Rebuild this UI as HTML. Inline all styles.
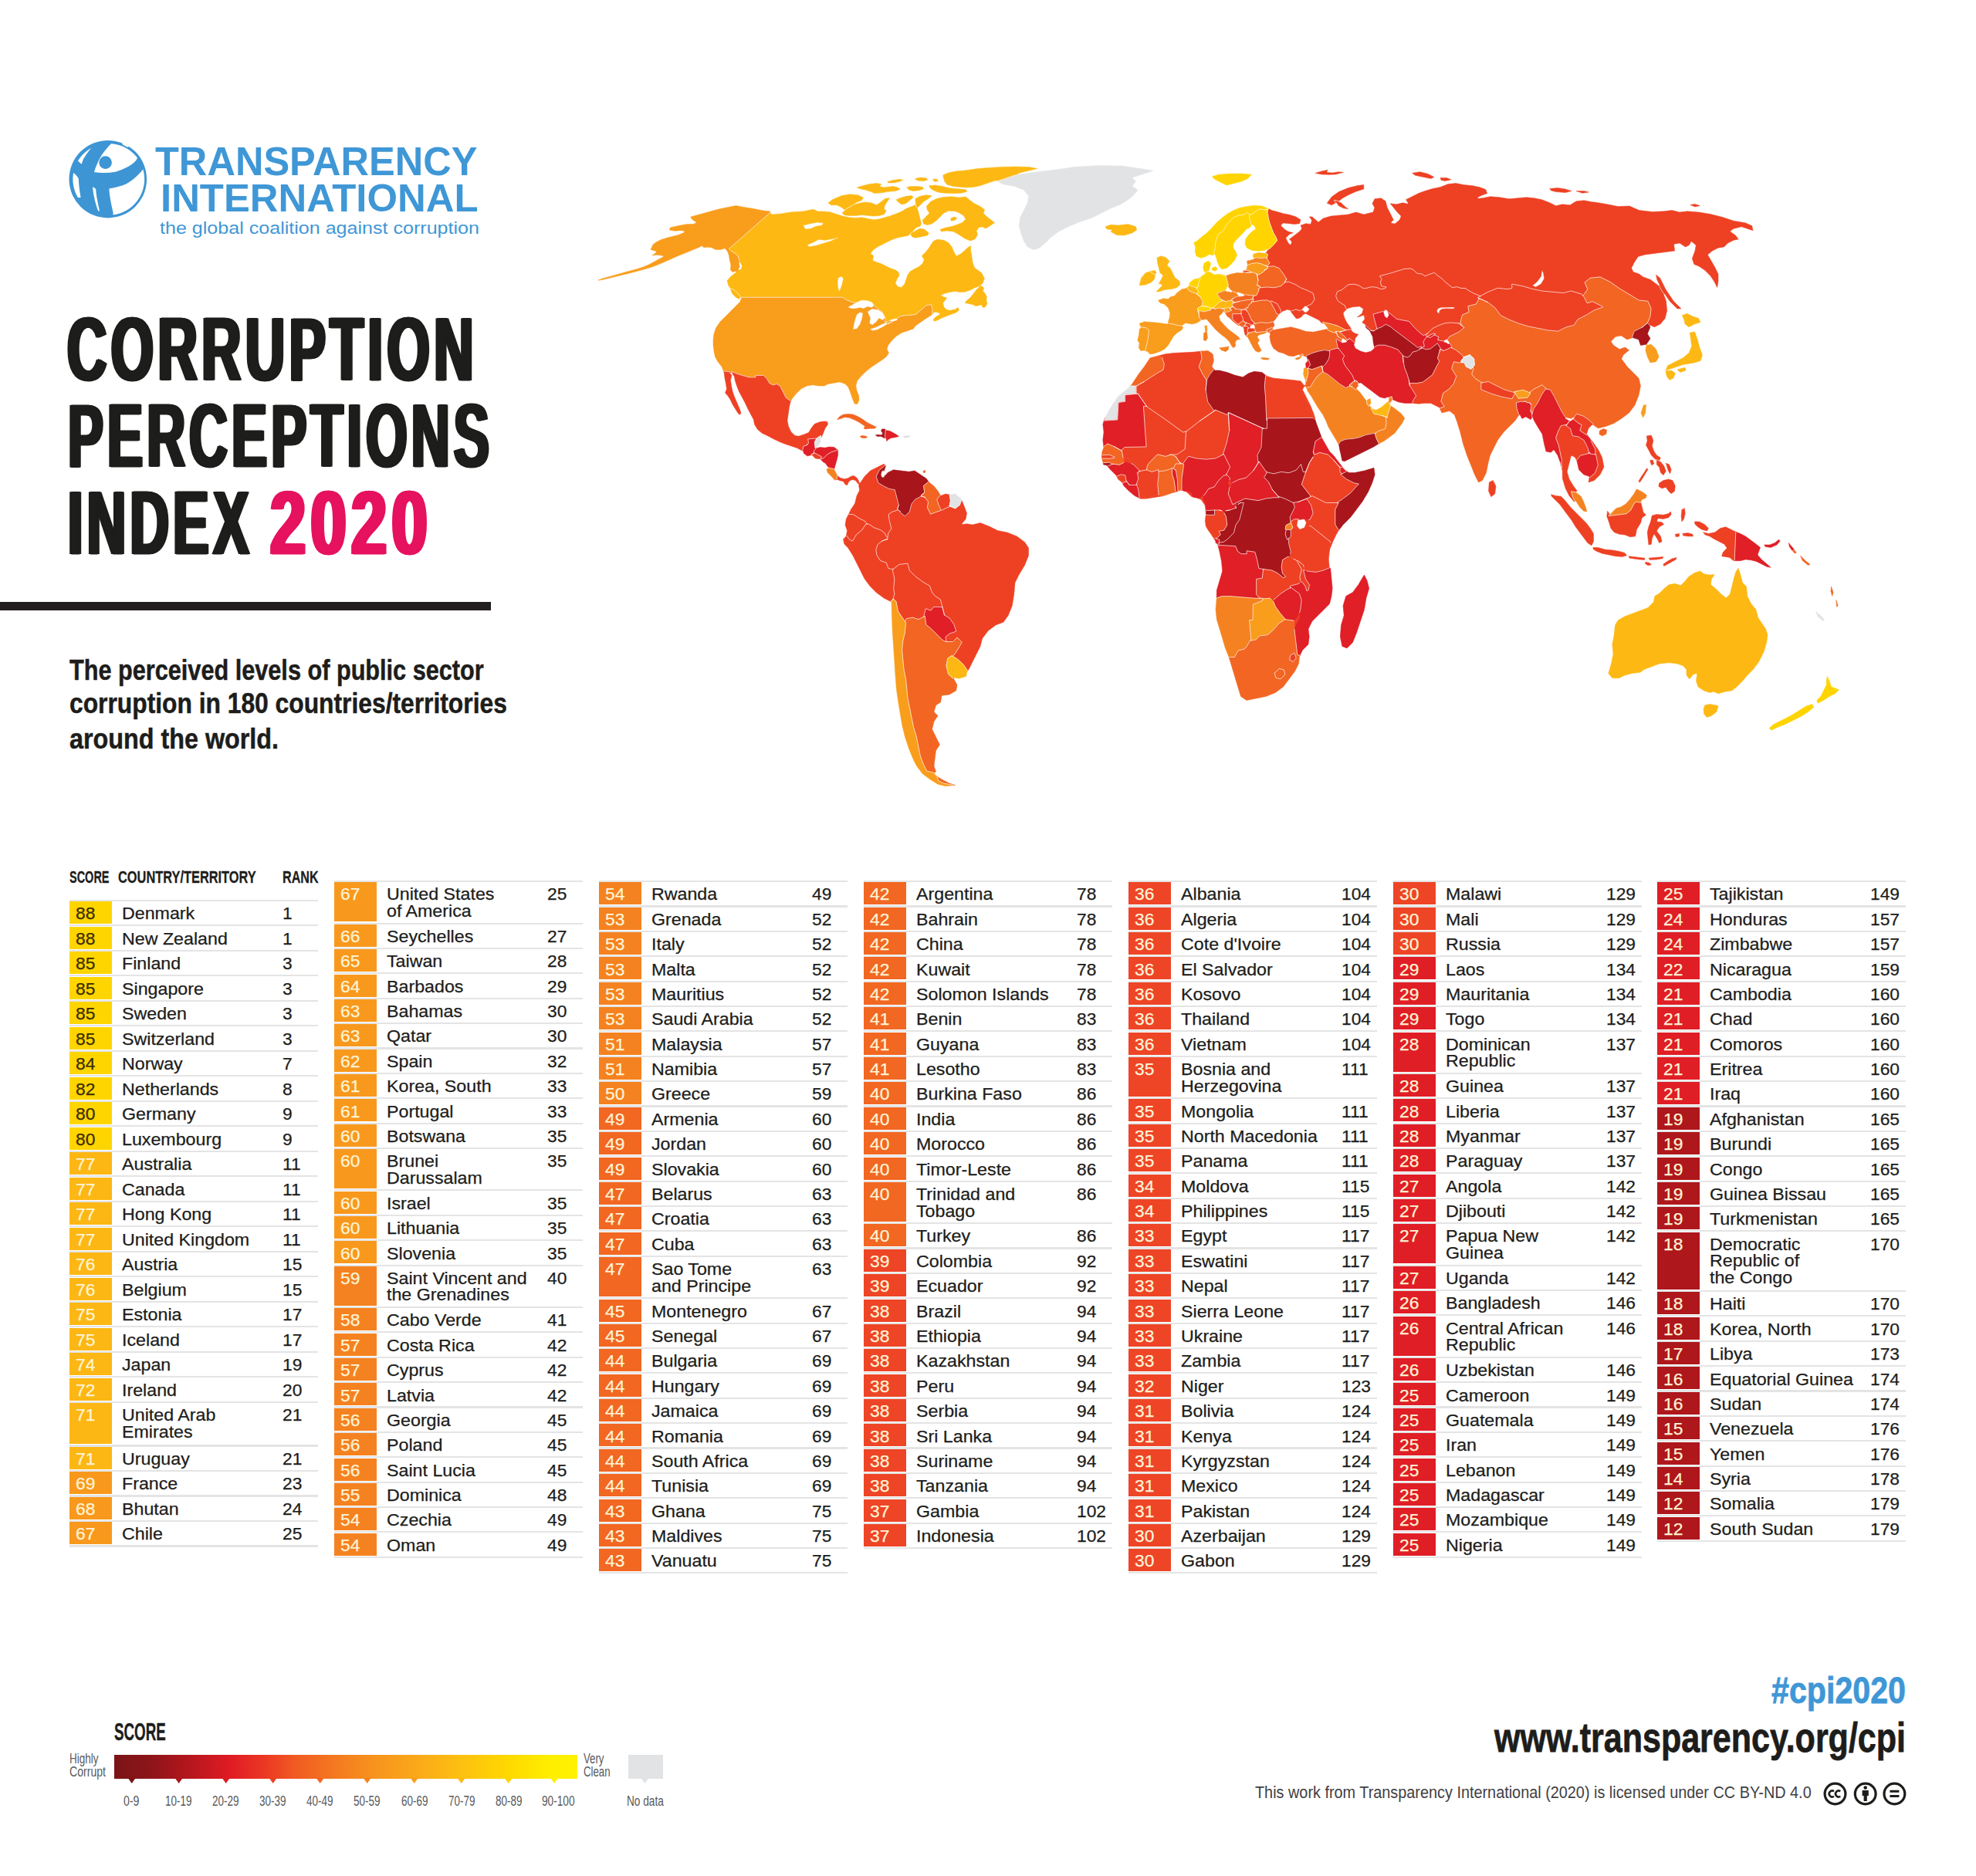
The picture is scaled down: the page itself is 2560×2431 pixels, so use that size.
<!DOCTYPE html>
<html><head><meta charset="utf-8"><title>Corruption Perceptions Index 2020</title>
<style>
html,body{margin:0;padding:0;background:#fff}
body{width:2560px;height:2431px;position:relative;overflow:hidden;font-family:"Liberation Sans",sans-serif}
.t{position:absolute;white-space:pre;transform-origin:0 50%}
.ln{position:absolute;width:322.7px;height:2.2px;background:#e4e4e4}
.sc{position:absolute;width:55.3px}
.n{position:absolute;white-space:pre;font-size:21.5px;line-height:21.6px;color:#1d1d1b;transform-origin:0 50%;-webkit-text-stroke:0.25px currentColor}
.n.s{transform:scaleX(1.06);line-height:21.5px}
.n.nm{transform:scaleX(1.08);transform-origin:0 0}
.rule{position:absolute;left:0;top:779.6px;width:635.8px;height:11.3px;background:#231f20}
</style></head><body>
<svg style="position:absolute;left:0;top:0" width="2560" height="1100" viewBox="0 0 2560 1100">
<g stroke-linejoin="round" stroke-width="0.5" fill-rule="evenodd">
<path d="M1767.9,412.5 1769.7,411.6 1770.8,409.9 1770.2,409.2 1767.6,409.8Z" fill="#EE4023" stroke="#EE4023"/>
<path d="M958.2,339.2 958.8,339.4 959.2,340.0 961.4,344.9 960.1,349.1 959.5,349.5 958.0,349.5 957.3,349.9 956.8,349.7 955.7,351.0 953.9,351.9 953.9,352.4 953.7,352.8 946.3,358.8 942.0,363.8 943.8,370.0 946.7,374.1 950.5,375.3 955.8,379.8 959.9,385.4 960.4,385.7 960.8,385.2 1091.6,385.2 1096.7,388.6 1105.2,391.9 1109.2,391.7 1116.2,388.8 1123.8,389.2 1129.5,391.2 1132.5,395.0 1131.8,396.0 1133.1,396.6 1143.3,404.3 1147.0,411.2 1146.9,411.4 1147.3,412.3 1146.3,418.8 1148.0,418.2 1147.7,417.0 1152.0,415.7 1151.2,415.5 1157.5,413.0 1161.5,412.6 1167.4,409.4 1186.3,407.6 1193.6,401.4 1200.1,395.6 1206.5,394.5 1208.0,400.9 1207.5,407.4 1210.5,404.4 1211.0,404.2 1215.7,405.0 1217.4,406.5 1217.7,407.0 1217.4,407.8 1213.3,410.1 1209.2,413.6 1210.1,416.2 1214.5,414.9 1219.6,412.3 1232.2,407.3 1238.6,405.0 1242.4,402.2 1241.1,398.4 1237.3,401.0 1230.9,402.2 1225.9,400.9 1222.9,397.9 1221.6,392.7 1224.6,389.0 1226.5,385.8 1222.0,384.7 1219.6,383.1 1219.4,382.5 1219.6,382.0 1224.6,380.1 1231.0,378.4 1237.3,377.6 1243.6,378.5 1249.9,378.2 1256.3,376.3 1262.6,373.1 1267.3,371.3 1268.2,371.5 1270.5,370.0 1270.7,369.1 1273.4,366.8 1275.3,360.5 1271.5,353.5 1262.5,347.0 1260.1,340.2 1257.5,323.9 1257.5,318.4 1253.0,321.5 1248.9,325.5 1244.0,329.5 1239.1,331.7 1238.5,331.3 1235.9,326.6 1232.8,319.4 1228.8,314.4 1222.6,311.3 1214.6,310.3 1209.5,312.3 1206.5,316.4 1203.4,321.5 1199.4,326.6 1194.3,331.6 1197.3,336.6 1195.3,341.6 1190.3,345.7 1184.2,348.8 1179.2,351.8 1176.1,355.9 1172.0,368.0 1167.9,372.4 1163.0,371.6 1160.0,367.1 1161.9,361.9 1165.0,356.9 1164.0,352.8 1159.9,349.8 1153.8,347.7 1141.7,341.7 1135.6,339.7 1130.9,337.7 1130.7,337.0 1131.6,331.6 1128.2,329.0 1127.9,328.3 1131.7,323.4 1137.7,319.4 1153.9,311.3 1161.9,308.3 1176.9,305.2 1178.6,303.4 1182.7,300.4 1182.6,299.8 1182.8,299.3 1187.4,294.7 1192.1,293.1 1193.6,290.0 1189.0,271.8 1188.1,270.0 1188.2,269.3 1186.0,265.7 1173.9,270.3 1169.4,273.3 1164.8,275.6 1152.7,280.1 1146.5,281.7 1138.9,283.9 1131.5,284.7 1116.2,281.7 1108.6,282.4 1099.4,281.7 1091.8,280.1 1075.2,274.8 1067.6,274.1 1060.0,274.1 1053.6,271.3 1040.4,273.9 1024.3,274.9 1012.2,276.9 1000.4,277.9 999.8,277.7 997.8,275.5 944.4,322.4 946.8,324.8 951.8,327.9 955.9,331.4ZM1089.1,374.1 1087.0,378.1 1085.4,372.1 1085.0,365.0 1086.0,359.9 1090.1,357.9 1092.7,360.9 1091.1,368.0ZM1076.9,312.3 1056.7,318.4 1048.6,319.8 1045.5,317.4 1054.7,313.4 1060.7,310.3 1068.8,311.3 1085.0,308.3ZM1050.6,296.2 1043.5,297.2 1040.5,292.1 1048.6,290.1 1058.7,288.1 1066.8,289.1 1064.8,292.1 1056.7,293.5ZM1149.2,418.7 1150.0,420.0 1149.9,420.1 1155.9,417.1Z" fill="#FDB813" stroke="#FDB813"/>
<path d="M1268.3,371.6 1268.5,372.1 1268.3,372.7 1265.8,374.4 1257.5,385.2 1252.5,389.6 1250.0,392.4 1260.0,394.6 1263.9,396.5 1267.7,395.9 1271.1,394.9 1271.8,395.3 1273.4,398.4 1276.5,397.8 1279.0,393.4 1277.8,389.0 1278.4,384.5 1276.5,380.7 1273.5,377.0 1274.6,373.1 1271.5,370.6 1270.8,370.4 1270.5,370.0Z" fill="#FDB813" stroke="#FDB813"/>
<path d="M950.5,375.3 946.7,374.0 946.6,374.5 946.3,375.0 948.8,380.5 953.0,385.0 957.5,387.5 958.8,385.4 959.4,385.2 960.0,385.4 955.8,379.8Z" fill="#FDB813" stroke="#FDB813"/>
<path d="M955.6,351.1 956.8,349.7 956.4,349.2 956.4,348.5 958.3,346.2 957.3,340.0 957.6,339.4 958.2,339.2 956.1,331.7 951.9,328.0 946.8,324.8 944.4,322.4 997.8,275.5 997.5,274.7 997.9,274.0 987.7,272.8 975.1,270.2 962.4,268.3 953.6,266.4 934.6,270.2 924.5,272.8 906.8,277.8 894.7,281.0 896.6,284.2 901.8,287.7 902.0,288.4 901.7,289.0 897.9,290.5 890.3,290.5 882.7,291.8 868.2,294.9 867.5,298.1 873.9,299.3 881.5,298.7 886.1,299.2 886.6,299.6 886.7,300.3 885.3,301.8 878.9,304.4 863.8,308.2 856.2,310.7 849.8,313.9 846.0,317.1 842.9,323.4 849.8,325.5 850.2,325.8 850.3,326.4 850.1,326.9 848.6,328.4 844.8,331.0 851.1,330.3 858.5,331.3 859.0,331.5 859.3,331.9 859.3,332.5 859.0,332.9 841.0,342.7 833.3,345.9 825.8,348.4 818.2,350.6 810.6,352.5 803.0,354.8 780.3,360.9 775.2,363.2 780.3,362.5 815.7,353.9 833.4,349.3 842.3,346.8 851.1,343.6 867.5,336.5 875.2,332.9 906.7,320.0 909.1,318.6 909.7,318.8 911.8,320.8 916.8,320.2 921.8,320.8 927.0,323.4 933.3,323.4 938.3,322.1 939.7,322.3 942.6,326.1 944.4,331.0 945.4,337.4 946.9,343.6 946.4,350.1 949.7,352.8 952.8,351.3 953.5,351.4 953.9,351.9Z" fill="#F99D1C" stroke="#F99D1C"/>
<path d="M960.4,385.7 960.7,386.1 960.7,386.7 960.0,387.5 958.7,391.3 932.5,417.5 927.5,425.0 925.0,432.5 924.0,440.0 924.0,447.5 925.0,455.0 926.5,462.5 930.0,468.7 935.0,475.0 937.9,481.9 937.5,480.9 945.5,482.0 946.0,482.6 947.5,482.5 947.2,481.6 947.4,481.4 957.8,485.3 970.2,488.9 979.0,488.9 979.0,486.4 989.2,486.4 993.3,490.6 997.0,496.7 1001.4,498.9 1006.4,497.6 1010.8,500.5 1018.3,515.5 1024.5,519.8 1024.1,520.6 1026.5,516.3 1031.5,510.0 1038.0,503.8 1045.5,500.0 1053.0,498.8 1060.5,500.0 1068.0,500.0 1073.0,497.5 1088.0,495.0 1095.0,497.5 1098.9,501.4 1101.5,508.0 1104.0,515.5 1107.0,523.0 1110.5,523.7 1113.0,518.7 1112.5,512.5 1110.0,506.2 1108.8,500.1 1110.6,493.6 1115.5,487.5 1120.5,482.5 1128.0,476.3 1143.0,466.3 1148.0,462.5 1151.5,457.5 1149.1,452.5 1150.5,447.5 1155.5,441.3 1160.4,436.3 1168.0,431.2 1183.0,426.2 1186.3,422.0 1200.0,412.5 1206.3,408.6 1207.5,407.4 1208.0,400.9 1206.5,394.5 1200.1,395.6 1193.6,401.4 1186.3,407.6 1167.4,409.4 1161.5,412.6 1163.0,412.5 1162.5,415.0 1156.2,417.0 1152.0,415.7 1147.7,417.0 1148.0,418.2 1148.8,418.0 1149.2,418.7 1155.9,417.1 1149.8,420.1 1143.8,423.8 1136.2,427.5 1130.0,428.8 1127.5,426.2 1135.0,423.8 1142.5,420.0 1146.3,418.8 1147.3,412.3 1146.9,411.4 1143.8,415.0 1138.8,412.5 1135.0,417.5 1130.0,421.2 1126.2,418.8 1127.5,412.5 1123.8,403.8 1130.0,400.0 1137.5,401.2 1143.6,404.9 1143.3,404.3 1133.1,396.6 1131.8,396.0 1130.0,398.8 1123.8,397.5 1118.8,400.0 1113.8,398.8 1108.8,400.0 1103.0,400.0 1098.0,398.0 1103.8,395.0 1109.2,391.7 1105.2,391.9 1096.7,388.6 1091.6,385.2 960.8,385.2ZM1108.0,412.5 1110.0,407.5 1113.8,404.5 1118.0,405.5 1117.0,412.5 1114.5,420.0 1110.0,426.2 1105.0,427.0 1106.2,420.0Z" fill="#F99D1C" stroke="#F99D1C"/>
<path d="M1044.7,577.1 1045.1,576.4 1045.9,575.9 1046.5,575.9 1047.5,573.9 1046.7,568.9 1057.5,568.1 1057.5,568.9 1058.1,567.9 1063.4,564.4 1063.7,567.1 1064.0,567.0 1065.9,562.7 1066.4,562.1 1066.6,561.0 1069.0,555.0 1072.5,550.0 1072.2,548.8 1072.5,547.9 1071.8,547.3 1071.5,546.3 1069.6,546.2 1068.6,545.9 1065.0,546.3 1061.2,547.1 1055.1,549.5 1051.3,554.5 1047.6,560.5 1041.7,562.9 1034.7,565.2 1030.0,564.5 1024.9,559.8 1021.5,552.5 1020.0,545.1 1022.5,527.5 1024.0,520.9 1024.5,519.8 1018.3,515.5 1010.8,500.5 1006.4,497.6 1001.4,498.9 997.0,496.7 993.3,490.6 989.2,486.4 979.0,486.4 979.0,488.9 970.2,488.9 957.8,485.3 947.4,481.4 947.2,481.6 947.5,482.5 948.7,483.1 949.5,485.5 951.2,487.6 952.5,493.8 954.5,500.0 957.5,507.5 965.5,522.5 969.0,530.0 976.4,543.9 977.5,550.0 981.5,556.5 987.5,561.5 995.0,565.0 1002.5,569.0 1010.0,572.5 1017.5,575.5 1032.5,580.5 1039.5,584.2 1041.0,578.1Z" fill="#EE4023" stroke="#EE4023"/>
<path d="M937.5,480.9 938.0,482.1 939.0,490.0 940.5,497.5 941.5,503.9 939.5,509.0 943.0,513.1 946.2,517.9 949.0,524.0 955.5,534.5 958.0,537.5 960.0,535.5 958.5,530.5 951.0,513.0 949.0,507.0 947.5,500.0 946.5,492.5 948.0,486.2 945.8,483.8 945.7,483.1 946.1,482.6 945.5,482.0Z" fill="#EE4023" stroke="#EE4023"/>
<path d="M1041.0,578.1 1039.6,583.8 1039.6,584.2 1040.3,584.2 1040.7,584.6 1041.3,587.5 1046.1,591.1 1050.6,589.8 1054.2,587.5 1054.2,584.6 1058.1,580.0 1057.9,579.8 1056.1,580.4 1055.4,572.6 1057.5,568.9 1057.5,568.1 1046.7,568.9 1047.5,573.9 1046.5,575.8 1045.9,575.7 1045.0,576.2 1044.5,577.2Z" fill="#E01F26" stroke="#E01F26"/>
<path d="M1056.1,580.4 1057.9,579.8 1057.8,579.1 1058.3,578.6 1060.7,577.7 1063.1,571.7 1062.7,568.1 1063.0,567.5 1063.7,567.1 1063.4,564.4 1058.1,567.9 1055.4,572.6Z" fill="#E2E3E4" stroke="#E2E3E4"/>
<path d="M1054.2,587.5 1055.2,586.9 1060.6,589.6 1064.5,591.9 1063.2,594.5 1063.5,594.9 1067.4,593.2 1071.6,589.1 1076.7,585.9 1082.8,584.0 1085.1,582.9 1080.7,579.6 1074.7,579.0 1068.6,580.2 1062.5,579.6 1059.1,580.6 1058.1,580.0 1054.2,584.6Z" fill="#E01F26" stroke="#E01F26"/>
<path d="M1051.3,589.5 1052.1,589.8 1056.4,594.1 1061.9,594.7 1062.5,594.3 1063.2,594.5 1064.5,591.9 1055.2,586.7 1050.3,589.7 1050.5,589.8Z" fill="#EE4023" stroke="#EE4023"/>
<path d="M1080.8,607.7 1083.8,597.2 1085.6,589.9 1085.6,583.2 1085.1,582.9 1082.8,584.0 1076.7,585.9 1071.6,589.1 1067.4,593.2 1063.5,594.9 1063.7,596.0 1066.2,598.4 1069.8,600.8 1072.2,604.5 1073.6,605.4 1073.9,605.9 1077.3,607.1Z" fill="#E01F26" stroke="#E01F26"/>
<path d="M1084.7,616.0 1080.8,608.8 1080.8,607.7 1077.3,607.1 1073.9,605.9 1073.6,606.8 1071.0,608.1 1072.2,612.4 1078.3,618.4 1081.3,622.1 1081.4,622.1 1084.4,621.5 1083.9,621.6Z" fill="#F58220" stroke="#F58220"/>
<path d="M1083.9,621.6 1084.9,621.4 1088.0,622.7 1092.7,623.9 1094.7,627.5 1097.7,628.7 1099.1,625.0 1101.4,622.7 1104.8,621.5 1108.6,622.7 1111.1,626.3 1112.4,627.0 1113.2,625.8 1112.3,622.7 1109.9,619.0 1106.2,616.6 1102.6,617.2 1098.9,619.6 1094.0,620.8 1089.2,619.6 1085.3,617.1 1084.7,616.0Z" fill="#EE4023" stroke="#EE4023"/>
<path d="M1089.3,542.5 1094.3,540.7 1100.2,541.3 1106.2,543.7 1112.3,546.8 1120.2,551.9 1120.4,552.8 1119.0,555.3 1122.0,555.9 1126.9,555.3 1133.0,555.3 1135.4,553.4 1123.3,547.4 1117.2,543.1 1111.1,539.5 1105.0,537.0 1099.0,536.4 1092.9,537.0 1088.0,539.5 1084.4,543.7Z" fill="#F26522" stroke="#F26522"/>
<path d="M1116.6,567.4 1120.8,567.8 1123.8,566.6 1121.4,565.0 1117.2,564.4 1114.1,565.6Z" fill="#F26522" stroke="#F26522"/>
<path d="M1146.3,555.9 1142.7,555.9 1141.5,558.3 1143.5,561.3 1143.6,561.8 1143.3,562.4 1141.7,563.6 1141.2,563.7 1137.8,563.2 1134.2,563.8 1136.6,565.6 1141.5,565.6 1146.3,568.0 1146.8,567.5 1146.5,565.7 1147.2,556.7Z" fill="#A8151B" stroke="#A8151B"/>
<path d="M1146.8,567.5 1147.5,567.5 1148.0,568.0 1148.8,571.7 1151.2,569.2 1154.8,567.4 1159.7,566.8 1164.5,565.6 1161.5,563.2 1157.2,560.7 1152.4,558.3 1148.2,557.7 1147.2,556.7 1146.5,565.7Z" fill="#E01F26" stroke="#E01F26"/>
<path d="M1171.2,567.4 1178.5,566.8 1177.9,564.4 1170.6,565.0Z" fill="#E2E3E4" stroke="#E2E3E4"/>
<path d="M1299.0,238.7 1314.0,241.3 1326.3,246.2 1332.6,253.7 1331.5,262.5 1321.5,282.5 1320.3,292.5 1322.8,302.5 1326.5,312.5 1331.5,320.0 1339.0,323.7 1346.5,321.2 1354.0,315.0 1361.6,307.5 1371.6,300.0 1384.0,293.7 1399.0,287.5 1414.0,282.5 1439.0,270.0 1451.5,265.0 1461.5,258.8 1469.0,252.5 1474.0,246.3 1467.0,241.4 1467.1,240.6 1471.5,235.0 1467.5,231.0 1467.3,230.4 1467.5,229.9 1494.0,221.3 1479.0,218.7 1454.0,215.0 1424.0,214.5 1394.0,216.2 1366.5,220.0 1336.5,223.7 1319.9,226.2 1319.3,226.1 1318.9,225.7 1309.3,228.8 1298.7,232.6 1292.4,234.4Z" fill="#E2E3E4" stroke="#E2E3E4"/>
<path d="M1434.0,297.0 1439.9,297.5 1440.3,298.0 1440.3,298.6 1439.0,300.0 1446.5,304.5 1456.5,305.0 1466.5,302.0 1472.7,298.0 1471.5,293.8 1461.5,290.5 1449.0,292.0 1439.0,291.3 1432.0,293.8Z" fill="#FDB813" stroke="#FDB813"/>
<path d="M1255.0,867.5 1270.0,837.5 1272.6,827.4 1280.0,817.5 1290.0,810.0 1300.0,806.2 1306.2,797.5 1311.3,785.0 1313.7,770.0 1315.0,755.0 1320.0,745.0 1327.5,732.5 1332.5,720.0 1332.5,710.0 1327.5,702.5 1317.5,695.0 1305.0,690.0 1292.5,687.5 1282.5,682.5 1270.0,677.5 1260.0,680.0 1252.5,678.8 1247.4,679.6 1246.7,679.4 1246.4,678.9 1246.5,678.2 1251.2,672.5 1252.5,665.0 1248.8,655.0 1245.6,647.7 1243.4,654.4 1237.7,658.7 1231.2,656.1 1225.4,658.5 1221.4,660.5 1221.5,660.6 1219.5,661.4 1212.9,663.5 1205.7,666.3 1201.4,657.7 1202.6,650.3 1199.0,645.4 1198.9,644.6 1193.7,642.8 1193.1,643.4 1185.7,647.1 1181.0,653.0 1178.4,663.0 1172.6,668.9 1166.6,664.4 1166.2,662.5 1165.6,662.3 1163.4,660.7 1155.5,663.4 1151.1,666.7 1152.3,674.8 1154.9,685.2 1151.0,690.4 1149.8,697.3 1150.3,698.0 1149.7,698.3 1149.5,699.5 1148.8,699.6 1148.3,698.8 1143.0,700.9 1137.1,705.6 1134.8,712.6 1136.0,719.6 1140.7,726.6 1148.3,729.2 1150.8,736.6 1157.2,737.6 1164.6,731.5 1175.8,730.1 1178.4,739.4 1185.7,746.7 1195.6,754.1 1204.6,759.3 1207.2,767.0 1210.7,771.7 1218.4,776.9 1223.4,796.9 1230.8,801.7 1236.0,809.5 1238.8,818.2 1230.5,820.9 1224.9,825.4 1225.9,831.5 1234.6,831.5 1240.0,826.0 1246.3,832.3 1238.4,845.6 1234.5,850.4 1240.6,854.2 1248.3,861.3 1253.7,869.2 1253.1,870.1Z" fill="#EE4023" stroke="#EE4023"/>
<path d="M1148.8,699.6 1149.5,699.5 1149.7,698.3 1148.3,698.8ZM1151.0,690.4 1154.9,685.2 1152.3,674.8 1151.1,666.7 1155.5,663.4 1163.3,660.8 1162.7,660.1 1162.7,659.5 1164.0,655.5 1164.5,655.0 1161.5,642.8 1159.2,634.7 1152.2,633.5 1144.5,629.7 1137.9,625.7 1135.1,617.4 1139.2,609.3 1146.8,603.0 1145.0,601.3 1127.5,610.0 1120.0,617.5 1114.5,625.7 1113.9,626.0 1113.2,625.8 1112.4,627.0 1112.9,627.7 1112.5,628.8 1113.6,635.2 1110.0,642.5 1107.5,652.5 1102.5,660.0 1099.3,666.5 1105.3,666.5 1113.0,671.6 1120.7,675.4 1123.1,679.0 1125.3,679.0 1133.0,684.0 1140.5,686.6 1145.8,690.5 1149.8,697.3Z" fill="#EE4023" stroke="#EE4023"/>
<path d="M1159.2,634.7 1161.5,642.8 1164.5,654.9 1163.8,655.5 1162.5,659.4 1162.6,660.0 1165.5,662.4 1166.2,662.6 1166.6,664.4 1172.6,668.9 1178.4,663.0 1181.0,653.0 1185.7,647.1 1193.1,643.4 1193.8,642.8 1193.5,642.2 1193.7,641.5 1197.9,638.3 1196.4,629.6 1203.1,624.2 1203.7,624.9 1200.0,620.0 1200.0,620.0 1185.0,610.0 1177.5,611.2 1157.5,608.8 1150.0,612.5 1147.3,616.0 1146.7,616.2 1146.0,615.9 1145.7,618.4 1142.7,619.0 1141.2,615.4 1142.1,611.1 1144.5,609.3 1145.2,610.7 1147.5,603.8 1146.8,603.0 1139.2,609.3 1135.1,617.4 1137.9,625.7 1144.5,629.7 1152.2,633.5Z" fill="#A8151B" stroke="#A8151B"/>
<path d="M1199.0,645.4 1202.6,650.3 1201.4,657.7 1205.7,666.3 1212.9,663.5 1219.5,661.3 1216.5,655.4 1213.8,647.3 1218.2,641.6 1215.0,636.2 1210.0,630.0 1203.8,625.1 1203.1,624.2 1196.4,629.6 1197.8,638.2 1193.7,641.4 1193.3,642.0 1193.4,642.6 1193.8,643.1 1198.9,644.7Z" fill="#F26522" stroke="#F26522"/>
<path d="M1216.5,655.4 1219.5,661.4 1225.4,658.5 1231.2,656.1 1230.0,655.7 1231.4,648.7 1230.1,641.0 1231.1,641.2 1225.0,640.0 1225.0,640.0 1219.4,642.2 1218.8,642.2 1218.1,641.6 1213.8,647.3Z" fill="#EE4023" stroke="#EE4023"/>
<path d="M1243.4,654.4 1245.6,647.7 1245.0,646.3 1237.5,640.0 1231.3,641.2 1230.1,641.0 1231.4,648.7 1229.9,655.8 1237.7,658.8Z" fill="#E2E3E4" stroke="#E2E3E4"/>
<path d="M1120.7,675.4 1113.0,671.6 1105.3,666.5 1099.3,666.5 1096.3,672.5 1095.0,680.0 1097.5,687.5 1096.3,694.7 1096.5,693.6 1100.7,699.2 1104.6,701.1 1109.2,693.1 1116.7,686.8 1121.9,679.0 1123.1,679.0Z" fill="#EE4023" stroke="#EE4023"/>
<path d="M1148.3,729.2 1140.7,726.6 1136.0,719.6 1134.8,712.6 1137.1,705.6 1142.9,701.0 1150.3,698.0 1145.8,690.5 1140.5,686.6 1133.0,684.0 1125.3,679.0 1121.9,679.0 1116.7,686.8 1109.2,693.1 1104.6,701.1 1100.7,699.2 1096.5,693.6 1096.1,695.1 1092.5,698.8 1093.8,705.0 1098.7,710.0 1105.0,720.0 1120.0,750.0 1127.5,760.0 1135.0,767.5 1145.0,775.0 1154.0,779.5 1156.6,776.9 1158.9,769.9 1157.7,762.5 1158.9,750.1 1156.3,738.4 1157.2,737.6 1150.8,736.6Z" fill="#EE4023" stroke="#EE4023"/>
<path d="M1157.7,762.5 1158.9,769.9 1156.6,776.9 1157.5,776.0 1161.0,779.5 1163.5,792.1 1172.4,805.4 1174.3,801.6 1182.6,800.2 1189.9,802.6 1196.6,799.3 1199.3,788.6 1205.9,791.2 1209.5,786.5 1220.8,786.5 1221.3,788.5 1218.4,776.9 1210.7,771.7 1207.2,767.0 1204.6,759.3 1195.6,754.1 1185.7,746.7 1178.4,739.4 1175.8,730.1 1164.6,731.5 1156.3,738.4 1158.9,750.1Z" fill="#EE4023" stroke="#EE4023"/>
<path d="M1230.5,820.9 1238.8,818.2 1236.0,809.5 1230.8,801.7 1223.5,796.9 1220.9,786.3 1209.5,786.5 1205.9,791.2 1199.3,788.6 1196.6,799.3 1198.4,798.4 1199.7,809.4 1205.7,814.2 1220.6,829.1 1225.2,831.5 1225.9,831.5 1224.9,825.4Z" fill="#E01F26" stroke="#E01F26"/>
<path d="M1212.5,1000.0 1210.0,992.4 1212.5,972.7 1217.5,965.0 1207.6,945.0 1210.0,935.1 1215.0,927.5 1210.3,922.8 1210.1,922.1 1212.6,913.8 1218.7,910.0 1219.9,901.9 1220.2,901.4 1220.7,901.2 1230.0,900.0 1238.7,895.0 1240.0,887.5 1235.3,879.1 1234.5,879.0 1228.6,873.6 1225.9,862.5 1227.8,853.1 1233.0,849.5 1234.5,850.4 1238.4,845.6 1246.3,832.3 1240.0,826.0 1234.6,831.5 1225.2,831.5 1220.6,829.1 1205.7,814.2 1199.7,809.4 1198.4,798.4 1189.9,802.6 1182.6,800.2 1174.3,801.6 1172.4,805.4 1173.6,807.2 1172.3,820.2 1169.8,830.2 1168.6,842.5 1171.0,867.3 1173.5,879.8 1176.0,904.8 1183.5,942.2 1187.3,954.7 1192.3,979.7 1196.0,989.6 1200.7,999.1 1210.7,1001.8Z" fill="#F26522" stroke="#F26522"/>
<path d="M1237.5,1017.5 1229.9,1015.0 1220.1,1010.0 1213.9,1005.9 1215.9,1011.8 1222.8,1015.2 1234.6,1017.3 1234.6,1017.8Z" fill="#F26522" stroke="#F26522"/>
<path d="M1228.6,873.6 1234.5,879.0 1235.3,879.1 1235.7,878.4 1236.3,878.2 1242.5,879.2 1251.5,876.5 1252.9,870.3 1253.7,869.2 1248.3,861.3 1240.6,854.2 1233.0,849.5 1227.8,853.1 1225.9,862.5Z" fill="#FDB813" stroke="#FDB813"/>
<path d="M1215.9,1011.8 1213.9,1005.9 1212.5,1005.0 1210.6,1003.1 1210.4,1002.4 1210.7,1001.8 1210.5,1001.6 1200.7,999.1 1196.0,989.6 1192.3,979.7 1187.3,954.7 1183.5,942.2 1176.0,904.8 1173.5,879.8 1171.0,867.3 1168.6,842.5 1169.8,830.2 1172.3,820.2 1173.6,807.2 1163.5,792.1 1161.0,779.5 1157.5,775.9 1153.9,779.5 1154.7,779.9 1155.0,780.5 1155.5,800.0 1156.2,817.5 1160.0,875.0 1161.3,892.5 1163.8,910.0 1168.8,940.0 1172.5,955.0 1177.5,970.0 1182.5,982.5 1187.5,992.5 1195.0,1002.5 1205.0,1010.0 1215.0,1016.2 1225.0,1018.7 1234.6,1017.8 1234.6,1017.3 1222.8,1015.2Z" fill="#F99D1C" stroke="#F99D1C"/>
<path d="M1642.5,271.7 1641.6,275.3 1642.4,276.3 1643.2,282.2 1644.8,288.6 1649.6,301.4 1652.9,307.0 1654.7,311.7 1650.2,317.1 1645.2,322.1 1642.8,323.3 1642.8,324.0 1641.4,326.0 1639.8,327.7 1642.6,329.7 1641.1,334.5 1645.0,340.8 1641.6,345.3 1640.9,344.4 1642.0,345.8 1642.4,345.6 1649.7,344.7 1657.0,347.4 1662.2,354.3 1666.8,361.7 1664.2,366.1 1669.0,364.9 1677.7,368.4 1685.8,373.2 1693.9,376.4 1701.1,380.0 1703.1,388.0 1699.2,393.8 1692.8,397.0 1696.0,399.9 1696.4,401.0 1695.9,402.0 1695.0,402.4 1695.1,402.7 1691.5,405.6 1691.9,406.4 1709.2,415.1 1712.2,418.7 1713.6,419.0 1713.1,418.3 1713.6,417.5 1724.6,419.7 1732.9,422.2 1743.9,427.7 1750.5,426.9 1749.9,424.9 1745.0,418.3 1741.8,411.9 1741.0,408.9 1740.4,407.5 1740.6,407.3 1740.3,406.0 1740.5,405.1 1744.3,401.0 1742.2,395.8 1737.5,393.0 1733.1,389.6 1730.6,383.6 1732.6,377.7 1737.7,376.0 1746.9,368.8 1753.8,368.2 1760.4,369.8 1766.2,373.7 1770.6,373.3 1776.8,371.7 1783.4,372.3 1789.2,374.7 1793.5,373.9 1795.9,372.5 1795.7,371.8 1789.8,370.8 1788.3,365.1 1790.2,361.8 1787.4,357.7 1802.8,353.6 1819.1,348.5 1828.0,347.9 1832.7,350.9 1835.5,354.1 1842.4,355.1 1846.0,357.9 1851.2,355.7 1858.3,353.3 1863.0,357.4 1868.1,361.0 1873.2,366.1 1881.6,372.7 1887.4,371.7 1892.6,373.3 1899.1,373.8 1901.0,375.6 1908.7,379.8 1917.9,383.7 1927.3,378.5 1940.3,373.3 1952.9,374.6 1958.8,373.6 1958.8,368.0 1973.4,370.9 1985.9,374.6 1998.2,377.1 2025.4,379.6 2035.5,377.0 2049.0,381.1 2050.8,383.3 2056.8,374.9 2053.0,365.9 2060.1,360.2 2073.2,358.9 2086.0,365.3 2098.6,374.1 2123.3,389.0 2135.0,390.3 2139.1,399.8 2137.8,410.3 2134.1,418.7 2134.3,418.6 2137.4,421.8 2138.3,421.6 2143.5,423.7 2151.0,420.0 2157.2,412.5 2159.7,402.5 2158.5,390.0 2155.4,381.8 2155.7,380.9 2152.1,375.5 2149.5,370.3 2148.7,370.2 2138.5,362.5 2128.5,358.8 2123.5,355.0 2116.4,352.6 2115.9,352.2 2113.7,347.8 2113.7,347.2 2117.3,340.0 2122.2,332.6 2131.1,330.0 2169.7,325.0 2168.6,317.0 2169.1,316.2 2176.1,315.1 2183.5,320.0 2188.5,317.5 2190.6,313.3 2191.1,313.0 2191.6,313.1 2196.8,317.2 2197.2,317.8 2196.0,325.0 2192.3,335.0 2194.8,342.5 2201.0,345.0 2208.6,350.1 2216.0,357.6 2221.0,365.0 2224.7,372.5 2226.0,365.0 2226.0,355.0 2221.0,345.0 2212.6,330.6 2212.6,329.8 2218.5,325.0 2225.9,321.3 2233.5,320.0 2238.5,315.0 2245.9,311.3 2252.2,310.0 2248.5,305.0 2241.7,300.3 2241.7,299.8 2241.9,299.3 2246.0,296.3 2256.1,293.8 2271.0,298.7 2269.7,292.5 2261.0,288.8 2246.0,286.2 2231.0,281.3 2216.0,277.5 2201.0,275.0 2186.0,273.8 2176.0,275.0 2166.0,272.5 2156.0,273.8 2140.9,274.5 2123.5,272.5 2111.0,267.0 2096.0,267.5 2081.0,264.5 2066.0,262.0 2062.3,261.7 2052.2,259.7 2042.1,260.7 2034.0,265.7 2023.9,264.8 2015.8,266.7 2007.7,262.7 1997.6,258.7 1987.5,256.7 1977.4,255.7 1955.1,257.7 1942.9,255.7 1930.8,254.7 1920.7,256.7 1915.1,257.2 1914.7,256.9 1914.4,256.5 1914.5,255.9 1914.8,255.5 1918.7,253.6 1926.7,250.6 1924.7,245.5 1916.6,242.5 1906.5,240.5 1896.3,239.5 1886.2,237.5 1876.1,238.5 1866.0,242.5 1855.9,244.5 1845.8,247.6 1837.7,250.6 1821.5,258.7 1824.3,263.0 1824.2,263.8 1823.7,264.2 1817.4,262.8 1809.3,264.8 1801.2,263.8 1810.3,274.9 1815.2,280.0 1813.3,285.0 1807.2,290.0 1802.9,289.3 1802.3,288.9 1802.2,288.4 1802.4,287.9 1805.3,285.0 1797.2,268.8 1795.1,260.7 1789.1,256.7 1781.0,257.7 1777.9,263.8 1780.9,268.9 1779.1,274.5 1778.5,275.0 1766.9,277.9 1756.7,274.9 1746.6,277.9 1724.3,280.0 1714.2,283.0 1708.2,287.8 1707.5,287.6 1700.0,281.0 1696.4,280.8 1699.6,285.6 1698.2,290.0 1697.4,290.4 1691.6,289.7 1685.1,292.1 1686.6,296.2 1683.6,300.1 1670.5,309.9 1673.6,313.2 1672.6,316.7 1671.9,317.2 1671.2,317.0 1668.9,314.7 1666.0,308.9 1665.9,308.3 1670.5,303.5 1675.4,301.8 1668.8,300.1 1664.0,296.9 1659.8,292.7 1659.6,291.8 1662.1,289.2 1662.7,288.9 1677.0,290.5 1683.5,289.7 1685.1,284.8 1678.6,280.8 1670.5,278.3 1662.4,276.7 1654.3,274.3 1648.0,272.7 1644.2,270.8ZM1996.6,357.9 1997.6,349.8 1999.6,353.8 2000.6,360.9 1996.6,368.0 1989.5,372.1 1985.4,370.0 1991.5,365.0Z" fill="#EE4023" stroke="#EE4023"/>
<path d="M2155.7,380.9 2156.3,380.7 2156.9,380.9 2163.0,390.0 2173.0,400.0 2178.0,400.0 2168.0,390.0 2158.0,375.0 2150.5,360.0 2145.5,356.3 2146.8,362.5 2150.1,369.2 2150.0,369.9 2149.5,370.3 2152.1,375.5Z" fill="#EE4023" stroke="#EE4023"/>
<path d="M2196.0,268.0 2202.2,266.5 2196.0,264.5 2189.8,265.5Z" fill="#EE4023" stroke="#EE4023"/>
<path d="M1610.6,351.2 1610.9,352.5 1615.5,353.3 1620.0,352.9 1618.6,351.1 1613.8,350.1 1614.4,349.9Z" fill="#EE4023" stroke="#EE4023"/>
<path d="M1623.4,390.7 1624.1,391.2 1624.6,390.9 1633.1,389.2 1641.7,388.9 1645.9,390.7 1646.8,389.7 1654.7,393.7 1658.3,399.9 1659.8,404.6 1658.4,405.4 1662.4,403.0 1665.8,401.9 1667.5,401.1 1674.1,402.8 1678.8,400.9 1683.7,402.6 1686.8,401.5 1686.8,400.9 1687.1,400.3 1690.7,396.6 1691.9,396.4 1692.8,397.0 1699.2,393.8 1703.1,388.0 1701.1,380.0 1693.9,376.4 1685.8,373.2 1677.7,368.4 1669.0,364.9 1664.2,366.1 1663.7,366.8 1660.0,370.5 1651.2,372.8 1641.4,372.0 1633.1,372.8 1632.3,372.5 1630.4,374.7 1631.0,376.4 1627.9,382.6 1624.1,383.6 1622.3,387.9 1624.3,387.7Z" fill="#EE4023" stroke="#EE4023"/>
<path d="M1628.5,369.7 1631.8,370.7 1632.4,371.5 1632.3,372.5 1633.1,372.8 1641.4,372.0 1651.2,372.8 1660.0,370.5 1663.9,366.9 1666.9,361.7 1662.2,354.3 1657.0,347.4 1649.7,344.7 1642.4,345.6 1642.0,345.8 1642.3,346.8 1642.0,347.8 1639.6,349.4 1638.5,349.6 1637.9,351.5 1632.4,355.1 1628.6,356.4 1630.1,363.4Z" fill="#F26522" stroke="#F26522"/>
<path d="M1639.1,272.2 1641.4,271.1 1642.1,271.1 1642.5,271.7 1644.2,270.8 1634.9,267.0 1625.2,266.2 1615.5,267.5 1605.7,269.4 1597.7,272.7 1589.6,277.5 1583.1,282.4 1576.6,288.0 1570.1,295.3 1563.7,301.8 1557.2,306.7 1550.7,312.3 1546.6,314.8 1548.7,319.6 1548.3,326.1 1549.9,331.8 1555.5,334.2 1562.0,332.6 1566.9,329.5 1571.7,331.0 1572.8,329.2 1572.3,327.8 1574.3,321.1 1574.7,314.6 1576.4,307.9 1579.1,302.7 1582.5,301.0 1585.5,298.0 1588.7,291.5 1598.7,281.5 1605.5,278.9 1611.8,278.1 1615.5,275.4 1619.7,278.7 1627.8,273.4 1631.4,270.8 1638.7,271.7Z" fill="#FFD400" stroke="#FFD400"/>
<path d="M1605.5,278.9 1598.7,281.5 1588.7,291.5 1585.5,298.0 1582.5,301.0 1579.1,302.7 1576.4,307.9 1574.7,314.6 1574.3,321.1 1572.3,327.8 1572.8,329.2 1573.5,329.1 1574.1,329.7 1575.8,334.2 1577.4,339.9 1579.8,345.5 1583.1,348.8 1589.6,347.2 1594.4,343.1 1599.3,337.4 1602.5,331.0 1600.9,326.1 1597.7,321.2 1597.8,316.2 1600.9,311.5 1610.6,301.8 1614.6,297.0 1619.5,294.5 1621.4,291.4 1621.0,291.1 1619.3,285.0 1618.4,279.4 1619.6,278.5 1615.5,275.4 1611.8,278.1Z" fill="#FFD400" stroke="#FFD400"/>
<path d="M1621.0,291.1 1621.4,291.4 1621.9,291.0 1622.6,291.0 1625.8,293.6 1626.7,296.8 1626.3,297.3 1621.9,300.2 1617.1,305.0 1613.8,309.9 1613.0,316.4 1615.5,321.3 1622.0,324.5 1630.0,325.3 1638.1,324.5 1641.7,322.7 1642.3,322.8 1642.8,323.3 1645.2,322.1 1650.2,317.1 1654.7,311.7 1652.9,307.0 1649.6,301.4 1644.8,288.6 1643.2,282.2 1642.4,276.3 1641.7,275.5 1642.7,272.1 1642.6,271.5 1642.2,271.0 1641.3,270.9 1639.0,272.1 1638.7,271.7 1631.4,270.8 1623.0,276.6 1618.4,279.4 1619.3,285.0Z" fill="#FFD400" stroke="#FFD400"/>
<path d="M1574.0,232.5 1589.0,240.0 1609.0,235.0 1616.5,231.2 1621.5,226.3 1609.0,225.0 1594.0,225.0 1579.0,226.2 1570.3,228.8Z" fill="#FFD400" stroke="#FFD400"/>
<path d="M1565.7,351.4 1567.2,347.0 1567.6,346.3 1568.5,340.7 1565.3,338.3 1560.4,340.7 1558.8,345.5 1559.6,351.2 1561.8,352.9 1563.1,352.1Z" fill="#FFD400" stroke="#FFD400"/>
<path d="M1570.9,350.4 1574.2,351.2 1577.4,348.8 1575.0,345.5 1570.1,347.2Z" fill="#FFD400" stroke="#FFD400"/>
<path d="M1642.6,329.7 1639.7,327.8 1639.3,328.3 1638.8,328.4 1638.1,328.1 1630.0,327.4 1623.6,329.4 1623.6,333.4 1626.1,334.2 1628.4,333.8 1633.3,334.5 1640.6,333.8 1641.1,334.5Z" fill="#FDB813" stroke="#FDB813"/>
<path d="M1638.9,344.0 1639.7,343.8 1640.4,344.0 1641.6,345.3 1645.0,340.8 1640.6,333.8 1633.3,334.5 1628.4,333.8 1626.1,334.2 1626.6,335.0 1624.8,335.0 1624.5,335.7 1623.8,336.3 1615.5,338.3 1616.3,343.1 1616.5,343.5 1621.5,341.5 1628.5,340.6 1634.6,342.0Z" fill="#F58220" stroke="#F58220"/>
<path d="M1622.2,352.8 1628.2,354.8 1628.6,356.4 1632.4,355.1 1637.9,351.5 1638.5,349.7 1639.6,349.6 1642.1,347.9 1642.5,347.1 1642.4,346.2 1641.1,344.3 1640.4,343.8 1639.5,343.7 1638.7,344.0 1634.6,342.0 1628.5,340.6 1621.5,341.5 1616.5,343.4 1616.5,344.7 1616.0,345.3 1615.5,345.5 1615.4,349.1 1614.8,349.7 1613.8,350.1 1618.6,351.1 1620.0,352.9Z" fill="#F99D1C" stroke="#F99D1C"/>
<path d="M1591.3,371.3 1594.4,375.5 1596.3,376.4 1596.6,377.6 1602.1,379.5 1602.6,378.8 1603.5,378.6 1607.3,379.5 1611.4,381.1 1611.9,381.5 1612.2,382.2 1613.8,381.9 1624.3,383.0 1624.1,383.6 1627.9,382.6 1631.0,376.4 1630.4,374.9 1632.3,372.9 1632.6,372.0 1632.4,371.2 1631.7,370.5 1629.3,369.7 1628.5,369.7 1630.3,363.4 1628.3,354.7 1622.2,352.6 1615.4,353.3 1610.9,352.5 1610.5,353.5 1609.7,353.9 1602.5,353.6 1594.4,355.3 1588.2,357.6 1591.3,369.8 1590.9,371.1Z" fill="#F58220" stroke="#F58220"/>
<path d="M1571.6,399.2 1579.8,391.1 1584.8,389.4 1582.0,388.2 1576.5,380.5 1584.3,377.1 1587.9,376.7 1589.1,371.9 1589.8,371.2 1590.9,371.1 1591.3,369.8 1588.2,357.6 1587.2,357.6 1586.3,356.9 1579.8,355.3 1573.3,356.0 1567.7,352.8 1566.5,352.7 1565.9,352.2 1565.7,351.6 1563.1,352.1 1561.7,352.8 1561.9,353.7 1561.5,354.7 1560.4,355.3 1553.4,360.7 1555.5,359.1 1553.1,366.2 1552.2,371.4 1549.7,373.3 1552.7,378.0 1550.5,381.0 1555.2,385.0 1558.1,390.6 1557.2,396.5 1564.0,397.4 1570.1,399.4 1569.8,399.4 1571.9,399.2Z" fill="#FFD400" stroke="#FFD400"/>
<path d="M1552.2,371.6 1553.1,366.2 1555.5,359.1 1553.0,360.9 1547.4,361.7 1541.8,365.8 1541.8,365.8 1540.2,370.6 1540.4,369.8 1549.3,372.5 1549.9,373.3Z" fill="#FFD400" stroke="#FFD400"/>
<path d="M1552.7,378.0 1549.3,372.5 1540.4,369.8 1540.1,371.1 1539.7,371.7 1536.4,373.7 1537.5,373.0 1540.4,376.6 1544.8,378.8 1549.9,380.5 1550.5,381.0Z" fill="#FDB813" stroke="#FDB813"/>
<path d="M1531.2,422.2 1531.8,421.3 1536.1,418.5 1544.2,420.0 1550.7,418.4 1555.5,415.2 1556.0,414.4 1553.6,411.3 1553.1,405.3 1552.5,405.1 1551.2,399.8 1556.8,396.5 1557.2,396.5 1558.1,390.6 1555.3,384.9 1550.0,380.4 1544.8,378.8 1540.4,376.6 1537.5,373.0 1536.0,373.9 1531.3,374.7 1524.8,379.6 1521.6,383.5 1516.7,384.4 1513.5,387.5 1512.7,387.6 1507.0,386.8 1500.5,389.3 1502.9,392.5 1508.6,394.2 1513.5,399.1 1515.8,405.7 1515.1,411.9 1513.4,417.6 1513.8,418.9 1520.3,420.0 1526.7,421.7Z" fill="#F99D1C" stroke="#F99D1C"/>
<path d="M1563.3,429.0 1564.0,428.1 1563.6,421.7 1560.7,422.5 1561.6,429.3Z" fill="#F99D1C" stroke="#F99D1C"/>
<path d="M1552.9,402.7 1560.3,403.8 1568.2,401.9 1568.2,401.2 1568.7,400.1 1569.2,399.6 1570.1,399.4 1564.0,397.2 1556.8,396.3 1551.2,399.8 1552.5,405.1 1553.1,405.3Z" fill="#FFD400" stroke="#FFD400"/>
<path d="M1571.6,399.2 1572.9,399.4 1573.8,400.4 1579.9,398.9 1583.2,400.0 1591.3,398.6 1593.9,399.3 1594.6,398.5 1596.9,397.7 1596.8,392.9 1599.1,392.3 1598.7,390.8 1597.4,390.6 1595.9,388.9 1587.8,390.7 1584.8,389.4 1579.8,391.1Z" fill="#FDB813" stroke="#FDB813"/>
<path d="M1587.7,390.8 1595.9,389.0 1595.9,387.9 1596.6,387.2 1603.8,383.5 1603.8,382.7 1604.1,382.0 1602.3,381.1 1601.9,380.3 1602.1,379.4 1596.6,377.6 1596.1,378.5 1595.2,378.9 1591.2,377.9 1589.2,378.1 1588.3,377.6 1587.9,376.7 1584.3,377.1 1576.5,380.5 1581.9,388.3Z" fill="#F58220" stroke="#F58220"/>
<path d="M1599.1,392.3 1605.4,390.6 1613.6,388.9 1622.4,388.0 1624.4,382.9 1613.8,381.9 1612.2,382.1 1612.0,383.2 1611.0,383.9 1605.1,384.5 1604.3,384.2 1603.8,383.5 1596.5,387.0 1595.9,387.7 1595.7,388.6 1596.0,389.4 1597.4,390.8 1598.6,391.0Z" fill="#F26522" stroke="#F26522"/>
<path d="M1596.8,397.7 1598.2,397.9 1600.3,399.7 1600.7,400.6 1603.5,400.6 1608.9,401.5 1613.4,400.8 1613.6,400.0 1614.2,399.5 1615.9,398.8 1616.6,398.8 1618.2,394.6 1621.4,392.9 1621.3,391.9 1621.7,391.0 1622.5,390.6 1623.3,390.7 1624.3,387.7 1613.6,388.9 1605.3,390.4 1596.8,392.7Z" fill="#F26522" stroke="#F26522"/>
<path d="M1585.9,403.8 1586.7,404.8 1592.9,403.6 1595.4,401.8 1595.2,401.4 1594.5,401.1 1594.0,400.6 1593.9,399.3 1591.3,398.6 1583.2,400.0 1586.9,401.2Z" fill="#F99D1C" stroke="#F99D1C"/>
<path d="M1600.9,400.6 1600.4,399.6 1598.3,397.8 1597.5,397.5 1596.9,397.5 1594.4,398.5 1593.7,399.3 1593.6,399.9 1593.8,400.7 1594.4,401.3 1595.1,401.5 1595.3,401.9 1592.9,403.6 1586.7,404.8 1587.9,406.1 1589.6,409.5 1592.9,412.0 1597.7,416.8 1604.1,421.7 1605.4,421.7 1605.0,420.9 1601.4,418.0 1596.8,413.4 1596.8,406.7 1604.1,406.7 1608.1,406.4 1608.1,401.6 1608.9,401.5 1603.5,400.6Z" fill="#F26522" stroke="#F26522"/>
<path d="M1601.4,418.0 1605.0,420.9 1604.4,419.9 1610.4,415.5 1610.5,415.6 1610.3,412.4 1608.1,408.3 1608.1,406.4 1604.1,406.7 1596.8,406.7 1596.8,413.4Z" fill="#EE4023" stroke="#EE4023"/>
<path d="M1610.5,415.6 1614.3,419.0 1614.7,418.3 1621.2,421.0 1623.3,420.2 1624.1,420.2 1625.1,418.2 1621.4,414.5 1618.8,408.6 1615.3,402.4 1615.4,402.2 1614.7,402.3 1614.0,402.0 1613.6,401.4 1613.5,400.7 1608.0,401.6 1608.1,408.3 1610.3,412.4Z" fill="#EE4023" stroke="#EE4023"/>
<path d="M1606.5,421.7 1607.4,422.1 1608.2,423.3 1608.2,423.3 1610.3,423.8 1609.7,423.6 1609.6,423.2 1612.2,422.8 1614.5,418.9 1610.3,415.4 1604.4,419.9 1605.4,421.7Z" fill="#F26522" stroke="#F26522"/>
<path d="M1619.5,424.7 1619.6,422.1 1620.1,421.5 1621.2,420.9 1614.6,418.2 1612.1,422.9 1615.4,422.3 1617.6,425.2Z" fill="#EE4023" stroke="#EE4023"/>
<path d="M1609.7,423.6 1611.0,424.2 1611.4,424.8 1611.9,429.0 1613.0,433.8 1613.1,433.8 1613.1,433.8 1615.4,436.2 1614.8,435.5 1616.6,432.8 1616.2,432.7 1616.2,425.6 1617.6,425.2 1615.4,422.3 1609.6,423.2Z" fill="#EE4023" stroke="#EE4023"/>
<path d="M1616.6,432.8 1617.7,431.2 1626.3,429.5 1626.7,428.1 1625.4,427.2 1625.1,426.1 1621.9,425.7 1620.7,425.9 1619.9,425.5 1619.5,424.7 1616.2,425.6 1616.2,432.7Z" fill="#EE4023" stroke="#EE4023"/>
<path d="M1629.1,430.1 1628.0,430.7 1627.3,430.6 1626.6,430.1 1626.3,429.4 1617.7,431.0 1614.6,435.5 1616.6,436.9 1623.6,450.8 1626.8,454.9 1630.9,456.5 1634.1,454.0 1629.5,444.9 1629.7,443.7 1631.7,441.1 1629.1,437.3 1629.0,436.7 1629.1,436.0 1629.6,435.4 1631.7,433.8 1638.1,432.2 1641.7,429.9 1641.6,429.2 1629.5,430.7Z" fill="#F58220" stroke="#F58220"/>
<path d="M1633.3,463.8 1635.7,465.7 1643.0,466.2 1644.6,464.6 1638.1,463.4Z" fill="#F58220" stroke="#F58220"/>
<path d="M1624.1,420.2 1625.1,421.0 1626.1,424.4 1625.9,425.4 1625.0,426.1 1625.4,427.2 1626.5,428.1 1626.2,429.0 1626.3,429.9 1626.8,430.5 1627.7,430.8 1629.1,430.3 1629.5,430.7 1641.6,429.2 1641.0,427.1 1648.0,424.4 1648.6,424.8 1651.1,421.7 1649.6,417.1 1641.4,418.5 1633.4,417.7 1626.3,419.4 1625.1,418.2Z" fill="#F26522" stroke="#F26522"/>
<path d="M1618.8,408.6 1621.3,414.6 1626.3,419.6 1633.4,417.7 1641.4,418.5 1649.6,417.1 1649.5,416.5 1649.8,415.8 1650.4,415.4 1651.1,415.2 1654.3,411.1 1657.6,406.3 1657.0,407.1 1654.1,407.1 1651.2,400.6 1648.8,396.5 1645.9,390.7 1641.7,388.9 1633.1,389.2 1624.2,391.2 1623.5,390.5 1622.5,390.4 1621.7,390.7 1621.3,391.3 1621.1,392.0 1621.2,392.9 1618.2,394.6 1616.6,398.7 1615.8,398.7 1614.1,399.4 1613.5,399.9 1613.3,400.7 1613.4,401.4 1613.8,402.0 1614.5,402.4 1615.3,402.4Z" fill="#F26522" stroke="#F26522"/>
<path d="M1651.2,400.6 1654.1,407.1 1657.0,407.1 1658.0,405.7 1659.8,404.6 1658.3,399.9 1654.7,393.7 1646.8,389.7 1645.9,390.6 1648.8,396.5Z" fill="#EE4023" stroke="#EE4023"/>
<path d="M1556.0,414.4 1557.1,414.0 1558.0,414.4 1562.3,413.4 1563.3,413.8 1575.0,427.3 1581.4,433.0 1587.8,437.8 1592.6,442.5 1595.2,447.6 1597.7,450.8 1600.9,448.4 1600.2,443.7 1602.2,440.7 1602.9,440.2 1606.6,439.5 1604.1,436.2 1591.1,426.4 1585.5,420.8 1580.7,415.2 1579.3,410.3 1579.4,409.5 1579.8,408.9 1583.1,406.3 1584.2,404.0 1585.0,403.6 1585.9,403.8 1586.9,401.2 1579.9,398.9 1573.9,400.4 1573.1,399.3 1572.1,399.0 1569.0,399.6 1568.5,400.3 1568.1,401.9 1560.3,403.8 1552.9,402.6 1553.5,411.3Z" fill="#F58220" stroke="#F58220"/>
<path d="M1579.8,450.8 1582.3,453.7 1587.9,455.7 1591.2,453.2 1592.0,448.9 1586.3,450.0Z" fill="#F58220" stroke="#F58220"/>
<path d="M1561.6,429.3 1561.6,430.3 1561.1,430.9 1559.6,431.4 1559.1,440.3 1562.0,441.9 1564.5,437.9 1563.6,430.6 1563.2,429.7 1563.3,429.0Z" fill="#F58220" stroke="#F58220"/>
<path d="M1486.5,455.6 1490.0,458.9 1495.6,458.1 1502.1,455.7 1508.6,452.4 1513.4,447.6 1520.0,436.2 1524.8,431.4 1531.3,427.3 1532.9,424.1 1531.5,423.6 1531.2,423.0 1531.2,422.2 1526.7,421.7 1520.3,420.0 1513.8,418.8 1513.3,419.8 1512.2,420.1 1502.1,418.4 1482.7,416.8 1476.2,419.2 1476.2,419.3 1478.3,424.2 1478.2,423.9 1478.4,423.8 1484.7,424.7 1488.6,427.7 1486.9,441.3 1483.7,454.4 1482.9,454.1Z" fill="#F99D1C" stroke="#F99D1C"/>
<path d="M1486.9,441.3 1488.6,427.7 1484.7,424.7 1478.4,423.8 1478.2,423.9 1478.4,424.6 1478.2,425.1 1476.2,426.5 1475.4,434.6 1473.8,441.1 1476.1,444.4 1475.4,450.8 1477.8,454.4 1482.5,454.1 1483.7,454.4Z" fill="#F99D1C" stroke="#F99D1C"/>
<path d="M1484.3,353.6 1478.6,360.1 1476.2,369.8 1484.3,369.0 1491.6,365.8 1495.6,361.7 1496.5,356.1 1489.5,351.9Z" fill="#FDB813" stroke="#FDB813"/>
<path d="M1501.3,377.9 1508.6,375.5 1516.7,374.7 1524.0,373.1 1528.8,369.0 1528.0,364.2 1522.3,360.0 1515.9,347.2 1512.8,344.7 1512.4,344.1 1512.4,342.9 1515.1,338.3 1510.2,333.4 1503.7,331.8 1498.9,334.2 1499.7,340.7 1502.9,353.6 1506.1,356.2 1506.6,357.3 1504.6,361.7 1501.3,367.4 1504.9,368.5 1505.5,369.3 1505.5,370.3 1498.1,377.9Z" fill="#FDB813" stroke="#FDB813"/>
<path d="M1496.5,356.0 1496.9,354.6 1498.1,353.6 1496.4,350.4 1491.6,351.2 1489.5,351.9Z" fill="#FDB813" stroke="#FDB813"/>
<path d="M1641.8,429.8 1643.0,430.0 1643.5,430.5 1643.8,431.4 1644.5,431.4 1645.1,429.1 1649.2,427.0 1648.4,426.0 1648.6,424.7 1648.0,424.4 1641.0,427.1Z" fill="#F26522" stroke="#F26522"/>
<path d="M1644.6,431.4 1645.3,431.8 1645.7,432.6 1644.9,436.7 1646.5,444.8 1649.7,451.3 1656.2,456.1 1662.7,457.7 1669.2,461.0 1675.6,461.8 1682.0,459.4 1683.5,459.7 1684.3,460.3 1687.8,458.6 1688.7,459.5 1688.0,460.8 1691.7,462.0 1691.6,461.7 1699.3,457.8 1707.6,455.3 1716.1,453.6 1722.5,454.7 1725.2,453.0 1732.2,451.2 1734.1,451.5 1733.2,450.4 1730.9,439.9 1731.5,439.5 1737.5,443.1 1738.5,439.2 1733.4,436.2 1731.6,431.7 1725.3,430.1 1719.9,427.5 1719.1,426.5 1701.5,430.2 1691.8,429.4 1682.1,426.2 1672.4,423.7 1653.0,427.0 1651.2,427.8 1650.4,427.7 1649.2,427.0 1645.1,429.1Z" fill="#F26522" stroke="#F26522"/>
<path d="M1687.8,458.6 1684.3,460.3 1684.4,461.5 1683.8,462.4 1677.8,464.6 1680.2,466.2 1684.3,464.6 1686.1,461.1 1687.0,460.7 1688.0,460.8 1688.7,459.5Z" fill="#F58220" stroke="#F58220"/>
<path d="M1716.1,419.7 1721.0,426.2 1719.1,426.5 1719.9,427.5 1725.3,430.1 1731.6,431.7 1730.7,429.4 1738.5,429.4 1743.9,427.7 1732.9,422.2 1724.6,419.7 1713.6,417.5 1713.1,418.3 1713.6,419.0Z" fill="#F58220" stroke="#F58220"/>
<path d="M1738.5,439.2 1739.1,438.6 1740.1,438.5 1744.7,441.3 1745.5,440.8 1742.4,436.2 1735.5,430.4 1738.5,429.4 1730.6,429.2 1733.3,436.3Z" fill="#F26522" stroke="#F26522"/>
<path d="M1742.4,436.2 1745.5,440.8 1748.6,438.7 1754.8,443.8 1755.0,444.5 1755.8,438.3 1759.8,433.4 1755.0,431.8 1751.8,429.7 1751.3,429.1 1750.5,426.9 1743.2,427.6 1735.4,430.3Z" fill="#EE4023" stroke="#EE4023"/>
<path d="M1432.2,540.7 1431.2,542.5 1430.0,546.2ZM1477.5,646.2 1485.0,646.2 1505.3,642.9 1500.0,641.1 1492.7,643.5 1482.7,644.8 1476.7,645.8ZM1537.3,637.4 1543.8,643.7 1545.9,644.2 1543.0,638.4 1536.1,636.0 1533.1,636.0ZM1551.1,645.5 1556.2,647.5 1561.2,655.0 1562.5,665.0 1562.3,666.3 1562.7,664.9 1562.7,660.6 1561.5,652.8 1559.0,647.7 1559.0,642.1 1555.4,644.7ZM1562.0,679.4 1562.5,682.5 1566.5,688.6 1564.1,684.2ZM1570.5,694.5 1574.0,699.7 1574.0,697.9ZM1577.8,706.0 1579.0,710.8 1579.0,707.8ZM1722.3,714.5 1722.5,712.5 1726.9,701.5 1723.5,703.2 1722.3,712.6ZM1731.6,691.8 1732.5,690.0 1737.3,683.6 1733.4,686.9ZM1743.6,609.9 1744.4,611.5 1745.9,611.5ZM1704.5,545.5 1702.5,537.5 1697.5,525.0 1688.4,506.8 1688.0,507.8 1685.5,505.4 1686.5,509.4 1694.0,521.8 1699.0,534.4 1701.9,542.9ZM1500.6,461.1 1506.4,463.4 1508.0,459.2ZM1460.1,598.9 1465.4,600.7 1461.9,593.5 1455.0,593.5 1456.2,599.3 1456.0,599.4ZM1593.8,630.5 1596.2,626.3 1592.8,622.1 1591.2,626.2ZM1702.6,589.8 1702.4,588.8 1701.3,592.0ZM1695.3,673.5 1690.5,673.5 1692.5,677.5 1690.5,682.6 1696.3,681.6ZM1692.6,739.6 1689.3,734.6 1690.8,739.1ZM1671.4,717.7 1670.1,721.9 1675.4,724.0 1674.2,723.2ZM1684.8,752.7 1684.2,755.1 1685.1,754.5ZM1650.0,777.3 1647.5,777.3 1648.8,778.5ZM1679.0,809.6 1683.9,799.8 1683.2,794.4 1680.9,800.6 1676.1,805.4 1676.9,815.3ZM1600.4,656.0 1604.0,653.5 1599.2,653.5ZM1585.1,663.6 1587.8,661.8 1585.0,662.3 1583.4,661.9Z" fill="#EE4023" stroke="#EE4023"/>
<path d="M1500.6,461.1 1490.0,463.8 1482.5,475.0 1475.0,485.0 1465.1,499.9 1464.0,500.8 1464.8,500.2 1472.3,500.2 1481.7,494.8 1491.6,488.6 1499.1,483.6 1507.2,479.0 1508.3,471.5 1505.7,465.0 1506.4,463.4Z" fill="#F26522" stroke="#F26522"/>
<path d="M1464.8,500.2 1448.7,513.8 1442.5,522.5 1436.3,532.5 1432.2,540.7 1430.3,545.8 1430.7,545.2 1447.8,544.0 1449.0,521.6 1457.7,520.3 1457.7,511.5 1472.1,510.3 1472.1,500.3 1472.3,500.2Z" fill="#E2E3E4" stroke="#E2E3E4"/>
<path d="M1499.1,483.6 1481.8,494.8 1472.0,500.2 1472.1,510.3 1474.1,510.2 1485.7,526.9 1510.6,544.1 1532.7,560.1 1537.0,559.0 1554.4,545.4 1573.0,532.6 1564.7,520.6 1562.1,505.1 1563.3,492.9 1558.6,485.8 1553.2,475.1 1557.1,464.8 1555.8,455.2 1557.5,455.0 1545.0,456.3 1520.0,457.5 1510.0,458.7 1508.0,459.2 1505.7,465.0 1508.3,471.5 1507.2,479.0Z" fill="#EE4023" stroke="#EE4023"/>
<path d="M1553.2,475.1 1558.6,485.8 1563.3,492.9 1563.4,492.0 1567.4,485.3 1572.7,478.6 1573.2,479.2 1570.5,475.6 1570.2,474.8 1572.5,467.5 1571.2,458.8 1565.0,454.5 1555.8,455.2 1557.1,464.8Z" fill="#F26522" stroke="#F26522"/>
<path d="M1564.7,520.6 1573.0,532.6 1574.9,531.3 1589.8,537.5 1591.4,535.8 1591.3,534.6 1592.3,535.0 1593.1,534.2 1593.4,534.4 1593.5,535.6 1636.5,555.2 1641.5,555.2 1641.5,544.7 1640.9,544.7 1639.6,515.1 1638.3,500.0 1639.7,486.3 1640.7,487.0 1635.0,482.5 1635.0,482.5 1625.0,481.3 1617.5,483.8 1610.6,488.4 1609.7,488.6 1600.1,486.3 1590.0,482.5 1580.0,480.0 1574.0,479.9 1573.4,479.5 1572.7,478.6 1567.4,485.3 1563.2,491.9 1561.9,505.1Z" fill="#A8151B" stroke="#A8151B"/>
<path d="M1639.6,515.1 1640.9,544.7 1641.5,544.7 1641.5,542.0 1700.4,541.4 1701.9,542.9 1699.0,534.4 1694.0,521.8 1686.5,509.4 1685.5,505.4 1688.0,507.8 1688.4,506.8 1687.7,505.4 1687.7,504.6 1689.4,501.1 1690.2,500.5 1690.1,499.3 1689.1,498.9 1685.0,493.8 1675.0,492.5 1650.0,490.0 1641.4,487.5 1639.7,486.3 1638.3,500.0Z" fill="#EE4023" stroke="#EE4023"/>
<path d="M1428.8,550.0 1430.0,560.0 1428.8,570.0 1429.8,578.8 1434.9,575.0 1444.2,579.1 1452.4,583.7 1457.1,579.5 1485.1,579.0 1481.4,526.5 1485.3,526.5 1485.8,526.7 1474.3,510.0 1457.6,511.4 1457.7,520.3 1449.0,521.6 1447.8,544.0 1430.6,545.1 1429.9,546.2Z" fill="#E01F26" stroke="#E01F26"/>
<path d="M1485.1,579.0 1457.1,579.5 1452.4,583.7 1453.5,584.3 1455.0,593.5 1461.9,593.5 1465.4,600.7 1468.1,601.6 1476.5,610.0 1475.7,610.8 1485.1,608.9 1485.4,609.0 1486.5,603.3 1489.2,599.3 1499.7,588.8 1510.0,591.4 1515.4,589.6 1515.6,589.0 1524.7,589.0 1535.2,581.9 1536.5,559.5 1537.0,559.0 1532.7,560.1 1510.6,544.1 1485.3,526.5 1481.4,526.5Z" fill="#EE4023" stroke="#EE4023"/>
<path d="M1593.1,534.2 1592.3,535.0 1593.5,535.6 1593.4,534.4ZM1517.7,589.0 1523.2,591.7 1528.2,599.2 1532.2,601.2 1539.6,591.3 1550.2,594.0 1562.5,595.2 1574.7,594.0 1584.1,589.3 1589.0,574.7 1592.7,557.4 1591.4,535.8 1589.8,537.5 1574.8,531.2 1554.3,545.3 1536.5,559.5 1535.2,581.9 1524.7,589.0ZM1515.4,589.6 1517.3,589.0 1515.6,589.0Z" fill="#EE4023" stroke="#EE4023"/>
<path d="M1585.5,588.6 1593.7,605.0 1588.8,614.8 1593.7,619.7 1592.8,622.1 1596.2,626.3 1596.8,625.4 1604.6,621.5 1614.5,619.1 1624.2,609.3 1630.2,599.8 1628.9,589.8 1634.0,579.7 1635.3,555.2 1636.5,555.3 1636.6,555.1 1591.3,534.4 1592.7,557.6 1589.0,574.7 1584.1,589.3Z" fill="#E01F26" stroke="#E01F26"/>
<path d="M1635.3,555.2 1634.0,579.7 1628.9,589.8 1630.2,599.8 1631.2,598.1 1640.6,611.6 1650.0,613.9 1659.9,611.4 1669.9,612.7 1679.4,609.1 1685.3,601.7 1685.5,601.7 1688.3,611.5 1691.8,611.5 1696.6,599.5 1701.3,592.0 1702.4,588.8 1701.4,585.0 1704.1,571.9 1712.1,566.5 1705.0,547.5 1704.5,545.5 1700.4,541.4 1641.5,542.0 1641.5,555.2Z" fill="#A8151B" stroke="#A8151B"/>
<path d="M1688.3,611.5 1685.5,601.7 1685.3,601.7 1679.4,609.1 1669.9,612.7 1659.9,611.4 1650.0,613.9 1640.6,611.6 1641.3,612.5 1637.6,618.6 1643.4,624.4 1648.4,634.4 1655.6,642.9 1665.4,646.5 1675.2,651.4 1682.2,650.2 1692.1,646.5 1698.4,643.4 1686.3,627.7 1691.8,611.5Z" fill="#A8151B" stroke="#A8151B"/>
<path d="M1703.0,589.2 1709.9,586.4 1720.5,589.1 1728.3,596.8 1735.4,605.1 1739.9,606.1 1727.5,590.0 1722.5,585.0 1712.5,567.6 1712.1,566.5 1704.1,571.9 1701.3,585.0 1702.5,590.0Z" fill="#E01F26" stroke="#E01F26"/>
<path d="M1743.6,609.9 1741.9,608.8 1741.2,607.5 1740.2,607.1 1739.9,606.1 1735.4,605.0 1736.0,605.9 1736.0,611.9 1738.8,613.8 1743.5,611.5 1744.4,611.5Z" fill="#E01F26" stroke="#E01F26"/>
<path d="M1698.4,643.4 1700.0,642.6 1717.7,651.5 1732.2,651.5 1739.4,646.6 1749.3,639.2 1760.4,627.0 1754.7,626.0 1744.4,620.9 1736.8,614.8 1738.8,613.8 1736.0,611.9 1736.2,605.8 1728.4,596.7 1720.5,589.1 1709.9,586.4 1702.9,589.0 1696.4,599.4 1691.4,612.1 1686.3,627.7Z" fill="#EE4023" stroke="#EE4023"/>
<path d="M1744.4,620.9 1754.7,626.0 1760.4,627.0 1749.3,639.2 1739.4,646.6 1732.2,651.5 1734.2,651.5 1729.8,660.2 1729.8,679.7 1733.7,686.1 1733.4,686.9 1737.3,683.6 1740.0,680.0 1750.0,670.0 1765.0,650.0 1772.5,637.5 1777.5,626.3 1781.2,615.0 1780.0,606.3 1767.5,610.0 1755.0,612.5 1747.7,612.5 1745.9,611.5 1743.5,611.5 1736.8,614.8Z" fill="#A8151B" stroke="#A8151B"/>
<path d="M1696.3,681.6 1697.8,681.4 1723.6,702.0 1723.5,703.2 1726.9,701.5 1731.6,691.8 1733.7,686.1 1729.8,679.7 1729.8,660.2 1734.2,651.5 1717.7,651.5 1700.0,642.6 1692.1,646.5 1692.9,646.2 1698.5,654.6 1701.1,665.1 1696.9,673.5 1695.3,673.5Z" fill="#EE4023" stroke="#EE4023"/>
<path d="M1701.1,665.1 1698.5,654.6 1693.0,646.1 1682.1,650.3 1675.2,651.4 1675.9,651.8 1677.4,657.6 1671.1,670.2 1672.0,675.8 1677.2,672.7 1682.5,672.7 1682.3,673.6 1690.0,672.5 1690.5,673.5 1696.9,673.5Z" fill="#E01F26" stroke="#E01F26"/>
<path d="M1674.2,723.2 1681.3,727.0 1681.6,726.8 1688.4,731.9 1689.3,734.6 1692.6,739.6 1695.2,740.2 1704.9,741.4 1714.7,739.0 1722.3,735.7 1721.3,725.0 1722.3,714.5 1722.3,712.6 1723.6,702.0 1697.8,681.4 1690.5,682.6 1690.0,683.8 1683.8,686.2 1680.0,681.2 1681.2,673.8 1682.3,673.6 1682.5,672.7 1677.2,672.7 1672.0,675.8 1672.3,677.4 1672.6,677.3 1675.0,684.1 1671.9,686.5 1672.3,686.5 1672.3,695.5 1669.1,698.0 1669.8,704.8 1672.3,715.0 1671.4,717.7Z" fill="#EE4023" stroke="#EE4023"/>
<path d="M1577.8,706.0 1579.0,707.8 1579.0,706.4 1600.7,707.7 1603.4,714.3 1607.9,717.7 1615.2,717.7 1615.2,713.8 1625.8,715.3 1628.5,724.8 1630.9,736.6 1637.7,737.7 1647.8,739.0 1655.6,742.9 1662.6,748.8 1665.7,747.2 1661.5,743.0 1660.2,735.0 1661.5,725.6 1668.7,721.3 1670.1,721.9 1672.3,715.0 1669.8,704.8 1669.1,698.0 1667.5,699.2 1665.2,692.6 1666.1,686.5 1666.6,686.5 1665.1,685.5 1666.1,680.5 1672.3,677.4 1671.1,670.2 1677.4,657.6 1675.9,651.8 1665.4,646.5 1655.6,642.9 1657.0,644.5 1656.8,644.8 1650.1,644.8 1640.2,646.0 1630.1,648.6 1619.8,647.3 1612.7,646.1 1598.9,653.0 1599.2,653.5 1604.0,653.5 1607.2,651.5 1611.3,651.5 1606.0,672.9 1601.0,680.4 1598.4,690.5 1590.7,698.3 1585.4,702.2 1579.3,703.3 1578.8,705.8 1577.6,705.5Z" fill="#A8151B" stroke="#A8151B"/>
<path d="M1590.7,698.3 1598.4,690.5 1601.0,680.4 1606.0,672.9 1611.3,651.5 1607.1,651.3 1600.3,655.9 1601.5,658.1 1592.8,661.0 1587.8,661.8 1585.1,663.6 1585.9,664.4 1588.5,669.7 1589.8,680.2 1585.7,687.2 1579.1,688.3 1581.3,692.7 1576.0,698.0 1579.9,699.3 1579.3,703.3 1585.4,702.2Z" fill="#A8151B" stroke="#A8151B"/>
<path d="M1561.3,675.0 1562.0,679.4 1564.1,684.2 1566.5,688.6 1570.5,694.5 1574.0,697.9 1574.0,697.3 1576.0,698.0 1581.3,692.7 1579.1,688.3 1585.7,687.2 1589.8,680.2 1588.5,669.7 1586.0,664.3 1583.5,661.8 1579.9,661.0 1573.5,661.0 1573.5,667.3 1562.7,667.3 1562.7,664.9 1562.3,666.3Z" fill="#EE4023" stroke="#EE4023"/>
<path d="M1573.5,667.3 1573.5,661.0 1562.9,661.6 1562.7,660.6 1562.7,667.3Z" fill="#A8151B" stroke="#A8151B"/>
<path d="M1579.7,661.0 1585.0,662.5 1592.8,661.2 1601.6,658.1 1599.0,652.9 1596.9,653.9 1591.4,640.1 1592.7,632.1 1593.8,630.5 1591.2,626.2 1593.7,619.7 1588.8,614.8 1588.1,616.0 1585.4,616.0 1578.3,623.2 1573.2,630.9 1565.7,633.4 1560.8,640.7 1559.0,642.1 1559.0,647.7 1561.5,652.8 1562.9,661.6 1572.5,661.0Z" fill="#E01F26" stroke="#E01F26"/>
<path d="M1619.8,647.3 1630.1,648.6 1640.2,646.0 1650.1,644.8 1656.8,644.8 1657.1,644.5 1648.3,634.3 1643.4,624.4 1637.6,618.6 1641.3,612.5 1631.2,598.0 1624.1,609.4 1614.5,619.1 1604.6,621.5 1596.7,625.3 1592.7,632.1 1591.4,640.1 1596.9,653.9 1612.7,646.1Z" fill="#E01F26" stroke="#E01F26"/>
<path d="M1533.1,636.0 1536.1,636.0 1543.0,638.4 1545.9,644.2 1547.0,644.5 1547.5,645.0 1548.9,644.8 1551.1,645.5 1555.4,644.7 1560.8,640.7 1565.7,633.4 1573.2,630.9 1578.3,623.2 1585.4,616.0 1588.1,616.0 1593.7,605.0 1585.5,588.6 1574.7,594.0 1562.5,595.2 1550.2,594.0 1539.6,591.3 1532.2,601.2 1533.7,601.9 1532.3,610.2 1531.0,620.1 1531.0,635.4 1530.3,635.1Z" fill="#E01F26" stroke="#E01F26"/>
<path d="M1525.5,622.4 1526.1,636.3 1524.0,637.0 1529.8,635.1 1531.0,635.4 1531.0,620.1 1532.3,610.2 1533.7,601.9 1528.2,599.2 1529.3,601.0 1523.1,601.0 1520.8,605.8 1519.3,606.4 1523.5,609.6Z" fill="#F26522" stroke="#F26522"/>
<path d="M1521.1,638.0 1526.1,636.3 1525.5,622.4 1523.5,609.4 1519.5,606.4 1518.5,606.9 1518.5,614.8 1521.0,622.3 1523.1,637.3Z" fill="#E01F26" stroke="#E01F26"/>
<path d="M1505.3,642.9 1507.5,642.5 1523.1,637.3 1521.0,622.3 1518.5,614.8 1518.5,606.9 1510.2,609.8 1501.0,610.9 1501.0,617.6 1499.8,627.5 1501.1,640.7 1500.0,641.1Z" fill="#F26522" stroke="#F26522"/>
<path d="M1492.5,611.4 1501.0,608.5 1501.0,610.9 1510.2,609.8 1517.9,607.2 1520.8,605.8 1523.1,601.0 1529.4,601.1 1529.5,600.9 1523.3,591.6 1517.6,588.9 1510.0,591.4 1499.7,588.8 1489.2,599.3 1486.5,603.3 1485.4,609.0Z" fill="#F26522" stroke="#F26522"/>
<path d="M1476.7,645.8 1482.7,644.8 1492.7,643.5 1501.1,640.7 1499.8,627.5 1501.0,617.6 1501.0,608.5 1492.5,611.4 1485.1,608.9 1475.7,610.8 1473.6,612.9 1474.8,620.1 1472.4,627.5 1474.8,634.8 1476.1,645.4Z" fill="#EE4023" stroke="#EE4023"/>
<path d="M1472.4,627.5 1472.0,628.5 1463.2,628.5 1459.6,623.8 1454.2,625.9 1453.8,625.2 1456.2,630.0 1456.3,630.0 1462.5,636.3 1470.0,642.5 1476.1,645.4 1474.8,634.8Z" fill="#E01F26" stroke="#E01F26"/>
<path d="M1448.7,621.2 1453.6,624.9 1454.2,625.9 1459.6,623.8 1459.0,622.9 1457.8,615.9 1452.6,614.8 1446.7,617.2Z" fill="#EE4023" stroke="#EE4023"/>
<path d="M1446.1,616.1 1446.7,617.2 1452.6,614.8 1457.8,615.9 1458.9,623.0 1463.1,628.7 1472.0,628.5 1474.8,620.1 1473.6,613.0 1476.6,610.0 1468.1,601.6 1460.1,598.9 1456.0,599.4 1450.2,602.3 1442.1,601.3 1434.7,603.8 1434.4,603.4 1437.5,607.5 1437.5,607.5Z" fill="#E01F26" stroke="#E01F26"/>
<path d="M1429.5,602.0 1433.9,603.0 1434.7,603.8 1442.1,601.3 1439.6,601.0 1437.2,599.1 1429.0,599.8Z" fill="#A8151B" stroke="#A8151B"/>
<path d="M1450.2,602.3 1456.2,599.3 1454.8,592.3 1453.6,584.3 1444.3,578.9 1434.9,575.0 1429.8,578.8 1429.9,580.1 1428.0,585.0 1427.9,586.2 1427.5,587.5 1427.7,589.7 1437.7,589.4 1444.1,592.3 1444.0,593.2 1437.6,594.3 1427.7,594.0 1427.7,590.2 1427.5,593.7 1429.0,599.8 1437.2,599.1 1439.6,601.0Z" fill="#F26522" stroke="#F26522"/>
<path d="M1437.6,594.3 1444.0,593.2 1444.1,592.3 1437.7,589.4 1427.7,589.7 1427.7,594.0Z" fill="#EE4023" stroke="#EE4023"/>
<path d="M1580.0,715.0 1582.5,727.5 1583.7,740.0 1576.3,765.0 1576.2,775.1 1582.3,772.7 1595.0,772.7 1625.0,775.2 1632.5,775.2 1627.7,770.4 1627.7,750.4 1635.3,749.1 1636.6,737.6 1637.7,737.7 1630.9,736.6 1628.5,724.8 1625.8,715.3 1615.2,713.8 1615.2,717.7 1607.9,717.7 1603.4,714.3 1600.7,707.7 1579.0,706.4 1579.0,710.8Z" fill="#E01F26" stroke="#E01F26"/>
<path d="M1574.8,701.0 1575.0,703.7 1576.9,704.3 1577.6,705.5 1578.8,705.8 1579.9,699.3 1574.0,697.3 1574.0,699.7Z" fill="#E01F26" stroke="#E01F26"/>
<path d="M1627.7,750.4 1627.7,770.4 1632.5,775.2 1636.0,775.2 1636.0,775.9 1645.4,775.2 1647.5,777.3 1650.0,777.3 1651.8,775.5 1659.4,769.2 1667.0,764.1 1671.5,761.9 1671.5,759.2 1682.1,756.5 1684.2,755.1 1684.8,752.7 1683.9,747.5 1686.4,737.7 1680.6,727.6 1681.3,727.0 1675.4,724.0 1668.7,721.3 1661.5,725.6 1660.2,735.0 1661.5,743.0 1665.7,747.2 1662.6,748.8 1655.6,742.9 1647.8,739.0 1636.6,737.6 1635.3,749.1Z" fill="#EE4023" stroke="#EE4023"/>
<path d="M1683.9,747.5 1685.1,754.5 1686.5,753.6 1690.9,759.5 1693.1,765.9 1695.3,764.4 1696.4,757.7 1691.5,750.4 1688.6,738.6 1690.8,739.1 1688.4,731.9 1681.6,726.8 1680.6,727.6 1686.4,737.7Z" fill="#EE4023" stroke="#EE4023"/>
<path d="M1691.5,750.4 1696.4,757.7 1695.3,764.4 1693.1,765.9 1690.9,759.5 1686.5,753.6 1682.1,756.5 1671.5,759.2 1671.5,761.9 1672.6,761.3 1683.4,769.4 1686.1,777.4 1684.8,790.2 1683.2,794.4 1683.9,799.8 1679.0,809.6 1676.9,815.3 1677.3,819.9 1680.9,849.0 1684.3,849.0 1683.8,849.9 1687.5,842.5 1695.0,835.0 1696.2,825.0 1695.0,815.0 1700.0,805.0 1722.5,782.5 1725.0,772.5 1726.2,762.5 1723.7,736.3 1722.9,736.3 1722.3,735.7 1714.7,739.0 1704.9,741.4 1695.2,740.2 1688.6,738.6Z" fill="#E01F26" stroke="#E01F26"/>
<path d="M1680.9,800.6 1684.8,790.2 1686.1,777.4 1683.4,769.4 1672.6,761.3 1667.0,764.1 1659.4,769.2 1651.8,775.5 1648.8,778.5 1649.6,779.4 1652.2,785.7 1658.3,794.4 1665.5,802.8 1676.0,804.1 1676.1,805.4Z" fill="#E01F26" stroke="#E01F26"/>
<path d="M1658.3,794.4 1652.2,785.7 1649.6,779.4 1645.4,775.2 1636.0,775.9 1636.0,778.2 1623.5,783.2 1623.0,803.5 1618.6,803.5 1620.9,830.0 1627.0,829.0 1632.0,824.0 1642.1,822.7 1649.3,816.7 1656.8,808.0 1664.7,802.7 1665.5,802.8Z" fill="#F99D1C" stroke="#F99D1C"/>
<path d="M1620.9,830.0 1618.6,803.5 1623.0,803.5 1623.5,783.2 1636.0,778.2 1636.0,775.2 1625.0,775.2 1595.0,772.7 1582.3,772.7 1576.2,775.1 1575.0,790.0 1576.3,802.5 1587.5,840.0 1587.5,840.0 1592.5,852.5 1592.1,851.5 1599.4,851.5 1604.3,842.8 1610.8,841.5 1614.2,839.3 1619.3,830.3Z" fill="#F58220" stroke="#F58220"/>
<path d="M1592.1,851.5 1607.5,902.5 1615.0,907.5 1640.0,902.5 1652.5,897.5 1662.5,890.0 1677.5,870.0 1682.5,860.0 1683.7,850.2 1684.3,849.0 1680.9,849.0 1677.3,819.9 1676.0,804.1 1664.7,802.7 1656.8,808.0 1649.3,816.7 1642.1,822.7 1632.0,824.0 1627.0,829.0 1619.3,830.3 1614.2,839.3 1610.8,841.5 1604.3,842.8 1599.4,851.5ZM1675.3,857.6 1670.9,855.1 1671.5,849.4 1676.8,845.9 1679.2,852.7ZM1652.9,878.4 1651.3,872.2 1657.2,866.3 1663.4,867.9 1664.9,874.1 1659.1,879.9Z" fill="#F26522" stroke="#F26522"/>
<path d="M1659.1,879.9 1664.9,874.1 1663.4,867.9 1657.2,866.3 1651.3,872.2 1652.9,878.4Z" fill="#F26522" stroke="#F26522"/>
<path d="M1675.3,857.6 1679.2,852.7 1676.8,845.9 1671.5,849.4 1670.9,855.1Z" fill="#EE4023" stroke="#EE4023"/>
<path d="M1666.6,686.5 1671.9,686.5 1675.0,684.1 1672.6,677.3 1666.1,680.5 1665.1,685.5Z" fill="#F58220" stroke="#F58220"/>
<path d="M1667.5,699.2 1672.3,695.5 1672.3,686.5 1666.1,686.5 1665.2,692.6Z" fill="#A8151B" stroke="#A8151B"/>
<path d="M1738.8,837.5 1745.0,840.0 1752.5,832.5 1757.5,820.0 1767.5,790.0 1770.0,775.1 1773.7,762.5 1771.2,752.5 1767.5,745.0 1765.0,748.8 1760.0,757.5 1752.6,767.4 1743.7,772.5 1740.0,785.0 1741.2,797.5 1737.5,810.0 1736.3,825.0Z" fill="#E01F26" stroke="#E01F26"/>
<path d="M1692.9,503.5 1694.3,507.1 1698.3,512.8 1708.0,529.0 1713.7,537.1 1717.7,545.1 1721.0,553.3 1730.7,569.5 1734.1,575.7 1736.5,571.9 1743.4,569.2 1753.2,568.4 1761.2,566.8 1769.3,563.6 1782.1,561.2 1785.3,558.8 1794.6,555.7 1796.0,548.4 1795.3,540.3 1791.9,538.9 1785.5,537.3 1780.2,536.4 1775.8,528.7 1776.2,528.2 1776.4,528.3 1777.5,529.6 1774.4,525.7 1773.4,526.6 1770.4,522.0 1770.8,519.0 1770.0,518.9 1769.4,518.5 1761.5,508.0 1761.4,507.9 1757.7,504.1 1756.8,505.3 1751.7,501.5 1751.7,500.6 1749.7,500.6 1748.7,499.9 1743.6,502.5 1736.2,497.9 1720.1,485.0 1713.9,481.9 1707.6,486.5 1702.9,492.7 1697.7,501.3 1692.4,502.2 1692.1,501.4Z" fill="#F58220" stroke="#F58220"/>
<path d="M1782.1,561.2 1769.3,563.6 1761.2,566.8 1753.2,568.4 1743.4,569.2 1736.5,571.9 1734.1,575.7 1734.7,576.8 1735.6,582.5 1737.2,588.9 1738.8,597.0 1742.0,597.8 1779.3,579.2 1779.3,579.2 1787.3,574.3 1786.5,574.9 1783.1,568.2 1781.3,561.8Z" fill="#A8151B" stroke="#A8151B"/>
<path d="M1794.6,555.7 1785.3,558.8 1781.3,561.8 1783.1,568.2 1786.5,574.9 1793.8,571.1 1806.8,561.4 1816.5,548.4 1819.8,541.9 1814.9,535.5 1801.9,525.8 1801.4,525.9 1800.5,529.3 1798.1,535.8 1797.1,541.0 1795.3,540.3 1796.0,548.4Z" fill="#F58220" stroke="#F58220"/>
<path d="M1791.8,538.9 1797.2,541.0 1798.1,535.8 1800.5,529.3 1801.4,525.9 1800.8,525.6 1800.5,525.1 1801.1,522.5 1799.5,523.1 1798.7,519.9 1789.0,528.2 1782.8,531.3 1782.2,531.3 1777.8,529.9 1776.4,528.3 1776.2,528.2 1775.8,528.7 1780.2,536.4 1785.5,537.3Z" fill="#FDB813" stroke="#FDB813"/>
<path d="M1720.1,485.0 1736.2,497.9 1743.6,502.5 1748.7,499.9 1748.5,499.1 1748.8,498.3 1749.3,497.8 1751.7,496.7 1751.7,495.2 1754.3,494.7 1754.5,493.9 1754.9,493.4 1754.3,492.5 1751.9,486.1 1742.2,473.1 1739.4,465.7 1741.7,461.1 1737.5,455.5 1734.1,451.5 1732.2,451.2 1725.2,453.0 1722.5,454.7 1722.6,459.5 1721.7,464.8 1717.4,471.7 1712.9,476.2 1713.9,481.9Z" fill="#E01F26" stroke="#E01F26"/>
<path d="M1692.6,462.3 1693.5,463.2 1694.0,466.2 1694.9,465.5 1697.7,472.6 1694.3,477.1 1699.9,478.7 1712.6,474.1 1712.9,476.2 1717.4,471.7 1721.7,464.8 1722.6,459.5 1722.6,454.7 1716.1,453.6 1707.6,455.3 1699.3,457.8 1691.6,461.7 1691.7,462.0Z" fill="#A8151B" stroke="#A8151B"/>
<path d="M1691.7,497.9 1691.2,498.9 1690.1,499.3 1690.2,500.5 1690.9,500.5 1691.6,500.7 1692.4,502.2 1697.7,501.3 1702.9,492.7 1707.6,486.5 1714.0,482.0 1712.7,474.0 1699.9,478.7 1694.3,477.1 1694.8,483.8 1691.9,495.0 1691.6,495.0 1691.6,494.7Z" fill="#F26522" stroke="#F26522"/>
<path d="M1694.8,483.8 1694.3,477.1 1693.9,477.6 1691.6,476.4 1691.0,476.8 1689.4,477.2 1688.6,485.3 1691.0,491.7 1691.5,492.4 1691.6,495.0 1691.9,495.0Z" fill="#F99D1C" stroke="#F99D1C"/>
<path d="M1694.9,465.5 1694.0,466.2 1694.3,467.6 1694.0,468.4 1691.5,470.7 1692.0,475.3 1691.5,476.4 1693.9,477.8 1697.7,472.6Z" fill="#E01F26" stroke="#E01F26"/>
<path d="M1759.7,410.8 1765.9,408.6 1767.0,408.8 1767.6,409.8 1770.2,409.2 1770.8,409.9 1769.7,411.6 1767.9,412.5 1768.0,413.4 1767.8,414.1 1766.8,414.9 1764.8,417.9 1768.6,420.3 1769.0,420.9 1769.2,422.1 1775.7,427.5 1776.3,428.5 1777.3,428.3 1779.7,429.1 1783.9,426.2 1780.9,414.4 1778.9,407.2 1793.0,403.2 1794.7,401.1 1797.9,402.7 1798.4,404.4 1803.0,407.9 1809.2,413.3 1825.5,416.5 1832.3,424.2 1838.7,430.6 1844.2,434.7 1849.5,432.1 1856.0,425.6 1862.8,422.2 1871.2,418.9 1879.7,418.0 1890.0,418.9 1893.9,422.1 1894.1,422.0 1891.9,417.6 1894.6,408.0 1903.1,404.4 1901.8,396.7 1912.3,394.1 1916.3,386.5 1914.7,385.8 1914.7,385.4 1917.9,383.7 1908.7,379.8 1901.0,375.6 1899.1,373.8 1892.6,373.3 1887.4,371.7 1881.6,372.7 1873.2,366.1 1868.1,361.0 1863.0,357.4 1858.3,353.3 1851.2,355.7 1846.0,357.9 1842.4,355.1 1835.5,354.1 1832.7,350.9 1828.0,347.9 1819.1,348.5 1802.8,353.6 1787.4,357.7 1790.2,361.8 1788.3,365.1 1789.8,370.8 1795.7,371.8 1795.9,372.5 1793.5,373.9 1789.2,374.7 1783.4,372.3 1776.8,371.7 1770.6,373.3 1766.2,373.7 1760.4,369.8 1753.8,368.2 1746.9,368.8 1737.7,376.0 1732.6,377.7 1730.6,383.6 1733.1,389.6 1737.5,393.0 1742.2,395.8 1744.3,401.0 1745.8,399.7 1752.3,397.8 1761.5,397.0 1766.3,400.2 1764.7,405.9 1759.8,410.0 1758.3,410.4ZM1867.0,398.2 1882.2,397.9 1885.7,398.7 1882.2,400.2 1874.1,399.9 1868.0,400.5 1865.0,402.8 1864.5,406.3 1862.4,405.3 1861.4,402.8 1863.0,399.7Z" fill="#EE4023" stroke="#EE4023"/>
<path d="M1877.8,443.5 1878.1,444.3 1878.0,445.2 1879.4,446.1 1881.0,450.9 1885.4,453.1 1892.1,458.1 1896.7,462.7 1904.4,459.9 1909.6,465.2 1910.5,472.8 1908.1,475.9 1909.2,477.3 1906.7,484.8 1911.2,490.5 1920.0,495.9 1928.3,494.5 1948.6,504.7 1962.3,508.8 1961.5,507.6 1973.2,505.3 1981.4,508.6 1987.4,504.1 1998.2,498.7 2003.5,504.1 2008.7,505.3 2013.9,514.5 2023.9,534.5 2028.1,540.9 2028.8,540.8 2035.5,542.5 2038.7,540.4 2039.6,540.4 2042.6,536.3 2051.0,539.0 2058.7,544.2 2064.5,550.0 2063.9,550.6 2070.5,555.0 2080.5,552.5 2090.5,548.8 2100.5,542.5 2110.5,535.0 2118.0,525.0 2123.0,512.5 2125.5,500.0 2123.0,490.0 2108.0,475.0 2100.7,465.0 2103.0,460.0 2110.5,453.8 2105.5,450.0 2098.4,452.4 2097.7,452.3 2090.5,447.5 2087.2,443.1 2087.1,442.4 2093.0,436.3 2100.1,435.1 2100.8,435.2 2108.0,440.0 2114.3,437.9 2117.1,429.3 2127.4,424.1 2134.1,418.7 2137.8,410.3 2139.1,399.8 2135.0,390.3 2123.3,389.0 2098.6,374.1 2086.0,365.3 2073.2,358.9 2060.1,360.2 2053.0,365.9 2056.8,374.9 2050.6,383.4 2052.4,385.3 2056.3,393.0 2063.1,390.7 2076.3,397.3 2076.3,398.2 2066.2,401.5 2053.8,408.9 2044.1,413.8 2039.0,421.4 2028.6,424.1 2018.3,429.2 2005.3,427.9 1980.1,422.9 1967.5,419.1 1954.8,414.0 1944.4,408.8 1936.8,398.7 1927.2,391.4 1916.3,386.5 1912.3,394.1 1901.8,396.7 1903.1,404.4 1894.6,408.0 1891.9,417.6 1894.1,422.0 1893.9,422.1 1896.8,424.5 1890.3,430.0 1877.6,436.3 1875.0,440.0Z" fill="#F26522" stroke="#F26522"/>
<path d="M1944.4,408.8 1954.8,414.0 1967.5,419.1 1980.1,422.9 2005.3,427.9 2018.3,429.2 2028.6,424.1 2039.0,421.4 2044.1,413.8 2053.8,408.9 2066.2,401.5 2076.3,398.2 2076.3,397.3 2063.1,390.7 2056.3,393.0 2052.4,385.3 2049.0,381.1 2035.5,377.0 2025.4,379.6 1998.2,377.1 1985.9,374.6 1973.4,370.9 1958.8,368.0 1958.8,373.6 1952.9,374.6 1940.3,373.3 1927.3,378.5 1914.7,385.4 1914.6,385.8 1927.3,391.5 1936.8,398.7Z" fill="#EE4023" stroke="#EE4023"/>
<path d="M1778.9,407.2 1783.9,426.2 1785.0,425.5 1789.9,423.8 1795.3,420.2 1801.2,423.1 1806.2,427.3 1832.1,446.7 1836.4,450.3 1841.6,449.0 1842.0,449.4 1841.3,450.8 1845.4,448.8 1843.9,442.8 1848.1,436.5 1853.4,437.4 1857.6,434.5 1859.9,432.6 1857.2,432.0 1848.5,436.3 1847.2,434.4 1849.5,432.1 1844.2,434.7 1838.7,430.6 1832.3,424.2 1825.5,416.5 1809.2,413.3 1803.0,407.9 1798.4,404.4 1799.5,408.3 1797.1,412.4 1793.8,410.0 1792.2,404.3 1793.0,403.2Z" fill="#E01F26" stroke="#E01F26"/>
<path d="M1841.6,449.0 1836.4,450.3 1832.1,446.7 1806.2,427.3 1801.2,423.1 1795.3,420.2 1789.9,423.8 1785.0,425.5 1779.8,429.0 1777.3,428.2 1776.2,428.3 1775.7,427.5 1769.2,422.1 1769.6,424.5 1774.4,428.6 1778.4,436.6 1779.3,444.7 1779.3,444.8 1780.7,450.3 1780.5,449.6 1785.4,447.2 1794.1,447.2 1802.5,449.7 1811.0,453.1 1817.3,460.3 1817.4,461.2 1822.9,463.2 1826.7,461.3 1830.1,456.3 1836.1,454.6 1839.7,452.5 1839.1,452.3 1839.1,451.9 1841.3,450.8 1842.0,449.4Z" fill="#A8151B" stroke="#A8151B"/>
<path d="M1857.6,434.5 1858.5,434.0 1864.0,436.7 1862.5,440.4 1867.0,441.5 1870.4,442.0 1870.9,441.1 1873.4,439.8 1874.3,439.7 1875.1,440.1 1877.6,436.3 1890.3,430.0 1897.0,424.5 1890.1,418.7 1879.7,418.0 1871.2,418.9 1862.8,422.2 1856.0,425.6 1847.2,434.4 1848.5,436.3 1857.2,432.0 1859.9,432.6Z" fill="#EE4023" stroke="#EE4023"/>
<path d="M1866.4,452.8 1867.4,453.0 1869.1,454.0 1869.6,454.5 1874.2,453.0 1879.7,450.2 1881.0,450.9 1879.4,446.1 1878.0,445.2 1877.2,445.9 1876.2,445.9 1873.2,444.0 1871.2,443.7 1870.5,443.0 1870.4,442.0 1867.0,441.5 1862.5,440.4 1864.0,436.7 1858.5,434.0 1853.4,437.4 1848.1,436.5 1843.9,442.8 1845.4,448.8 1839.1,451.9 1839.1,452.3 1839.7,452.5 1842.3,451.1 1847.5,452.8 1853.1,452.1 1857.6,448.3 1862.3,444.8 1865.8,450.6Z" fill="#E01F26" stroke="#E01F26"/>
<path d="M1865.5,456.1 1865.1,453.9 1865.6,453.1 1866.4,452.8 1865.8,450.6 1862.3,444.8 1857.6,448.3 1853.1,452.1 1847.5,452.8 1842.3,451.1 1836.1,454.6 1830.1,456.3 1826.7,461.3 1822.9,463.2 1817.4,461.2 1818.2,468.8 1819.7,476.7 1822.9,484.7 1825.4,493.0 1826.0,497.3 1827.5,496.6 1835.8,496.6 1843.4,495.1 1855.7,485.8 1862.0,473.1 1864.8,468.3 1862.5,464.5 1864.5,456.5Z" fill="#A8151B" stroke="#A8151B"/>
<path d="M1829.6,522.5 1837.6,523.3 1845.7,522.5 1853.7,522.5 1865.5,528.4 1865.9,528.8 1871.4,526.9 1866.9,520.2 1869.6,509.4 1877.3,504.2 1883.3,497.0 1886.8,487.6 1880.6,477.6 1883.5,468.8 1890.4,470.2 1893.3,469.3 1893.0,468.5 1893.2,467.7 1895.2,465.0 1895.9,464.6 1895.6,463.1 1896.7,462.7 1892.1,458.1 1885.4,453.1 1879.7,450.2 1874.2,453.0 1869.7,454.5 1869.2,453.8 1867.1,452.7 1866.2,452.6 1865.5,453.0 1864.9,454.2 1865.4,456.2 1864.5,456.5 1862.5,464.5 1864.8,468.3 1862.0,473.1 1855.7,485.8 1843.4,495.1 1835.8,496.6 1827.5,496.6 1826.0,497.3 1826.2,499.3 1834.7,512.8 1831.0,518.4Z" fill="#EE4023" stroke="#EE4023"/>
<path d="M1742.2,473.1 1751.9,486.1 1754.3,492.5 1754.9,493.4 1756.0,493.1 1756.8,493.4 1757.3,494.1 1758.2,493.9 1759.7,496.5 1762.5,495.9 1763.5,496.2 1767.9,499.8 1787.4,514.4 1793.8,516.0 1797.9,514.5 1798.8,514.5 1799.5,515.1 1803.2,513.9 1804.0,518.0 1804.7,518.1 1811.7,520.9 1819.8,522.5 1829.6,522.5 1831.0,518.4 1834.7,512.8 1826.3,499.4 1825.6,493.0 1822.9,484.7 1819.7,476.7 1818.2,469.0 1817.4,460.2 1811.0,453.1 1802.5,449.7 1794.1,447.2 1785.4,447.2 1780.5,449.6 1780.7,450.8 1780.4,451.6 1776.0,455.3 1769.6,456.9 1763.1,455.3 1756.0,451.4 1755.6,450.7 1754.0,446.4 1754.2,445.4 1755.0,444.8 1754.8,443.8 1748.7,438.5 1744.6,441.2 1745.0,441.8 1745.0,442.5 1744.7,443.2 1743.9,443.8 1739.1,444.5 1738.0,444.1 1737.6,443.1 1731.5,439.5 1730.9,439.9 1733.2,450.4 1737.5,455.5 1741.7,461.1 1739.4,465.7Z" fill="#E01F26" stroke="#E01F26"/>
<path d="M1883.3,497.0 1877.3,504.2 1869.6,509.4 1866.9,520.2 1871.4,526.9 1865.9,528.8 1866.0,529.5 1865.5,530.0 1868.0,535.0 1877.9,532.6 1884.3,537.6 1888.0,547.5 1891.8,560.0 1895.5,575.0 1900.5,590.0 1910.5,615.0 1915.5,625.0 1920.5,622.5 1925.5,612.5 1928.0,600.0 1930.5,590.0 1940.5,570.0 1948.0,560.0 1963.0,545.0 1968.1,537.5 1967.0,535.4 1965.0,529.0 1964.4,521.7 1970.5,520.2 1974.2,520.9 1974.6,520.3 1975.5,520.0 1977.3,520.6 1977.7,521.4 1979.0,521.9 1979.8,521.5 1982.5,522.4 1982.9,522.9 1982.8,523.7 1984.2,524.4 1982.8,532.3 1984.8,536.3 1987.0,529.5 1992.1,522.0 1997.1,512.0 2002.5,503.8 2003.5,504.1 1998.2,498.7 1987.4,504.1 1981.4,508.6 1983.0,509.2 1978.9,515.3 1967.2,516.2 1962.7,509.3 1958.9,516.9 1945.1,514.1 1932.5,510.3 1918.8,504.9 1918.8,496.1 1920.0,495.9 1911.2,490.5 1906.7,484.8 1909.2,477.3 1908.1,475.9 1906.0,478.4 1899.5,475.2 1896.6,469.2 1894.5,469.8 1893.8,469.7 1893.3,469.2 1890.4,470.2 1883.5,468.8 1880.6,477.6 1886.8,487.6Z" fill="#F26522" stroke="#F26522"/>
<path d="M1896.7,469.4 1899.5,475.2 1906.0,478.4 1910.5,472.8 1909.6,465.1 1904.4,459.7 1895.5,463.1 1895.9,464.5 1895.1,464.9 1893.1,467.4 1892.9,468.7 1893.3,469.5 1894.1,469.9 1894.8,470.0Z" fill="#E2E3E4" stroke="#E2E3E4"/>
<path d="M1932.5,510.3 1945.1,514.1 1958.9,516.9 1962.7,509.3 1962.3,508.8 1948.6,504.7 1928.3,494.5 1918.8,496.1 1918.8,504.9Z" fill="#EE4023" stroke="#EE4023"/>
<path d="M1978.9,515.3 1983.0,509.2 1973.2,505.3 1961.5,507.6 1967.2,516.2Z" fill="#F99D1C" stroke="#F99D1C"/>
<path d="M1968.2,537.4 1968.8,537.3 1969.4,537.7 1971.8,542.5 1976.8,540.1 1983.0,543.7 1984.7,541.2 1985.2,540.9 1984.4,537.4 1984.9,536.2 1982.9,532.2 1984.2,524.4 1982.9,523.8 1983.0,523.0 1982.7,522.3 1979.9,521.3 1979.3,521.4 1978.9,521.8 1977.9,521.4 1977.3,520.5 1975.5,519.9 1974.5,520.2 1974.1,520.8 1970.5,520.2 1964.4,521.7 1965.0,529.0 1967.0,535.4Z" fill="#E01F26" stroke="#E01F26"/>
<path d="M1931.8,643.7 1936.7,640.0 1938.0,630.0 1934.2,622.5 1929.3,625.0 1928.5,636.2Z" fill="#EE4023" stroke="#EE4023"/>
<path d="M2075.7,564.9 2080.9,562.4 2081.7,557.2 2077.4,555.5 2072.3,558.1 2071.9,562.4Z" fill="#F26522" stroke="#F26522"/>
<path d="M2128.5,541.2 2131.7,535.0 2132.5,524.5 2129.3,525.0 2126.0,535.0Z" fill="#F99D1C" stroke="#F99D1C"/>
<path d="M2115.3,437.6 2122.9,440.0 2125.5,447.5 2132.0,446.4 2133.1,446.5 2133.2,445.9 2138.0,438.7 2134.4,432.5 2138.0,423.8 2137.1,422.7 2137.1,422.2 2137.5,421.8 2134.3,418.5 2127.3,424.2 2117.1,429.3 2114.3,437.9Z" fill="#A8151B" stroke="#A8151B"/>
<path d="M2132.6,446.5 2132.9,446.9 2133.0,447.4 2131.8,453.7 2134.3,462.5 2138.0,470.0 2145.5,468.7 2149.2,462.5 2145.5,452.5 2139.2,446.3 2134.0,447.3 2133.4,447.0 2133.1,446.4Z" fill="#F99D1C" stroke="#F99D1C"/>
<path d="M2181.7,413.7 2183.0,420.0 2188.0,423.7 2195.4,420.0 2203.0,417.5 2200.5,412.5 2192.9,410.0 2185.5,406.3 2179.3,408.8Z" fill="#FDB813" stroke="#FDB813"/>
<path d="M2160.8,479.7 2161.0,479.2 2161.4,478.9 2180.5,472.5 2195.5,470.0 2203.0,467.5 2205.5,460.0 2201.8,450.0 2199.2,440.0 2195.5,430.0 2189.3,431.3 2191.7,448.7 2188.0,457.5 2180.5,463.7 2160.5,473.8 2158.0,480.0 2158.1,480.2Z" fill="#FDB813" stroke="#FDB813"/>
<path d="M2158.2,480.2 2158.2,480.8 2158.0,481.3 2159.3,487.5 2163.0,492.5 2168.0,490.0 2170.5,483.8 2165.5,480.0 2161.7,480.6 2161.1,480.4 2160.8,479.7Z" fill="#FDB813" stroke="#FDB813"/>
<path d="M2176.8,482.5 2184.2,480.0 2183.0,476.3 2173.0,478.8Z" fill="#FDB813" stroke="#FDB813"/>
<path d="M1987.0,529.5 1984.4,537.4 1985.1,540.9 1985.8,540.9 1986.2,541.3 1986.8,543.8 1991.8,552.5 1998.0,562.5 2000.5,575.0 2003.0,585.0 2009.2,586.2 2012.4,583.2 2012.9,583.0 2013.5,583.3 2018.0,590.1 2021.7,600.0 2023.5,607.2 2023.7,606.1 2022.7,598.5 2023.0,597.7 2023.7,597.2 2022.0,590.2 2019.5,577.8 2015.6,567.5 2018.3,559.6 2022.3,551.6 2029.9,550.3 2033.3,545.7 2033.7,545.9 2027.8,542.2 2027.7,541.4 2028.2,540.9 2023.9,534.5 2013.9,514.5 2008.7,505.3 2002.5,503.8 1997.1,512.0 1992.1,522.0Z" fill="#E01F26" stroke="#E01F26"/>
<path d="M2022.0,590.2 2023.7,597.2 2023.0,597.7 2022.7,598.5 2023.7,606.1 2023.5,607.2 2024.2,610.0 2024.3,620.0 2028.0,632.5 2033.0,642.5 2039.3,650.0 2040.4,649.2 2037.7,644.5 2035.5,636.8 2041.1,637.7 2041.5,637.1 2043.1,636.6 2043.3,636.3 2038.1,629.3 2033.0,620.8 2030.3,611.8 2030.5,609.9 2035.3,591.0 2035.7,590.5 2036.3,590.4 2040.4,592.5 2042.5,596.5 2047.4,590.3 2058.0,587.7 2058.1,587.0 2058.5,586.5 2057.0,580.4 2052.2,570.7 2045.1,566.0 2037.2,564.7 2034.6,555.6 2029.0,551.5 2029.9,550.3 2022.3,551.6 2018.3,559.6 2015.6,567.5 2019.5,577.8Z" fill="#EE4023" stroke="#EE4023"/>
<path d="M2045.1,566.0 2052.2,570.7 2057.0,580.4 2058.5,586.5 2059.0,586.4 2059.6,586.7 2060.0,588.0 2066.9,589.0 2066.9,582.7 2061.2,571.2 2061.7,570.8 2066.5,577.2 2055.8,562.9 2056.3,563.5 2056.1,564.1 2046.8,557.9 2049.2,550.5 2044.9,548.4 2038.4,543.2 2034.6,546.0 2034.0,546.0 2033.2,545.6 2028.9,551.5 2034.6,555.6 2037.2,564.7Z" fill="#E01F26" stroke="#E01F26"/>
<path d="M2066.9,582.7 2066.9,589.0 2067.6,589.1 2070.3,602.6 2066.4,613.1 2059.5,618.7 2059.1,618.5 2058.0,625.0 2065.5,622.5 2073.0,615.0 2078.0,605.0 2075.5,592.5 2070.5,582.5 2061.7,570.8 2061.2,571.2ZM2049.2,550.5 2046.8,557.9 2056.1,564.1 2056.3,563.5 2055.7,562.7 2055.6,562.1 2058.0,555.0 2062.5,550.5 2063.2,550.3 2063.9,550.6 2064.5,550.0 2058.7,544.2 2051.0,539.0 2042.6,536.3 2039.5,540.4 2040.0,541.0 2039.9,541.6 2038.4,543.2 2044.9,548.4Z" fill="#EE4023" stroke="#EE4023"/>
<path d="M2070.3,602.6 2067.6,589.1 2060.1,588.0 2059.8,586.8 2059.2,586.3 2058.1,586.6 2057.8,587.7 2047.4,590.3 2042.5,596.5 2043.0,597.6 2045.5,608.7 2051.8,615.0 2058.6,617.3 2059.1,617.8 2059.1,618.5 2059.5,618.7 2066.4,613.1Z" fill="#E01F26" stroke="#E01F26"/>
<path d="M2088.8,878.7 2097.5,878.7 2105.1,875.0 2114.9,872.5 2125.0,871.2 2130.0,867.5 2150.0,860.0 2162.6,858.8 2172.5,860.0 2180.1,862.6 2184.9,867.4 2185.0,875.0 2188.8,880.0 2193.7,873.8 2197.6,872.8 2198.3,873.0 2198.6,873.8 2197.5,882.5 2200.0,890.0 2207.5,895.0 2215.0,897.5 2220.1,896.3 2226.3,898.7 2234.9,896.3 2243.7,895.0 2250.0,890.0 2257.5,882.5 2263.8,875.0 2271.2,867.5 2278.7,857.5 2285.0,845.0 2288.7,832.5 2290.0,822.5 2287.5,815.0 2277.5,800.0 2275.0,790.0 2268.8,782.5 2263.8,772.6 2262.5,760.0 2257.5,754.9 2255.0,745.0 2252.0,736.3 2248.7,741.3 2246.2,750.0 2241.3,769.9 2236.5,774.6 2235.7,774.5 2230.0,770.0 2222.5,762.5 2216.4,757.6 2216.3,757.0 2217.5,750.0 2221.2,744.5 2215.0,745.0 2207.6,743.8 2202.5,740.0 2195.0,742.5 2187.5,747.5 2182.5,753.8 2177.6,758.6 2177.0,758.6 2170.0,756.3 2162.5,757.5 2156.2,762.5 2150.0,768.7 2143.8,772.5 2142.4,780.1 2135.0,787.5 2105.0,798.7 2096.3,803.8 2092.5,810.0 2091.2,822.5 2088.8,835.0 2090.0,847.5 2087.5,860.0 2083.8,872.5Z" fill="#FDB813" stroke="#FDB813"/>
<path d="M2207.5,925.0 2211.3,929.5 2217.5,927.5 2223.7,922.5 2226.2,915.0 2222.5,913.8 2215.0,912.5 2208.8,913.8 2207.0,918.8Z" fill="#FDB813" stroke="#FDB813"/>
<path d="M2355.0,911.2 2362.5,907.5 2370.0,902.5 2377.5,898.7 2382.5,893.8 2372.5,889.9 2370.0,882.5 2367.5,876.3 2366.3,881.3 2366.2,887.6 2358.8,902.5 2353.8,907.5Z" fill="#FFD400" stroke="#FFD400"/>
<path d="M2295.0,946.2 2302.5,942.5 2312.5,938.7 2332.5,928.8 2342.5,922.5 2350.0,916.2 2347.5,912.5 2340.0,915.0 2320.0,927.5 2297.5,938.8 2292.0,943.7Z" fill="#FFD400" stroke="#FFD400"/>
<path d="M2254.6,726.7 2261.5,725.0 2268.5,725.8 2275.3,727.5 2289.1,734.4 2294.2,735.3 2282.2,725.0 2277.2,719.2 2277.2,718.5 2280.5,709.5 2275.3,705.2 2261.5,694.9 2254.7,691.4 2254.6,691.4 2247.8,688.8 2248.8,689.2 2247.1,726.7Z" fill="#E01F26" stroke="#E01F26"/>
<path d="M2287.3,708.6 2294.2,709.5 2302.0,706.0 2306.3,700.9 2304.5,699.2 2299.3,703.5 2292.7,706.0 2285.6,706.0Z" fill="#E01F26" stroke="#E01F26"/>
<path d="M2248.8,689.2 2235.7,682.8 2228.8,684.5 2221.8,689.7 2213.4,691.4 2206.5,689.7 2209.1,693.1 2215.1,694.9 2220.3,698.3 2234.0,705.2 2237.0,709.7 2237.2,710.4 2232.3,715.5 2230.6,720.7 2240.8,722.4 2246.0,726.7 2247.1,726.7Z" fill="#EE4023" stroke="#EE4023"/>
<path d="M2010.3,643.2 2020.7,653.6 2036.1,674.2 2041.3,682.8 2056.8,703.4 2061.9,706.9 2064.5,701.7 2064.5,691.4 2060.2,684.5 2055.1,677.7 2034.4,657.0 2027.5,648.4 2022.4,643.2 2015.5,642.4 2009.5,640.7Z" fill="#EE4023" stroke="#EE4023"/>
<path d="M2064.5,712.1 2068.8,714.6 2075.7,717.2 2092.9,720.7 2101.5,721.5 2107.5,719.8 2104.9,716.4 2098.1,714.6 2089.5,712.9 2079.1,712.1 2070.5,709.5 2063.7,709.5Z" fill="#EE4023" stroke="#EE4023"/>
<path d="M2155.7,733.6 2159.2,731.8 2171.2,725.0 2172.1,722.4 2166.0,724.1 2160.0,727.5 2154.9,731.0Z" fill="#EE4023" stroke="#EE4023"/>
<path d="M2085.4,666.4 2082.6,662.2 2081.7,669.0 2084.3,676.0 2086.9,684.5 2091.2,689.7 2098.1,692.3 2105.0,693.1 2111.8,695.7 2118.7,694.9 2120.4,686.3 2125.6,677.6 2127.3,670.9 2132.5,667.3 2129.0,663.8 2125.9,651.2 2119.2,650.4 2116.2,654.1 2112.7,661.1 2107.1,665.7 2084.3,668.6 2084.1,668.1Z" fill="#EE4023" stroke="#EE4023"/>
<path d="M2084.3,668.6 2107.1,665.7 2112.7,661.1 2116.2,654.1 2119.2,650.4 2125.9,651.2 2125.7,650.0 2127.3,647.6 2132.5,645.0 2133.3,641.5 2127.3,637.2 2120.4,633.8 2117.0,639.8 2111.9,646.7 2106.7,652.7 2099.8,657.0 2093.8,658.7 2089.5,663.0 2086.7,666.4 2086.1,666.7 2085.4,666.4 2084.1,668.1Z" fill="#F58220" stroke="#F58220"/>
<path d="M2134.2,689.7 2135.9,706.0 2139.4,705.2 2140.2,698.3 2142.2,693.0 2142.8,692.6 2143.3,692.6 2143.8,693.0 2147.1,698.3 2149.7,703.5 2153.1,701.7 2151.4,694.9 2146.6,688.5 2146.5,687.8 2149.7,682.8 2155.7,679.4 2153.1,676.8 2147.2,676.0 2146.7,675.6 2146.7,674.9 2147.7,672.2 2148.3,671.7 2154.9,672.5 2161.7,670.8 2165.2,666.5 2164.3,663.0 2161.6,665.6 2155.0,667.3 2146.2,666.5 2140.2,668.2 2138.5,675.9 2135.9,682.8Z" fill="#EE4023" stroke="#EE4023"/>
<path d="M2181.5,672.5 2183.2,665.6 2182.4,658.7 2178.9,660.4 2178.1,669.0 2178.9,675.9Z" fill="#EE4023" stroke="#EE4023"/>
<path d="M2040.4,649.2 2041.1,649.0 2041.7,649.3 2046.5,657.0 2051.6,662.2 2055.9,663.0 2054.2,657.0 2051.6,650.1 2048.2,643.2 2043.0,638.9 2041.4,638.6 2041.2,637.6 2035.5,636.8 2037.7,644.5Z" fill="#F58220" stroke="#F58220"/>
<path d="M2149.7,596.8 2151.4,593.3 2146.1,589.7 2142.8,584.7 2140.3,578.0 2141.9,571.0 2139.4,564.1 2133.3,564.9 2134.2,571.0 2132.5,577.0 2135.9,583.0 2139.4,589.9 2144.5,595.1Z" fill="#EE4023" stroke="#EE4023"/>
<path d="M2146.0,595.6 2146.4,596.3 2146.3,601.9 2149.7,605.5 2151.4,612.3 2154.9,615.7 2158.3,610.5 2155.7,603.7 2151.4,598.5 2149.8,597.9 2149.6,597.4 2149.7,596.8Z" fill="#EE4023" stroke="#EE4023"/>
<path d="M2153.1,632.9 2157.7,631.4 2158.3,631.5 2161.7,636.4 2165.2,639.8 2169.5,636.4 2170.3,629.5 2166.9,622.6 2161.7,620.9 2154.9,622.6 2149.7,626.0 2148.8,630.3Z" fill="#EE4023" stroke="#EE4023"/>
<path d="M2124.2,625.2 2127.3,620.9 2135.1,608.0 2133.3,607.1 2130.7,611.4 2126.5,617.4 2123.0,623.4Z" fill="#EE4023" stroke="#EE4023"/>
<path d="M2325.0,717.0 2327.5,716.2 2327.5,716.2 2320.1,707.0 2324.6,712.7 2322.3,713.8Z" fill="#F26522" stroke="#F26522"/>
<path d="M2335.0,726.2 2342.5,732.5 2345.0,731.2 2340.0,727.5 2332.5,720.0Z" fill="#F26522" stroke="#F26522"/>
<path d="M2373.7,772.5 2375.0,767.5 2372.5,760.0 2372.0,766.2Z" fill="#F26522" stroke="#F26522"/>
<path d="M2379.5,786.2 2381.2,785.0 2378.8,777.5Z" fill="#F26522" stroke="#F26522"/>
<path d="M2355.0,798.7 2361.3,804.5 2363.7,803.7 2360.0,798.8 2352.5,792.5Z" fill="#E2E3E4" stroke="#E2E3E4"/>
<path d="M1756.8,505.3 1757.8,504.2 1757.2,503.4 1757.4,502.4 1759.8,499.8 1758.9,497.9 1759.1,497.0 1759.8,496.5 1758.2,493.9 1757.5,494.1 1756.8,493.2 1755.7,492.9 1754.6,493.4 1754.2,494.7 1751.7,495.2 1751.7,496.6 1749.0,497.9 1748.5,498.5 1748.4,499.3 1748.6,500.1 1749.4,500.7 1751.7,500.8 1751.7,501.5Z" fill="#F26522" stroke="#F26522"/>
<path d="M1773.4,526.6 1774.4,525.7 1774.0,525.0 1774.2,524.4 1776.0,522.5 1775.2,516.8 1772.0,517.7 1771.6,518.5 1770.8,519.0 1770.4,522.0Z" fill="#F99D1C" stroke="#F99D1C"/>
<path d="M1801.1,522.5 1800.7,521.6 1800.9,521.0 1802.8,520.1 1802.7,519.4 1802.9,518.7 1804.0,518.0 1803.2,513.9 1799.5,515.1 1799.8,515.9 1799.5,516.8 1799.8,518.6 1799.5,519.2 1798.7,519.9 1799.5,523.1Z" fill="#F58220" stroke="#F58220"/>
<path d="M1679.3,412.8 1681.9,412.8 1686.7,410.3 1686.7,409.5 1687.2,408.7 1690.6,406.4 1691.9,406.4 1691.1,404.6 1690.4,404.7 1689.6,404.5 1689.1,403.9 1688.6,402.7 1687.4,402.4 1686.8,401.5 1683.7,402.6 1678.8,400.9 1672.1,403.6Z" fill="#EE4023" stroke="#EE4023"/>
<path d="M1196.4,612.4 1198.5,612.4 1198.8,609.7 1196.1,609.9Z" fill="#F26522" stroke="#F26522"/>
<path d="M1107.6,264.3 1107.8,263.4 1110.1,261.9 1116.2,259.7 1118.4,255.9 1111.6,252.8 1101.0,251.8 1090.3,253.6 1079.7,258.1 1072.9,262.7 1076.7,265.7 1084.4,265.8 1090.4,268.8 1094.4,272.0 1095.9,270.9 1103.5,266.3Z" fill="#FDB813" stroke="#FDB813"/>
<path d="M1103.5,266.3 1094.4,272.0 1094.7,272.6 1094.4,273.2 1091.1,275.6 1093.4,278.6 1099.5,279.4 1108.6,279.4 1116.2,278.6 1131.4,280.1 1138.9,279.4 1145.0,277.9 1148.1,273.3 1145.2,270.2 1146.5,265.8 1152.6,256.6 1146.5,257.4 1142.0,261.2 1136.0,265.6 1135.4,265.5 1128.3,262.7 1120.7,261.9 1111.6,263.4 1108.6,264.9 1108.0,264.8 1107.6,264.3Z" fill="#FDB813" stroke="#FDB813"/>
<path d="M1164.8,262.7 1168.5,265.0 1173.9,263.4 1183.0,255.9 1181.5,253.6 1173.9,254.3 1166.3,256.6 1161.0,258.9Z" fill="#FDB813" stroke="#FDB813"/>
<path d="M1188.2,269.3 1188.5,268.9 1189.1,268.7 1196.6,261.2 1202.7,257.4 1207.3,253.6 1199.6,252.8 1192.1,254.3 1186.0,257.4 1186.0,261.2 1186.7,264.8 1186.5,265.4 1186.0,265.7Z" fill="#FDB813" stroke="#FDB813"/>
<path d="M1114.7,244.8 1120.8,246.0 1128.2,248.2 1132.9,250.5 1142.0,249.8 1151.1,248.3 1160.2,247.5 1166.3,245.2 1163.2,243.0 1157.2,241.4 1144.9,242.9 1140.6,241.8 1140.1,241.5 1139.9,240.9 1140.1,240.4 1142.0,238.7 1135.9,237.6 1126.8,238.4 1117.7,240.7 1110.1,243.0Z" fill="#FDB813" stroke="#FDB813"/>
<path d="M1151.1,236.9 1157.2,236.9 1164.8,235.4 1170.1,233.1 1164.8,232.3 1155.7,233.8 1149.6,235.4Z" fill="#FDB813" stroke="#FDB813"/>
<path d="M1177.7,246.0 1183.0,247.5 1190.6,246.7 1196.6,244.8 1195.1,242.2 1187.5,241.4 1179.9,241.4 1174.6,243.0Z" fill="#FDB813" stroke="#FDB813"/>
<path d="M1189.0,234.1 1196.6,234.6 1201.9,233.1 1199.7,230.8 1192.1,230.1 1185.2,231.6Z" fill="#FDB813" stroke="#FDB813"/>
<path d="M1208.0,232.3 1211.1,235.4 1215.6,234.6 1213.3,232.0Z" fill="#FDB813" stroke="#FDB813"/>
<path d="M1205.7,244.2 1209.5,246.7 1214.9,249.0 1223.9,250.2 1234.6,250.5 1245.2,250.2 1252.8,248.3 1251.3,245.7 1230.1,243.7 1220.9,241.4 1211.8,239.9 1203.5,240.7Z" fill="#FDB813" stroke="#FDB813"/>
<path d="M1309.3,228.8 1318.9,225.8 1318.8,225.2 1319.1,224.7 1321.1,224.0 1343.9,218.4 1333.3,216.4 1315.1,215.9 1296.8,216.4 1280.1,217.4 1265.0,218.7 1249.8,220.9 1237.6,222.0 1228.5,224.0 1221.7,227.0 1222.5,230.8 1224.0,235.4 1227.0,239.2 1234.6,241.4 1251.3,243.0 1260.4,242.6 1269.5,240.7 1287.7,234.6 1291.0,233.7 1292.4,234.4 1298.7,232.6Z" fill="#FDB813" stroke="#FDB813"/>
<path d="M1196.6,290.0 1201.2,291.5 1207.3,290.0 1213.4,285.4 1222.5,276.3 1228.6,273.3 1236.3,273.4 1242.2,275.6 1248.2,279.3 1250.9,283.4 1251.0,283.9 1250.8,284.4 1246.6,288.6 1239.1,291.5 1231.6,293.8 1224.0,295.3 1217.9,297.6 1219.4,299.9 1227.0,299.1 1234.7,299.9 1239.2,302.2 1251.3,309.8 1257.4,312.0 1263.4,309.8 1266.5,303.7 1265.1,299.0 1268.0,294.7 1272.5,293.9 1277.1,296.1 1283.2,292.3 1288.5,288.5 1278.7,280.9 1274.4,276.7 1274.2,275.9 1275.6,271.8 1269.5,267.2 1261.8,263.4 1255.9,258.9 1251.3,255.1 1242.2,255.9 1233.0,254.8 1222.4,255.4 1213.4,257.4 1205.7,261.2 1200.4,267.2 1201.2,271.8 1203.9,275.8 1203.9,276.4 1195.1,285.5Z" fill="#FDB813" stroke="#FDB813"/>
<path d="M1232.3,286.2 1236.9,285.5 1239.9,282.4 1236.1,280.9 1231.6,283.2Z" fill="#FDB813" stroke="#FDB813"/>
<path d="M1178.7,303.4 1179.4,303.3 1179.9,303.6 1181.5,306.7 1186.0,308.2 1201.2,305.2 1203.5,302.2 1198.2,297.6 1192.1,296.1 1186.0,299.1 1183.8,300.7 1183.2,300.8 1182.7,300.3Z" fill="#FDB813" stroke="#FDB813"/>
<path d="M1734.1,260.7 1739.5,256.7 1747.6,252.2 1756.7,248.2 1766.8,244.9 1766.8,239.5 1758.7,240.5 1746.6,243.5 1734.4,248.6 1725.3,255.1 1719.2,263.2 1725.3,265.8 1725.3,265.8 1730.7,262.7 1730.5,262.8 1728.5,259.8 1728.9,259.2Z" fill="#EE4023" stroke="#EE4023"/>
<path d="M1730.5,262.8 1731.1,262.6 1731.8,262.9 1734.4,266.8 1740.5,269.8 1746.6,270.8 1742.5,267.8 1737.4,262.8 1734.4,261.8 1734.0,261.4 1734.1,260.7 1728.9,259.2 1728.5,259.8Z" fill="#EE4023" stroke="#EE4023"/>
<path d="M1833.6,227.3 1853.8,231.4 1857.9,229.4 1849.8,225.3 1839.7,222.7 1829.6,224.3Z" fill="#EE4023" stroke="#EE4023"/>
<path d="M1867.0,233.4 1872.1,234.4 1880.2,232.8 1874.1,230.4 1866.0,230.4Z" fill="#EE4023" stroke="#EE4023"/>
<path d="M2009.7,247.0 2015.8,248.6 2027.9,249.6 2036.0,247.6 2027.9,244.9 2017.8,243.5 2007.7,244.5Z" fill="#EE4023" stroke="#EE4023"/>
<path d="M2050.2,250.2 2058.3,249.0 2052.2,247.6 2042.1,247.6Z" fill="#EE4023" stroke="#EE4023"/>
<path d="M1712.1,225.9 1722.2,226.3 1730.3,225.9 1740.5,223.3 1734.4,222.7 1726.3,223.9 1719.7,223.4 1719.1,223.0 1718.9,222.3 1720.2,220.2 1712.1,221.9 1704.1,224.3Z" fill="#EE4023" stroke="#EE4023"/>
<path d="M2111.0,723.2 2123.9,725.0 2130.8,725.5 2130.8,723.2 2110.1,720.7Z" fill="#EE4023" stroke="#EE4023"/>
<path d="M2137.6,725.5 2146.2,725.0 2154.0,723.8 2154.9,721.5 2135.9,723.2Z" fill="#EE4023" stroke="#EE4023"/>
<path d="M2131.6,730.6 2135.1,732.7 2139.4,731.8 2136.8,729.3 2131.6,728.4Z" fill="#EE4023" stroke="#EE4023"/>
<path d="M2171.2,695.7 2175.5,694.9 2175.5,691.4 2170.3,692.3Z" fill="#EE4023" stroke="#EE4023"/>
<path d="M2180.7,694.0 2186.7,694.9 2193.6,694.9 2192.7,692.3 2186.7,690.6 2179.8,691.4Z" fill="#EE4023" stroke="#EE4023"/>
<path d="M2196.1,679.4 2199.6,682.8 2204.8,686.3 2211.6,688.0 2213.4,684.5 2208.2,679.4 2201.3,675.9 2195.3,675.9Z" fill="#EE4023" stroke="#EE4023"/>
<path d="M2324.6,712.7 2317.4,703.5 2318.3,708.6 2319.7,710.3 2320.0,711.2 2322.3,713.8Z" fill="#E01F26" stroke="#E01F26"/>
<path d="M2139.7,602.8 2142.8,601.1 2141.1,595.9 2137.6,596.8Z" fill="#EE4023" stroke="#EE4023"/>
<path d="M2160.9,608.8 2163.5,614.0 2165.2,608.8 2162.6,601.9 2158.3,600.2Z" fill="#EE4023" stroke="#EE4023"/>
</g>
<path d="M937.9,480.9 945.5,482.0M947.0,374.2 950.5,375.3 955.8,379.8 959.6,384.9M947.4,481.4 957.8,485.3 970.2,488.9 979.0,488.9 979.0,486.4 989.2,486.4 993.3,490.6 997.0,496.7 1001.4,498.9 1006.4,497.6 1010.8,500.5 1018.3,515.5 1024.2,519.6M997.5,275.7 944.4,322.4 946.8,324.8 951.8,327.9M951.9,328.0 955.7,331.2M956.1,331.8 958.0,338.2M960.8,385.2 1091.6,385.2 1096.7,388.6 1105.2,391.9 1108.4,391.8M1039.6,583.8 1041.0,578.1 1044.5,577.2 1045.0,576.2 1046.5,575.8 1047.5,573.9 1046.7,568.9 1057.5,568.1 1057.5,568.9M1044.7,577.1 1045.1,576.4 1046.5,575.9M1054.2,587.3 1050.8,589.3M1051.3,589.2 1055.3,586.9M1054.2,587.3 1054.2,584.6 1057.9,580.3M1055.3,586.9 1064.5,591.9 1063.4,594.1M1057.6,579.9 1056.1,580.4 1055.4,572.6 1057.5,568.9M1057.5,568.9 1058.1,567.9 1063.4,564.4 1063.6,566.8M1063.9,594.8 1067.4,593.2 1071.6,589.1 1076.7,585.9 1082.8,584.0 1084.8,583.0M1074.3,606.1 1077.3,607.1 1080.5,607.6M1083.8,308.5 1085.0,308.3 1083.9,308.9M1084.0,621.2 1084.6,616.6M1094.7,271.8 1103.5,266.3 1107.2,264.5M1096.8,694.0 1100.7,699.2 1104.6,701.1 1109.2,693.1 1116.7,686.8 1121.9,679.0 1123.1,679.0M1099.7,666.5 1105.3,666.5 1113.0,671.6 1120.7,675.4 1123.1,679.0M1123.1,679.0 1125.3,679.0 1133.0,684.0 1140.5,686.6 1145.8,690.5 1149.8,697.3M1132.2,396.2 1143.3,404.3M1142.9,701.0 1148.4,698.9M1142.9,701.0 1137.1,705.6 1134.8,712.6 1136.0,719.6 1140.7,726.6 1148.3,729.2 1150.8,736.6 1157.2,737.6M1149.0,698.5 1142.9,701.0M1147.0,411.7 1147.3,412.3 1146.3,418.4M1193.6,642.9 1185.7,647.1 1181.0,653.0 1178.4,663.0 1172.6,668.9 1166.6,664.4 1166.2,662.6 1165.5,662.4 1162.5,659.9 1163.8,655.5 1164.5,654.9 1159.2,634.7 1152.2,633.5 1144.5,629.7 1137.9,625.7 1135.1,617.4 1139.2,609.3 1146.5,603.2M1146.8,567.2 1146.5,565.7 1147.1,557.2M1148.0,417.9 1147.7,417.0 1151.5,415.8M1149.7,698.3 1149.5,699.5 1148.8,699.6 1148.4,698.9M1155.6,417.2 1149.5,418.6M1163.3,660.8 1155.5,663.4 1151.1,666.7 1152.3,674.8 1154.9,685.2 1151.0,690.4 1149.8,697.3M1150.3,420.0 1155.7,417.2M1156.7,776.6 1154.1,779.2M1154.2,779.3 1157.6,776.1M1156.7,776.6 1158.9,769.9 1157.7,762.5 1158.9,750.1 1156.3,738.4 1157.2,737.6M1157.2,737.6 1164.6,731.5 1175.8,730.1 1178.4,739.4 1185.7,746.7 1195.6,754.1 1204.6,759.3 1207.2,767.0 1210.7,771.7 1218.4,776.9 1223.5,796.9M1157.6,776.1 1161.0,779.5 1163.5,792.1 1172.4,805.4M1162.3,412.2 1167.4,409.4 1186.3,407.6 1200.1,395.6 1206.5,394.5 1208.0,400.9 1207.5,406.9M1166.1,662.5 1165.6,662.3 1162.7,659.9 1164.0,655.6 1164.5,655.0M1172.4,805.4 1173.6,807.2 1172.3,820.2 1169.8,830.2 1168.6,842.5 1171.0,867.3 1173.5,879.8 1176.0,904.8 1183.5,942.2 1187.3,954.7 1192.3,979.7 1196.0,989.6 1200.7,999.1 1210.5,1001.5M1172.4,805.4 1174.3,801.6 1182.6,800.2 1189.9,802.6 1196.6,799.3M1179.2,302.9 1182.4,300.5M1187.9,269.0 1186.2,266.0M1217.9,641.8 1213.8,647.3 1216.5,655.4 1219.5,661.3 1212.9,663.5 1205.7,666.3 1201.4,657.7 1202.6,650.3 1199.0,645.4 1198.9,644.7 1193.6,642.9M1193.6,642.9 1193.3,642.2 1193.6,641.5 1197.8,638.2 1196.4,629.6 1202.8,624.4M1193.7,642.8 1193.5,642.2 1193.7,641.6 1197.8,638.3M1198.9,644.6 1193.8,642.8M1196.6,799.3 1199.3,788.6 1205.9,791.2 1209.5,786.5 1220.7,786.5M1196.6,799.3 1198.4,798.4 1199.7,809.4 1205.7,814.2 1220.6,829.1 1225.2,831.5 1225.9,831.5M1214.1,1006.5 1215.9,1011.8 1222.8,1015.2 1234.6,1017.3M1231.0,656.2 1225.4,658.5 1220.4,661.0M1220.8,786.5 1223.5,796.9M1223.5,796.9 1230.8,801.7 1236.0,809.5 1238.8,818.2 1230.5,820.9 1224.9,825.4 1225.9,831.5M1225.9,831.5 1234.6,831.5 1240.0,826.0 1246.3,832.3 1238.4,845.6 1234.5,850.4M1237.8,658.6 1230.1,655.5M1230.1,655.5 1230.0,655.8 1231.0,656.2M1230.1,655.5 1231.4,648.7 1230.2,641.4M1231.0,656.2 1237.6,658.8 1237.8,658.6M1234.5,850.4 1240.6,854.2 1248.3,861.3 1253.5,868.9M1234.5,879.0 1228.6,873.6 1225.9,862.5 1227.8,853.1 1233.0,849.5 1234.5,850.4M1245.5,648.2 1243.4,654.4 1237.8,658.6M1268.5,371.3 1270.2,370.2M1318.6,225.9 1309.3,228.8 1298.7,232.6 1292.9,234.2M1428.1,589.7 1437.7,589.4 1444.1,592.3 1444.0,593.2 1437.6,594.3 1427.9,594.0M1442.1,601.3 1439.6,601.0 1437.2,599.1 1429.3,599.8M1430.2,578.6 1434.9,575.0 1444.1,579.0M1430.9,545.2 1447.8,544.0 1449.0,521.6 1457.7,520.3 1457.7,511.7M1442.1,601.3 1435.1,603.7M1455.6,599.6 1450.2,602.3 1442.1,601.3M1444.1,579.0 1453.5,584.5M1452.5,583.6 1444.1,579.0M1459.0,622.8 1457.8,615.9 1452.6,614.8 1447.0,617.1M1453.5,584.5 1453.6,584.2 1452.5,583.6M1452.5,583.6 1457.1,579.5 1485.1,579.0 1481.4,526.5 1485.3,526.5M1453.5,584.5 1455.0,593.2M1459.5,623.8 1454.5,625.8M1472.1,510.2 1457.7,511.4 1457.7,511.7M1457.7,511.7 1474.1,510.2 1485.7,526.9 1510.6,544.1 1532.7,560.1 1537.0,559.0M1463.4,628.5 1459.0,622.8M1459.5,623.8 1463.1,628.6 1463.4,628.5M1472.4,627.5 1472.0,628.5 1463.4,628.5M1465.3,500.2 1472.0,500.2 1481.8,494.8M1465.8,600.8 1468.1,601.6 1476.4,609.9M1472.1,510.2 1472.1,500.4M1485.8,526.7 1474.4,510.1 1472.1,510.2M1472.3,500.2 1481.8,494.8M1472.4,627.5 1474.8,634.8 1476.1,645.0M1473.6,613.0 1474.8,620.1 1472.4,627.5M1476.4,609.9 1473.6,613.0M1473.6,613.0 1476.0,610.7M1476.0,610.7 1485.1,608.9M1478.5,423.8 1484.7,424.7 1488.6,427.7 1486.9,441.3 1483.7,454.1M1481.8,494.8 1499.1,483.6 1507.2,479.0 1508.3,471.5 1505.7,465.0 1506.2,463.7M1496.2,355.9 1489.9,352.1M1501.0,610.9 1501.0,617.6 1499.8,627.5 1501.1,640.7 1500.6,640.9M1501.0,610.9 1501.0,608.5 1492.5,611.4 1485.4,609.0 1486.5,603.3 1489.2,599.3 1499.7,588.8 1510.0,591.4 1515.4,589.6M1518.5,606.9 1510.2,609.8 1501.0,610.9M1514.2,418.8 1526.7,421.7 1530.8,422.2M1515.4,589.6 1515.6,589.0 1517.3,589.0M1515.4,589.6 1517.2,589.0M1518.5,606.9 1518.5,614.8 1521.0,622.3 1523.1,636.9M1519.7,606.8 1523.5,609.6M1529.3,601.0 1523.1,601.0 1520.8,605.8 1519.8,606.3M1523.5,609.6 1519.9,606.7M1523.1,591.6 1529.3,601.0M1523.1,591.6 1517.7,589.0 1524.7,589.0 1535.2,581.9 1536.5,559.5 1537.0,559.0M1528.5,599.3 1523.3,591.6 1523.1,591.6M1523.5,609.6 1525.5,622.4 1526.0,636.0M1528.5,599.3 1532.2,601.2M1529.3,601.0 1529.5,600.9 1528.5,599.3M1532.2,601.2 1533.7,601.9 1531.0,620.1 1531.0,635.0M1532.2,601.2 1539.6,591.3 1550.2,594.0 1562.5,595.2 1574.7,594.0 1584.1,589.3M1537.0,559.0 1554.3,545.5M1537.8,373.3 1540.4,376.6 1544.8,378.8 1549.7,380.5M1540.8,369.9 1549.3,372.5 1549.8,373.2 1552.2,371.4 1553.1,366.2 1555.3,359.7M1549.7,380.5 1555.3,385.1M1549.9,373.3 1552.2,371.6M1549.9,373.5 1552.7,378.0 1550.5,380.9M1555.3,385.1 1555.3,384.9 1550.5,380.9M1552.5,405.1 1551.2,399.8 1556.7,396.5M1553.7,411.4 1552.9,402.7M1555.8,414.2 1553.7,411.4M1553.7,411.4 1553.5,411.3 1552.8,402.6 1560.3,403.8 1568.1,401.9 1568.6,400.0 1569.8,399.3M1573.0,532.5 1554.3,545.5M1554.3,545.5 1575.0,531.4M1555.3,385.1 1558.1,390.6 1557.2,396.4M1563.2,492.7 1558.6,485.8 1553.2,475.1 1557.1,464.8 1555.8,455.5M1556.7,396.5 1564.2,397.4M1564.2,397.4 1557.2,396.4M1588.8,614.8 1588.1,616.0 1585.4,616.0 1578.3,623.2 1573.2,630.9 1565.7,633.4 1560.8,640.7 1559.2,641.9M1562.0,352.6 1563.1,352.1 1565.4,351.6M1573.0,532.5 1564.7,520.6 1562.1,505.2M1563.2,492.7 1562.1,505.2M1562.1,505.2 1563.5,491.8M1573.5,661.0 1573.5,667.3 1562.7,667.3 1562.7,666.3M1573.5,661.0 1563.0,661.6M1563.5,491.8 1567.4,485.3 1572.5,478.9M1564.2,397.4 1569.8,399.3M1568.2,401.8 1568.7,400.1 1569.8,399.4M1571.8,399.0 1569.8,399.3M1570.1,399.4 1571.6,399.2M1571.8,399.0 1579.8,391.1 1584.6,389.5M1573.9,400.4 1573.0,399.2 1571.8,399.0M1571.9,399.2 1572.9,399.4 1573.9,400.4M1572.7,328.9 1572.3,327.8 1574.3,321.1 1574.7,314.6 1576.4,307.9 1579.1,302.7 1582.5,301.0 1585.5,298.0 1588.7,291.5 1598.7,281.5 1605.5,278.9 1611.8,278.1 1615.5,275.4 1619.6,278.5M1575.0,531.4 1574.8,531.2 1573.0,532.5M1579.7,661.0 1573.5,661.0M1573.9,400.4 1579.9,398.9 1583.2,400.0M1574.0,697.3 1576.0,698.0M1575.0,531.4 1589.8,537.5 1591.3,536.0M1576.0,698.0 1579.9,699.3 1579.3,703.3M1585.9,664.5 1588.5,669.7 1589.8,680.2 1585.7,687.2 1579.1,688.3 1581.3,692.7 1576.0,698.0M1576.6,775.0 1582.3,772.7 1595.0,772.7 1625.0,775.2 1632.5,775.2M1579.3,703.3 1578.8,705.8 1578.0,705.6M1579.0,707.2 1579.0,706.4 1600.7,707.7 1603.4,714.3 1607.9,717.7 1615.2,717.7 1615.2,713.8 1625.8,715.3 1628.5,724.8 1630.9,736.6 1637.7,737.7M1607.3,651.5 1611.3,651.5 1606.0,672.9 1601.0,680.4 1598.4,690.5 1590.7,698.3 1585.4,702.2 1579.3,703.3M1583.1,661.9 1579.7,661.0M1579.7,661.0 1583.1,662.0M1587.9,390.6 1581.9,388.1M1581.9,388.1 1581.9,388.3 1584.6,389.5M1581.9,388.1 1576.5,380.5 1584.3,377.1 1587.6,376.7M1583.2,400.0 1586.9,401.2 1586.0,403.5M1583.2,400.0 1591.3,398.6 1593.7,399.3M1584.1,589.3 1589.0,574.7 1592.7,557.6M1584.1,589.3 1585.5,588.6 1593.7,605.0 1588.8,614.8M1584.6,389.5 1587.7,390.8 1587.9,390.6M1587.1,404.8 1592.9,403.6 1595.3,401.9M1595.8,389.0 1587.9,390.6M1588.2,661.9 1592.9,661.0M1592.9,661.0 1588.2,661.8M1588.3,357.9 1591.3,369.8 1591.0,370.8M1588.8,614.8 1593.7,619.7 1592.9,621.7M1591.3,536.0 1592.7,557.6M1592.4,534.9 1591.2,534.5 1591.3,536.0M1592.5,851.5 1599.4,851.5 1604.3,842.8 1610.8,841.5 1614.2,839.3 1619.3,830.3 1620.9,830.0M1592.7,557.6 1591.3,534.6 1636.5,555.2M1601.3,658.2 1592.9,661.0M1636.6,555.2 1593.5,535.4M1598.8,653.0 1596.9,653.9 1591.4,640.1 1592.7,632.1 1593.6,630.8M1593.7,399.3 1593.8,400.7 1595.3,401.9M1596.8,397.5 1594.4,398.5 1593.7,399.3M1595.3,401.9 1595.2,401.4 1594.0,400.6 1593.8,399.4 1594.5,398.6 1596.8,397.7M1595.8,389.0 1597.3,390.8 1598.6,391.0 1599.0,392.1M1597.4,386.8 1596.0,387.5 1595.8,389.0M1595.9,388.9 1596.1,387.7 1597.4,386.8M1598.6,390.8 1597.4,390.6 1595.9,389.0M1596.8,397.5 1596.8,393.0M1599.0,392.1 1596.8,392.7 1596.8,393.0M1596.8,393.0 1605.5,390.5M1600.9,400.6 1600.4,399.6 1598.3,397.8 1596.8,397.5M1596.9,625.4 1604.6,621.5 1614.5,619.1 1624.1,609.4M1597.0,377.7 1601.7,379.3M1597.0,397.6 1598.2,397.9 1600.3,399.7 1600.9,400.6M1597.4,386.8 1603.5,383.7M1605.5,390.5 1599.0,392.1M1656.8,644.8 1650.1,644.8 1640.2,646.0 1630.1,648.6 1612.7,646.1 1599.0,652.9M1600.6,656.3 1601.3,658.2M1601.3,658.2 1601.6,658.1 1600.7,656.2M1600.9,400.6 1603.5,400.6 1608.5,401.4M1607.3,651.5 1607.1,651.3 1604.2,653.3M1604.3,653.4 1607.3,651.5M1605.0,420.9 1601.4,418.0 1596.8,413.4 1596.8,406.7 1604.1,406.7 1608.1,406.4M1605.0,420.9 1604.4,419.9 1610.3,415.6M1605.5,390.5 1613.6,388.9 1622.2,387.9M1608.1,406.4 1608.1,401.8M1608.1,401.8 1613.3,400.9 1614.0,402.1 1615.3,402.4 1618.8,408.6 1621.3,414.4M1614.9,418.3 1614.6,418.2 1614.3,418.8 1610.5,415.4 1610.3,412.4 1608.1,408.3 1608.1,406.4M1623.4,390.5 1622.5,390.4 1621.7,390.7 1621.1,391.9 1621.2,392.9 1618.2,394.6 1616.6,398.7 1615.8,398.7 1614.1,399.4 1613.3,400.7 1608.5,401.4M1610.5,415.6 1614.2,418.9 1612.1,422.8 1609.6,423.2M1611.3,352.5 1615.4,353.3M1612.2,422.8 1614.9,418.3M1612.4,422.8 1615.4,422.3 1617.6,425.2M1612.5,382.1 1613.8,381.9 1624.1,383.0M1619.9,352.8 1618.6,351.1 1614.5,350.3M1617.9,431.2 1617.6,431.1 1614.8,435.1M1614.9,418.3 1620.9,420.7M1614.9,435.3 1617.9,431.2M1615.3,402.2 1614.6,402.2 1613.8,401.8 1613.5,401.2 1613.5,400.3 1614.3,399.4 1616.6,398.8M1615.4,353.3 1622.2,352.8M1619.9,352.8 1615.4,353.3M1616.2,432.7 1616.2,425.6 1617.6,425.2M1616.8,343.3 1621.5,341.5 1628.5,340.6 1634.6,342.0 1638.7,344.0 1640.3,343.8 1641.7,345.2M1617.6,425.2 1619.2,424.8M1617.9,431.2 1626.2,429.4M1619.9,352.8 1622.2,352.6 1628.1,354.8M1636.0,775.9 1636.0,778.2 1623.5,783.2 1623.0,803.5 1618.6,803.5 1620.9,830.0M1620.9,830.0 1627.0,829.0 1632.0,824.0 1642.1,822.7 1649.3,816.7 1656.8,808.0 1664.7,802.7 1665.5,802.8M1621.0,291.1 1619.3,285.0 1618.4,279.4 1623.0,276.6 1631.4,270.8 1638.7,271.7 1639.0,272.1 1641.5,270.9 1642.2,271.0 1642.6,271.6M1626.4,419.4 1621.3,414.4M1621.3,414.4 1621.3,414.6 1625.0,418.3M1621.4,392.8 1621.2,392.0 1621.6,391.1M1621.6,391.1 1622.4,390.6 1623.3,390.7M1624.1,383.0 1622.3,387.9M1623.4,390.7 1624.2,391.2 1623.4,390.5M1624.2,383.5 1622.5,387.9 1624.3,387.7 1623.4,390.5M1630.1,599.5 1624.1,609.4M1624.1,609.4 1631.3,598.2M1630.4,374.9 1631.0,376.4 1627.9,382.6 1624.2,383.5M1624.2,419.8 1625.0,418.3M1656.6,407.1 1654.1,407.1 1651.2,400.6 1648.8,396.5 1645.9,390.7 1641.7,388.9 1633.1,389.2 1624.6,390.9M1625.0,418.3 1626.2,419.6 1626.4,419.4M1626.2,429.4 1626.5,428.1 1625.4,427.2 1625.1,426.4M1626.2,429.4 1626.7,430.4 1627.9,430.8 1629.1,430.3 1629.5,430.7 1641.6,429.2 1641.0,427.1 1648.0,424.4M1628.8,430.3 1627.3,430.6 1626.7,430.2 1626.3,429.5M1649.2,417.2 1641.4,418.5 1633.4,417.7 1626.4,419.4M1626.6,334.2 1628.4,333.8 1633.3,334.5 1640.6,333.8 1641.1,334.5M1628.1,354.8 1630.1,363.5 1628.7,356.4M1628.7,356.4 1628.3,354.7 1628.1,354.8M1638.5,349.7 1637.9,351.5 1632.4,355.1 1628.7,356.4M1628.8,369.8 1631.9,370.8 1632.4,371.7 1632.3,372.5M1630.0,363.7 1628.5,369.7 1629.3,369.7 1631.9,370.6 1632.5,371.5 1632.4,372.6M1630.1,599.5 1628.9,589.8 1634.0,579.7 1635.3,555.2 1636.6,555.2M1631.3,598.2 1631.1,598.0 1630.1,599.5M1632.3,372.5 1630.4,374.9M1630.4,374.9 1632.4,372.6M1631.3,598.2 1640.6,611.6M1663.6,366.9 1660.0,370.5 1651.2,372.8 1641.4,372.0 1633.1,372.8 1632.4,372.6M1632.5,775.2 1636.0,775.2 1636.0,775.9M1632.5,775.2 1627.7,770.4 1627.7,750.4 1635.3,749.1 1636.6,737.6 1637.7,737.7M1636.0,775.9 1645.4,775.2 1647.3,777.1M1636.6,555.2 1641.5,555.2 1641.5,544.7M1637.7,737.7 1647.8,739.0 1655.6,742.9 1662.6,748.8 1665.7,747.2 1661.5,743.0 1660.2,735.0 1661.5,725.6 1668.7,721.3 1669.7,721.8M1638.5,349.7 1639.6,349.6 1642.2,347.7 1642.5,346.5 1641.7,345.2M1638.9,344.0 1639.8,343.8 1640.7,344.2 1642.1,346.0 1642.3,347.0 1641.7,348.0 1639.6,349.4 1638.5,349.7M1639.1,272.2 1641.5,271.0 1642.1,271.1 1642.5,271.7M1641.5,544.7 1640.9,544.7 1639.6,515.1 1638.3,500.0 1639.7,486.7M1640.0,328.0 1642.6,329.7 1641.1,334.5M1640.6,611.6 1650.0,613.9 1659.9,611.4 1669.9,612.7 1679.4,609.1 1685.3,601.7M1640.6,611.6 1641.3,612.5 1637.6,618.6 1643.4,624.4 1648.3,634.3M1641.1,334.5 1645.0,340.8 1641.7,345.2M1641.5,544.7 1641.5,542.0 1700.4,541.4 1701.3,542.3M1641.7,275.5 1642.4,276.3 1643.2,282.2 1644.8,288.6 1649.6,301.4 1652.9,307.0 1654.7,311.7 1650.2,317.1 1645.2,322.1 1643.2,323.2M1642.5,271.7 1641.7,275.5M1641.7,275.5 1642.6,271.6M1642.4,345.6 1649.7,344.7 1657.0,347.4 1662.2,354.3 1666.7,361.6M1644.6,431.1 1645.1,429.1 1648.8,427.2M1645.9,390.6 1646.8,389.7 1654.7,393.7 1658.3,399.9 1659.7,404.3M1648.3,634.3 1657.1,644.6 1655.9,643.0M1655.9,643.0 1648.3,634.3M1649.0,778.8 1649.6,779.4 1652.2,785.7 1658.3,794.4 1665.5,802.8M1650.2,777.1 1659.4,769.2 1667.0,764.1 1671.5,761.9M1655.9,643.0 1665.4,646.5 1675.2,651.4M1666.7,361.6 1663.6,366.9M1664.4,366.0 1666.9,361.8 1666.7,361.6M1664.4,366.0 1669.0,364.9 1677.7,368.4 1685.8,373.2 1693.9,376.4 1701.1,380.0 1703.1,388.0 1699.2,393.8 1693.1,396.8M1665.5,802.8 1676.0,804.1 1676.0,804.9M1672.6,677.3 1675.0,684.1 1671.9,686.5 1666.6,686.5M1669.1,698.0 1667.5,699.2 1665.2,692.6 1666.1,686.5 1666.6,686.5M1666.6,686.5 1665.1,685.5 1666.1,680.5 1672.3,677.4 1672.0,675.8M1669.1,698.0 1669.8,704.8 1672.3,715.0 1671.6,717.4M1672.3,686.5 1672.3,695.5 1669.1,698.0M1671.5,761.9 1671.5,759.2 1682.1,756.5 1683.9,755.3M1671.5,761.9 1672.6,761.3 1683.4,769.4 1686.1,777.4 1684.8,790.2 1683.4,794.0M1675.2,651.4 1675.9,651.8 1677.4,657.6 1671.1,670.2 1672.0,675.8M1672.0,675.8 1677.2,672.7 1682.5,672.7 1682.4,673.2M1674.1,402.8 1678.8,400.9 1683.7,402.6 1686.4,401.6M1675.2,651.4 1682.1,650.3M1684.7,752.3 1683.9,747.5 1686.4,737.7 1680.6,727.6 1681.3,727.0 1675.7,724.2M1676.9,815.6 1680.9,849.0 1683.9,849.0M1681.6,726.8 1683.1,727.9M1693.0,646.1 1682.1,650.3M1682.1,650.3 1692.1,646.5M1683.3,728.0 1688.4,731.9 1689.2,734.3M1684.6,460.2 1687.8,458.6 1688.7,459.5 1688.2,460.5M1685.4,754.3 1686.5,753.6 1690.9,759.5 1693.1,765.9 1695.3,764.4 1696.4,757.7 1691.5,750.4 1688.6,738.6 1690.4,739.0M1685.5,601.7 1688.3,611.5 1691.6,611.5M1698.4,643.4 1686.3,627.7 1691.5,612.3M1691.5,612.3 1696.6,599.5 1701.1,592.3M1701.0,592.1 1696.4,599.5 1691.6,611.5M1691.7,461.6 1699.3,457.8 1707.6,455.3 1716.1,453.6 1722.5,454.7 1725.2,453.0 1732.2,451.2 1734.1,451.5M1693.8,477.6 1691.8,476.6M1693.8,477.6 1694.0,477.8 1694.4,477.3 1694.8,483.8 1691.9,494.8M1692.1,646.5 1692.9,646.2 1698.5,654.6 1701.1,665.1 1696.9,673.5 1695.7,673.5M1713.7,482.0 1707.6,486.5 1702.9,492.7 1697.7,501.3 1692.8,502.2M1693.0,739.7 1695.2,740.2 1704.9,741.4 1714.7,739.0 1722.0,735.9M1693.0,646.1 1698.4,643.4M1694.4,466.0 1694.9,465.5 1697.7,472.6 1694.4,477.0M1694.5,477.1 1699.9,478.7 1712.4,474.2M1696.7,681.6 1697.8,681.4 1723.6,702.0 1723.5,702.8M1698.4,643.4 1700.0,642.6 1717.7,651.5 1732.2,651.5M1702.3,588.4 1701.5,584.9M1701.5,584.9 1701.3,585.0 1702.1,588.5M1701.5,584.9 1704.1,571.9 1711.8,566.7M1703.2,589.1 1709.9,586.4 1720.5,589.1 1728.2,596.7M1713.0,476.1 1712.7,474.1 1712.4,474.2M1712.4,474.2 1713.9,481.9M1748.6,500.0 1743.6,502.5 1736.2,497.9 1720.1,485.0 1714.0,482.0 1713.0,476.1M1722.6,454.7 1722.6,459.5 1721.7,464.8 1717.4,471.7 1713.0,476.1M1713.1,418.3 1713.6,417.5 1724.6,419.7 1732.9,422.2 1743.9,427.7M1731.4,431.7 1725.3,430.1 1719.9,427.5 1719.4,426.8M1728.2,596.7 1736.0,606.0M1735.5,605.0 1728.2,596.7M1730.3,262.5 1728.5,259.8 1728.9,259.2 1733.7,260.6M1730.8,429.4 1738.0,429.4M1733.5,436.3 1730.8,429.4M1730.8,429.4 1730.5,429.4 1731.4,431.7M1731.4,431.7 1733.3,436.2 1733.5,436.3M1732.2,651.5 1734.2,651.5 1729.8,660.2 1729.8,679.7 1733.7,686.1M1732.2,651.5 1739.4,646.6 1749.3,639.2 1760.4,627.0 1754.7,626.0 1744.4,620.9 1736.8,614.8 1738.8,613.8M1737.9,438.9 1733.5,436.3M1754.8,493.3 1751.9,486.1 1742.2,473.1 1739.4,465.7 1741.7,461.1 1734.1,451.5M1734.1,451.5 1733.2,450.4 1730.9,439.9 1731.5,439.5 1737.2,442.9M1734.4,575.4 1736.5,571.9 1743.4,569.2 1753.2,568.4 1761.2,566.8 1769.3,563.6 1782.1,561.2M1735.5,605.0 1739.3,605.9M1745.4,440.6 1742.4,436.2 1735.6,430.5M1738.0,429.4 1735.5,430.2 1735.6,430.5M1735.6,430.5 1743.4,427.8M1736.0,606.0 1736.0,611.9 1738.8,613.8M1743.4,427.8 1738.0,429.4M1738.8,613.8 1743.5,611.5 1744.0,611.5M1743.9,427.7 1750.2,426.9M1744.2,400.7 1742.2,395.8 1737.5,393.0 1733.1,389.6 1730.6,383.6 1732.6,377.7 1737.7,376.0 1746.9,368.8 1753.8,368.2 1760.4,369.8 1766.2,373.7 1770.6,373.3 1776.8,371.7 1783.4,372.3 1789.2,374.7 1793.5,373.9 1795.9,372.5 1795.7,371.8 1789.8,370.8 1788.3,365.1 1790.2,361.8 1787.4,357.7 1802.8,353.6 1819.1,348.5 1828.0,347.9 1832.7,350.9 1835.5,354.1 1842.4,355.1 1846.0,357.9 1851.2,355.7 1858.3,353.3 1863.0,357.4 1868.1,361.0 1873.2,366.1 1881.6,372.7 1887.4,371.7 1892.6,373.3 1899.1,373.8 1901.0,375.6 1908.7,379.8 1917.9,383.7M1744.9,441.1 1748.7,438.8M1748.7,438.8 1748.5,438.5 1745.4,440.6M1748.6,500.0 1749.7,500.8 1751.7,500.8M1748.6,500.0 1748.3,499.1 1748.6,498.2 1751.7,496.6 1751.7,495.2 1754.2,494.7M1748.7,438.8 1754.8,443.8M1751.7,500.8 1749.3,500.5 1748.7,499.8 1748.5,499.1 1749.1,498.0 1751.7,496.7M1757.5,504.5 1756.8,505.3 1751.7,501.5 1751.7,500.8M1754.8,493.3 1754.3,494.0 1754.2,494.7M1754.2,494.7 1754.7,493.5 1755.6,493.1 1756.6,493.2 1757.5,494.1M1757.5,494.1 1756.4,493.0 1754.8,493.3M1757.5,494.1 1758.2,493.9 1759.6,496.2M1769.6,422.4 1775.7,427.5 1776.2,428.3M1774.1,525.9 1773.4,526.6 1770.4,522.0 1770.7,519.3M1791.8,538.9 1785.5,537.3 1780.2,536.4 1775.8,528.7M1776.2,428.3 1777.3,428.3 1779.8,429.0 1777.3,428.2 1776.2,428.3M1779.8,428.9 1783.9,426.2M1780.8,449.5 1785.4,447.2 1794.1,447.2 1802.5,449.7 1811.0,453.1 1817.2,460.2M1786.3,574.6 1783.1,568.2 1781.3,561.8 1782.1,561.2M1782.1,561.2 1785.3,558.8 1794.6,555.7 1796.0,548.4 1795.3,540.4M1783.9,426.2 1778.9,407.2 1792.5,403.3M1783.9,426.2 1785.0,425.5 1789.9,423.8 1795.3,420.2 1801.2,423.1 1806.2,427.3 1832.1,446.7 1836.4,450.3 1841.6,449.0 1842.0,449.4 1841.3,450.8M1797.1,540.8 1791.8,538.9M1791.8,538.9 1795.3,540.4M1795.3,540.4 1797.0,541.1 1797.1,540.8M1801.3,526.2 1800.5,529.3 1798.1,535.8 1797.1,540.8M1800.7,522.6 1799.5,523.1 1798.8,520.3M1798.9,404.8 1803.0,407.9 1809.2,413.3 1825.5,416.5 1832.3,424.2 1838.7,430.6 1844.2,434.7 1849.5,432.1M1799.9,515.0 1803.2,513.9 1804.0,517.7M1817.2,460.2 1818.2,469.0M1817.5,461.2 1822.9,463.2 1826.7,461.3 1830.1,456.3 1836.1,454.6 1839.7,452.5M1818.2,469.0 1817.5,461.2M1818.2,469.0 1819.7,476.7 1822.9,484.7 1825.4,492.9M1825.4,492.9 1826.3,499.4M1826.1,497.2 1825.4,492.9M1826.3,499.4 1826.1,497.2M1826.1,497.2 1827.5,496.6 1835.8,496.6 1843.4,495.1 1855.7,485.8 1862.0,473.1 1864.8,468.3 1862.5,464.5 1864.5,456.5 1865.4,456.2 1865.0,453.7 1865.5,453.0 1866.3,452.6M1826.3,499.4 1834.7,512.8 1831.0,518.4 1829.7,522.2M1839.1,451.9 1841.3,450.8M1839.7,452.5 1842.3,451.1 1847.5,452.8 1853.1,452.1 1862.3,444.8 1865.8,450.6 1866.3,452.6M1841.3,450.8 1845.4,448.8 1843.9,442.8 1848.1,436.5 1853.4,437.4 1857.6,434.5M1857.6,434.5 1859.9,432.6 1857.2,432.0 1848.5,436.3 1847.2,434.4 1849.5,432.1M1849.5,432.1 1856.0,425.6 1862.8,422.2 1871.2,418.9 1879.7,418.0 1889.9,418.9M1857.6,434.5 1858.5,434.0 1864.0,436.7 1862.5,440.4 1867.0,441.5 1870.0,441.9M1865.5,456.1 1865.1,453.9 1865.5,453.2 1866.2,452.8M1866.2,528.6 1871.4,526.9 1866.9,520.2 1869.6,509.4 1877.3,504.2 1883.3,497.0 1886.8,487.6 1880.6,477.6 1883.5,468.8 1890.4,470.2 1893.1,469.3M1866.3,452.6 1867.4,452.8 1869.7,454.5 1874.2,453.0 1879.7,450.2 1881.0,450.9M1866.4,452.8 1867.4,453.0 1869.6,454.5M1896.7,424.6 1890.3,430.0 1877.6,436.3 1875.3,439.8M1878.3,445.4 1879.4,446.1 1881.0,450.9M1881.0,450.9 1885.4,453.1 1892.1,458.1 1896.6,462.6M1889.9,418.9 1896.7,424.6M1896.7,424.6 1896.9,424.4 1890.1,418.8 1889.9,418.9M1893.1,469.3 1893.7,469.8 1894.5,470.0 1896.7,469.4 1894.7,469.8 1893.7,469.6M1895.9,464.5 1895.1,464.9 1893.0,467.6 1892.8,468.4 1893.1,469.3M1893.3,469.2 1893.0,468.5 1893.2,467.7 1895.9,464.5M1894.1,422.0 1891.9,417.6 1894.6,408.0 1903.1,404.4 1901.8,396.7 1912.3,394.1 1916.2,386.7M1896.6,462.6 1895.5,463.0 1895.7,463.3M1895.7,463.3 1904.5,460.0M1904.5,460.0 1904.3,459.7 1896.6,462.6M1908.1,475.9 1906.0,478.4 1899.5,475.2 1896.7,469.6M1904.5,460.0 1906.9,462.4M1909.6,465.2 1906.9,462.4M1906.9,462.4 1909.6,465.2M1908.1,475.9 1909.2,477.3 1906.7,484.8 1911.2,490.5 1920.0,495.9M1909.6,465.2 1910.5,472.8 1908.1,475.9M1914.7,385.4 1917.9,383.7M1916.2,386.7 1927.3,391.5M1927.3,391.5 1914.6,385.8 1916.2,386.7M1917.9,383.7 1927.3,378.5 1940.3,373.3 1952.9,374.6 1958.8,373.6 1958.8,368.0 1973.4,370.9 1985.9,374.6 1998.2,377.1 2025.4,379.6 2035.5,377.0 2049.0,381.1 2050.7,383.2M1962.7,509.3 1958.9,516.9 1945.1,514.1 1932.5,510.3 1918.8,504.9 1918.8,496.1 1920.0,495.9M1920.0,495.9 1928.3,494.5 1948.6,504.7 1962.3,508.8M2050.9,383.5 2052.4,385.3 2056.3,393.0 2063.1,390.7 2076.3,397.3 2076.3,398.2 2066.2,401.5 2053.8,408.9 2044.1,413.8 2039.0,421.4 2028.6,424.1 2018.3,429.2 2005.3,427.9 1980.1,422.9 1967.5,419.1 1954.8,414.0 1944.4,408.8 1936.8,398.7 1927.3,391.5M1962.3,508.8 1961.5,507.6 1973.2,505.3 1981.4,508.6M1981.4,508.6 1983.0,509.2 1978.9,515.3 1967.2,516.2 1962.7,509.3M1967.9,537.2 1967.0,535.4 1965.0,529.0 1964.4,521.7 1970.5,520.2 1974.1,520.8 1974.5,520.2 1975.5,519.9 1977.4,520.5 1977.9,521.4 1977.3,520.6 1975.6,520.1 1974.6,520.3 1974.2,520.8M1978.3,521.5 1978.9,521.8 1979.9,521.3 1982.4,522.2 1983.0,522.8 1982.9,523.8M1979.0,521.8 1979.8,521.5 1982.4,522.3 1982.8,522.8 1982.9,523.8M1981.4,508.6 1987.4,504.1 1998.2,498.7 2003.5,504.1M1984.9,536.1 1982.9,532.2M1982.9,532.2 1984.8,536.3M1982.9,523.8 1984.2,524.4 1982.9,532.2M1985.0,540.5 1984.4,537.4 1984.9,536.1M1984.9,536.1 1987.0,529.5 1992.1,522.0 1997.1,512.0 2002.5,503.8 2003.5,504.1M2003.5,504.1 2008.7,505.3 2013.9,514.5 2023.9,534.5 2028.0,540.6M2023.7,606.1 2022.7,598.6M2023.7,597.2 2022.0,590.2 2019.5,577.8 2015.6,567.5 2018.3,559.6 2022.3,551.6 2029.7,550.3M2058.5,586.3 2057.0,580.4 2052.2,570.7 2045.1,566.0 2037.2,564.7 2034.6,555.6 2029.1,551.6M2029.7,550.3 2028.9,551.4 2029.1,551.6M2029.1,551.6 2033.2,545.9M2033.0,545.9 2029.7,550.3M2056.1,564.1 2046.8,557.9 2049.2,550.5 2044.9,548.4 2038.7,543.4M2039.8,540.1 2042.6,536.3 2051.0,539.0 2058.7,544.2 2064.5,550.0M2040.3,648.9 2037.7,644.5 2035.5,636.8 2040.8,637.6M2042.7,596.2 2047.4,590.3 2057.8,587.7M2050.9,383.1 2056.8,374.9 2053.0,365.9 2060.1,360.2 2073.2,358.9 2086.0,365.3 2098.6,374.1 2123.3,389.0 2135.0,390.3 2139.1,399.8 2137.8,410.3 2134.3,418.5 2127.3,424.2M2058.5,586.3 2058.0,586.8 2057.8,587.7M2057.8,587.7 2058.5,586.5M2058.5,586.3 2059.7,586.6 2060.1,588.0 2066.9,589.0M2058.5,586.5 2059.6,586.7 2060.0,588.0M2066.9,589.0 2067.6,589.1 2070.3,602.6 2066.4,613.1 2059.5,618.7M2066.9,589.0 2066.9,582.7 2061.2,571.2M2125.5,651.2 2119.2,650.4 2116.2,654.1 2112.7,661.1 2107.1,665.7 2084.3,668.6 2084.1,668.1 2085.2,666.7M2114.4,437.5 2117.1,429.3 2127.3,424.2M2127.3,424.2 2134.1,418.7M2134.4,418.7 2137.2,421.5M2146.6,595.8 2149.3,596.7M2155.5,380.6 2152.1,375.5 2149.7,370.7M2158.5,480.1 2160.4,479.8M2248.8,689.6 2247.1,726.3M2324.3,712.8 2322.6,713.7M1651.3,872.2 1657.2,866.3 1663.4,867.9 1664.9,874.1 1659.1,879.9 1652.9,878.4 1651.3,872.2M1670.9,855.1 1671.5,849.4 1676.8,845.9 1679.2,852.7 1675.3,857.6 1670.9,855.1" fill="none" stroke="#fff" stroke-opacity="0.72" stroke-width="0.9" stroke-linejoin="round" stroke-linecap="round"/>
</svg>
<svg style="position:absolute;left:80px;top:170px" width="120" height="120" viewBox="0 0 1876 1876">
<defs><clipPath id="lgc"><circle cx="950" cy="975" r="725"/></clipPath></defs>
<circle cx="935" cy="972" r="786" fill="#3d95d4"/>
<g fill="#fff" clip-path="url(#lgc)">
<path d="M1040 215 C960 290 880 380 810 480 C750 580 690 710 655 830 C800 852 950 848 1100 820 C1250 780 1390 700 1470 630 C1510 590 1530 560 1537 520 L1750 430 L1700 100 L1040 100 Z"/>
<path d="M960 1160 C1000 1158 1150 1132 1300 1070 C1450 985 1560 880 1648 768 L1850 700 L1850 1850 L1040 1850 L1040 1645 C1010 1520 985 1400 965 1250 Z"/>
<path d="M625 1125 L690 1167 C695 1280 720 1400 745 1520 L765 1612 L742 1622 C700 1520 665 1400 640 1250 Z"/>
<path d="M655 280 C590 340 510 440 440 560 L400 668 L328 602 L150 560 L400 150 L650 120 Z"/>
<path d="M240 845 C280 880 320 920 340 960 C345 1080 360 1200 385 1345 L250 1350 L120 1000 L170 780 Z"/>
</g>
<path d="M1195 140 L1235 275 L1335 325 L1420 260 L1300 140 Z" fill="#fff"/>
<circle cx="885" cy="635" r="130" fill="#3d95d4"/>
</svg>

<div class="rule"></div>
<div class="t" style="left:200.6px;top:182.8px;font-size:52px;line-height:52px;font-weight:bold;color:#3f97d6;transform:scaleX(0.9720);">TRANSPARENCY</div>
<div class="t" style="left:208.2px;top:232.1px;font-size:50.5px;line-height:50.5px;font-weight:bold;color:#3f97d6;transform:scaleX(1.0070);">INTERNATIONAL</div>
<div class="t" style="left:207.3px;top:284.3px;font-size:22.8px;line-height:22.8px;font-weight:normal;color:#3f97d6;transform:scaleX(1.0999);">the global coalition against corruption</div>
<div class="t" style="left:87.0px;top:394.5px;font-size:116.8px;line-height:116.8px;font-weight:bold;color:#1d1d1b;transform:scaleX(0.6079);-webkit-text-stroke:1.0px #1d1d1b;letter-spacing:9px;text-shadow:4px 0 0 #1d1d1b,-4px 0 0 #1d1d1b,2.0px 0 0 #1d1d1b,-2.0px 0 0 #1d1d1b;">CORRUPTION</div>
<div class="t" style="left:87.5px;top:507.1px;font-size:116.8px;line-height:116.8px;font-weight:bold;color:#1d1d1b;transform:scaleX(0.5885);-webkit-text-stroke:1.0px #1d1d1b;letter-spacing:9px;text-shadow:4px 0 0 #1d1d1b,-4px 0 0 #1d1d1b,2.0px 0 0 #1d1d1b,-2.0px 0 0 #1d1d1b;">PERCEPTIONS</div>
<div class="t" style="left:87.5px;top:620.4px;font-size:116.8px;line-height:116.8px;font-weight:bold;color:#1d1d1b;transform:scaleX(0.5971);-webkit-text-stroke:1.0px #1d1d1b;letter-spacing:9px;text-shadow:4px 0 0 #1d1d1b,-4px 0 0 #1d1d1b,2.0px 0 0 #1d1d1b,-2.0px 0 0 #1d1d1b;">INDEX</div>
<div class="t" style="left:350.0px;top:620.4px;font-size:116.8px;line-height:116.8px;font-weight:bold;color:#e6125f;transform:scaleX(0.7099);-webkit-text-stroke:1.0px #e6125f;letter-spacing:9px;text-shadow:4px 0 0 #e6125f,-4px 0 0 #e6125f,2.0px 0 0 #e6125f,-2.0px 0 0 #e6125f;">2020</div>
<div class="t" style="left:90.3px;top:850.7px;font-size:36px;line-height:36px;font-weight:bold;color:#1d1d1b;transform:scaleX(0.8516);-webkit-text-stroke:0.5px #1d1d1b;">The perceived levels of public sector</div>
<div class="t" style="left:90.3px;top:894.3px;font-size:36px;line-height:36px;font-weight:bold;color:#1d1d1b;transform:scaleX(0.8827);-webkit-text-stroke:0.5px #1d1d1b;">corruption in 180 countries/territories</div>
<div class="t" style="left:90.3px;top:940.4px;font-size:36px;line-height:36px;font-weight:bold;color:#1d1d1b;transform:scaleX(0.8974);-webkit-text-stroke:0.5px #1d1d1b;">around the world.</div>
<div class="t" style="left:89.7px;top:1125.0px;font-size:22.9px;line-height:22.9px;font-weight:bold;color:#1d1d1b;transform:scaleX(0.6326);-webkit-text-stroke:0.3px #1d1d1b;">SCORE</div>
<div class="t" style="left:153.3px;top:1125.0px;font-size:22.9px;line-height:22.9px;font-weight:bold;color:#1d1d1b;transform:scaleX(0.7157);-webkit-text-stroke:0.3px #1d1d1b;">COUNTRY/TERRITORY</div>
<div class="t" style="left:365.8px;top:1125.0px;font-size:22.9px;line-height:22.9px;font-weight:bold;color:#1d1d1b;transform:scaleX(0.7047);-webkit-text-stroke:0.3px #1d1d1b;">RANK</div>
<div class="t" style="left:148.4px;top:2228.8px;font-size:31.4px;line-height:31.4px;font-weight:bold;color:#1d1d1b;transform:scaleX(0.5983);-webkit-text-stroke:0.4px #1d1d1b;">SCORE</div>
<div class="t" style="left:89.6px;top:2268.5px;font-size:19.2px;line-height:19.2px;font-weight:normal;color:#58595b;transform:scaleX(0.7032);">Highly</div>
<div class="t" style="left:89.6px;top:2285.7px;font-size:19.2px;line-height:19.2px;font-weight:normal;color:#58595b;transform:scaleX(0.7346);">Corrupt</div>
<div class="t" style="left:756.0px;top:2268.5px;font-size:19.2px;line-height:19.2px;font-weight:normal;color:#58595b;transform:scaleX(0.6900);">Very</div>
<div class="t" style="left:756.0px;top:2285.7px;font-size:19.2px;line-height:19.2px;font-weight:normal;color:#58595b;transform:scaleX(0.6901);">Clean</div>
<div class="t" style="left:160.4px;top:2325.0px;font-size:18.9px;line-height:18.9px;font-weight:normal;color:#58595b;transform:scaleX(0.7506);">0-9</div>
<div class="t" style="left:214.4px;top:2325.0px;font-size:18.9px;line-height:18.9px;font-weight:normal;color:#58595b;transform:scaleX(0.7139);">10-19</div>
<div class="t" style="left:275.4px;top:2325.0px;font-size:18.9px;line-height:18.9px;font-weight:normal;color:#58595b;transform:scaleX(0.7139);">20-29</div>
<div class="t" style="left:336.4px;top:2325.0px;font-size:18.9px;line-height:18.9px;font-weight:normal;color:#58595b;transform:scaleX(0.7139);">30-39</div>
<div class="t" style="left:397.4px;top:2325.0px;font-size:18.9px;line-height:18.9px;font-weight:normal;color:#58595b;transform:scaleX(0.7139);">40-49</div>
<div class="t" style="left:458.4px;top:2325.0px;font-size:18.9px;line-height:18.9px;font-weight:normal;color:#58595b;transform:scaleX(0.7139);">50-59</div>
<div class="t" style="left:519.5px;top:2325.0px;font-size:18.9px;line-height:18.9px;font-weight:normal;color:#58595b;transform:scaleX(0.7139);">60-69</div>
<div class="t" style="left:580.5px;top:2325.0px;font-size:18.9px;line-height:18.9px;font-weight:normal;color:#58595b;transform:scaleX(0.7139);">70-79</div>
<div class="t" style="left:641.5px;top:2325.0px;font-size:18.9px;line-height:18.9px;font-weight:normal;color:#58595b;transform:scaleX(0.7139);">80-89</div>
<div class="t" style="left:702.2px;top:2325.0px;font-size:18.9px;line-height:18.9px;font-weight:normal;color:#58595b;transform:scaleX(0.7224);">90-100</div>
<div class="t" style="left:811.5px;top:2325.0px;font-size:18.9px;line-height:18.9px;font-weight:normal;color:#58595b;transform:scaleX(0.7224);">No data</div>
<div class="t" style="left:2295.2px;top:2165.9px;font-size:48.5px;line-height:48.5px;font-weight:bold;color:#3f97d6;transform:scaleX(0.8490);-webkit-text-stroke:0.8px #3f97d6;">#cpi2020</div>
<div class="t" style="left:1936.1px;top:2225.1px;font-size:53px;line-height:53px;font-weight:bold;color:#1d1d1b;transform:scaleX(0.8115);-webkit-text-stroke:0.8px #1d1d1b;">www.transparency.org/cpi</div>
<div class="t" style="left:1625.6px;top:2312.1px;font-size:22.3px;line-height:22.3px;font-weight:normal;color:#414042;transform:scaleX(0.8901);">This work from Transparency International (2020) is licensed under CC BY-ND 4.0</div>
<div class="sc" style="left:89.7px;top:1168.0px;height:29.1px;background:#FFD500"></div>
<div class="ln" style="left:89.7px;top:1165.7px"></div>
<div class="n s" style="left:98.0px;top:1174.1px;color:#3d2b00">88</div>
<div class="n nm" style="left:158.0px;top:1174.1px">Denmark</div>
<div class="n s" style="left:366.0px;top:1174.1px">1</div>
<div class="sc" style="left:89.7px;top:1200.5px;height:29.1px;background:#FFD500"></div>
<div class="ln" style="left:89.7px;top:1198.2px"></div>
<div class="n s" style="left:98.0px;top:1206.6px;color:#3d2b00">88</div>
<div class="n nm" style="left:158.0px;top:1206.6px">New Zealand</div>
<div class="n s" style="left:366.0px;top:1206.6px">1</div>
<div class="sc" style="left:89.7px;top:1233.0px;height:29.1px;background:#FFD500"></div>
<div class="ln" style="left:89.7px;top:1230.7px"></div>
<div class="n s" style="left:98.0px;top:1239.1px;color:#3d2b00">85</div>
<div class="n nm" style="left:158.0px;top:1239.1px">Finland</div>
<div class="n s" style="left:366.0px;top:1239.1px">3</div>
<div class="sc" style="left:89.7px;top:1265.5px;height:29.1px;background:#FFD500"></div>
<div class="ln" style="left:89.7px;top:1263.2px"></div>
<div class="n s" style="left:98.0px;top:1271.6px;color:#3d2b00">85</div>
<div class="n nm" style="left:158.0px;top:1271.6px">Singapore</div>
<div class="n s" style="left:366.0px;top:1271.6px">3</div>
<div class="sc" style="left:89.7px;top:1298.0px;height:29.1px;background:#FFD500"></div>
<div class="ln" style="left:89.7px;top:1295.7px"></div>
<div class="n s" style="left:98.0px;top:1304.1px;color:#3d2b00">85</div>
<div class="n nm" style="left:158.0px;top:1304.1px">Sweden</div>
<div class="n s" style="left:366.0px;top:1304.1px">3</div>
<div class="sc" style="left:89.7px;top:1330.5px;height:29.1px;background:#FFD500"></div>
<div class="ln" style="left:89.7px;top:1328.2px"></div>
<div class="n s" style="left:98.0px;top:1336.6px;color:#3d2b00">85</div>
<div class="n nm" style="left:158.0px;top:1336.6px">Switzerland</div>
<div class="n s" style="left:366.0px;top:1336.6px">3</div>
<div class="sc" style="left:89.7px;top:1363.0px;height:29.1px;background:#FFD500"></div>
<div class="ln" style="left:89.7px;top:1360.7px"></div>
<div class="n s" style="left:98.0px;top:1369.1px;color:#3d2b00">84</div>
<div class="n nm" style="left:158.0px;top:1369.1px">Norway</div>
<div class="n s" style="left:366.0px;top:1369.1px">7</div>
<div class="sc" style="left:89.7px;top:1395.5px;height:29.1px;background:#FFD500"></div>
<div class="ln" style="left:89.7px;top:1393.2px"></div>
<div class="n s" style="left:98.0px;top:1401.6px;color:#3d2b00">82</div>
<div class="n nm" style="left:158.0px;top:1401.6px">Netherlands</div>
<div class="n s" style="left:366.0px;top:1401.6px">8</div>
<div class="sc" style="left:89.7px;top:1428.0px;height:29.1px;background:#FFD500"></div>
<div class="ln" style="left:89.7px;top:1425.7px"></div>
<div class="n s" style="left:98.0px;top:1434.1px;color:#3d2b00">80</div>
<div class="n nm" style="left:158.0px;top:1434.1px">Germany</div>
<div class="n s" style="left:366.0px;top:1434.1px">9</div>
<div class="sc" style="left:89.7px;top:1460.5px;height:29.1px;background:#FFD500"></div>
<div class="ln" style="left:89.7px;top:1458.2px"></div>
<div class="n s" style="left:98.0px;top:1466.6px;color:#3d2b00">80</div>
<div class="n nm" style="left:158.0px;top:1466.6px">Luxembourg</div>
<div class="n s" style="left:366.0px;top:1466.6px">9</div>
<div class="sc" style="left:89.7px;top:1493.0px;height:29.1px;background:#FDB714"></div>
<div class="ln" style="left:89.7px;top:1490.7px"></div>
<div class="n s" style="left:98.0px;top:1499.1px;color:#fff4d6">77</div>
<div class="n nm" style="left:158.0px;top:1499.1px">Australia</div>
<div class="n s" style="left:366.0px;top:1499.1px">11</div>
<div class="sc" style="left:89.7px;top:1525.5px;height:29.1px;background:#FDB714"></div>
<div class="ln" style="left:89.7px;top:1523.2px"></div>
<div class="n s" style="left:98.0px;top:1531.6px;color:#fff4d6">77</div>
<div class="n nm" style="left:158.0px;top:1531.6px">Canada</div>
<div class="n s" style="left:366.0px;top:1531.6px">11</div>
<div class="sc" style="left:89.7px;top:1558.0px;height:29.1px;background:#FDB714"></div>
<div class="ln" style="left:89.7px;top:1555.7px"></div>
<div class="n s" style="left:98.0px;top:1564.1px;color:#fff4d6">77</div>
<div class="n nm" style="left:158.0px;top:1564.1px">Hong Kong</div>
<div class="n s" style="left:366.0px;top:1564.1px">11</div>
<div class="sc" style="left:89.7px;top:1590.5px;height:29.1px;background:#FDB714"></div>
<div class="ln" style="left:89.7px;top:1588.2px"></div>
<div class="n s" style="left:98.0px;top:1596.6px;color:#fff4d6">77</div>
<div class="n nm" style="left:158.0px;top:1596.6px">United Kingdom</div>
<div class="n s" style="left:366.0px;top:1596.6px">11</div>
<div class="sc" style="left:89.7px;top:1623.0px;height:29.1px;background:#FDB714"></div>
<div class="ln" style="left:89.7px;top:1620.7px"></div>
<div class="n s" style="left:98.0px;top:1629.1px;color:#fff4d6">76</div>
<div class="n nm" style="left:158.0px;top:1629.1px">Austria</div>
<div class="n s" style="left:366.0px;top:1629.1px">15</div>
<div class="sc" style="left:89.7px;top:1655.5px;height:29.1px;background:#FDB714"></div>
<div class="ln" style="left:89.7px;top:1653.2px"></div>
<div class="n s" style="left:98.0px;top:1661.6px;color:#fff4d6">76</div>
<div class="n nm" style="left:158.0px;top:1661.6px">Belgium</div>
<div class="n s" style="left:366.0px;top:1661.6px">15</div>
<div class="sc" style="left:89.7px;top:1688.0px;height:29.1px;background:#FDB714"></div>
<div class="ln" style="left:89.7px;top:1685.7px"></div>
<div class="n s" style="left:98.0px;top:1694.1px;color:#fff4d6">75</div>
<div class="n nm" style="left:158.0px;top:1694.1px">Estonia</div>
<div class="n s" style="left:366.0px;top:1694.1px">17</div>
<div class="sc" style="left:89.7px;top:1720.5px;height:29.1px;background:#FDB714"></div>
<div class="ln" style="left:89.7px;top:1718.2px"></div>
<div class="n s" style="left:98.0px;top:1726.6px;color:#fff4d6">75</div>
<div class="n nm" style="left:158.0px;top:1726.6px">Iceland</div>
<div class="n s" style="left:366.0px;top:1726.6px">17</div>
<div class="sc" style="left:89.7px;top:1753.0px;height:29.1px;background:#FDB714"></div>
<div class="ln" style="left:89.7px;top:1750.7px"></div>
<div class="n s" style="left:98.0px;top:1759.1px;color:#fff4d6">74</div>
<div class="n nm" style="left:158.0px;top:1759.1px">Japan</div>
<div class="n s" style="left:366.0px;top:1759.1px">19</div>
<div class="sc" style="left:89.7px;top:1785.5px;height:29.1px;background:#FDB714"></div>
<div class="ln" style="left:89.7px;top:1783.2px"></div>
<div class="n s" style="left:98.0px;top:1791.6px;color:#fff4d6">72</div>
<div class="n nm" style="left:158.0px;top:1791.6px">Ireland</div>
<div class="n s" style="left:366.0px;top:1791.6px">20</div>
<div class="sc" style="left:89.7px;top:1818.0px;height:53.3px;background:#FDB714"></div>
<div class="ln" style="left:89.7px;top:1815.7px"></div>
<div class="n s" style="left:98.0px;top:1824.1px;color:#fff4d6">71</div>
<div class="n nm" style="left:158.0px;top:1824.1px">United Arab<br>Emirates</div>
<div class="n s" style="left:366.0px;top:1824.1px">21</div>
<div class="sc" style="left:89.7px;top:1874.7px;height:29.1px;background:#FDB714"></div>
<div class="ln" style="left:89.7px;top:1872.4px"></div>
<div class="n s" style="left:98.0px;top:1880.8px;color:#fff4d6">71</div>
<div class="n nm" style="left:158.0px;top:1880.8px">Uruguay</div>
<div class="n s" style="left:366.0px;top:1880.8px">21</div>
<div class="sc" style="left:89.7px;top:1907.2px;height:29.1px;background:#F8991D"></div>
<div class="ln" style="left:89.7px;top:1904.9px"></div>
<div class="n s" style="left:98.0px;top:1913.3px;color:#fff4d6">69</div>
<div class="n nm" style="left:158.0px;top:1913.3px">France</div>
<div class="n s" style="left:366.0px;top:1913.3px">23</div>
<div class="sc" style="left:89.7px;top:1939.7px;height:29.1px;background:#F8991D"></div>
<div class="ln" style="left:89.7px;top:1937.4px"></div>
<div class="n s" style="left:98.0px;top:1945.8px;color:#fff4d6">68</div>
<div class="n nm" style="left:158.0px;top:1945.8px">Bhutan</div>
<div class="n s" style="left:366.0px;top:1945.8px">24</div>
<div class="sc" style="left:89.7px;top:1972.2px;height:29.1px;background:#F8991D"></div>
<div class="ln" style="left:89.7px;top:1969.9px"></div>
<div class="n s" style="left:98.0px;top:1978.3px;color:#fff4d6">67</div>
<div class="n nm" style="left:158.0px;top:1978.3px">Chile</div>
<div class="n s" style="left:366.0px;top:1978.3px">25</div>
<div class="ln" style="left:89.7px;top:2002.4px"></div>
<div class="sc" style="left:432.8px;top:1143.3px;height:51.1px;background:#F8991D"></div>
<div class="ln" style="left:432.8px;top:1141.0px"></div>
<div class="n s" style="left:441.1px;top:1149.4px;color:#fff4d6">67</div>
<div class="n nm" style="left:501.1px;top:1149.4px">United States<br>of America</div>
<div class="n s" style="left:709.1px;top:1149.4px">25</div>
<div class="sc" style="left:432.8px;top:1197.8px;height:29.0px;background:#F8991D"></div>
<div class="ln" style="left:432.8px;top:1195.5px"></div>
<div class="n s" style="left:441.1px;top:1203.9px;color:#fff4d6">66</div>
<div class="n nm" style="left:501.1px;top:1203.9px">Seychelles</div>
<div class="n s" style="left:709.1px;top:1203.9px">27</div>
<div class="sc" style="left:432.8px;top:1230.1px;height:29.0px;background:#F8991D"></div>
<div class="ln" style="left:432.8px;top:1227.8px"></div>
<div class="n s" style="left:441.1px;top:1236.2px;color:#fff4d6">65</div>
<div class="n nm" style="left:501.1px;top:1236.2px">Taiwan</div>
<div class="n s" style="left:709.1px;top:1236.2px">28</div>
<div class="sc" style="left:432.8px;top:1262.5px;height:29.0px;background:#F8991D"></div>
<div class="ln" style="left:432.8px;top:1260.2px"></div>
<div class="n s" style="left:441.1px;top:1268.6px;color:#fff4d6">64</div>
<div class="n nm" style="left:501.1px;top:1268.6px">Barbados</div>
<div class="n s" style="left:709.1px;top:1268.6px">29</div>
<div class="sc" style="left:432.8px;top:1294.9px;height:29.0px;background:#F8991D"></div>
<div class="ln" style="left:432.8px;top:1292.6px"></div>
<div class="n s" style="left:441.1px;top:1301.0px;color:#fff4d6">63</div>
<div class="n nm" style="left:501.1px;top:1301.0px">Bahamas</div>
<div class="n s" style="left:709.1px;top:1301.0px">30</div>
<div class="sc" style="left:432.8px;top:1327.3px;height:29.0px;background:#F8991D"></div>
<div class="ln" style="left:432.8px;top:1325.0px"></div>
<div class="n s" style="left:441.1px;top:1333.4px;color:#fff4d6">63</div>
<div class="n nm" style="left:501.1px;top:1333.4px">Qatar</div>
<div class="n s" style="left:709.1px;top:1333.4px">30</div>
<div class="sc" style="left:432.8px;top:1359.7px;height:29.0px;background:#F8991D"></div>
<div class="ln" style="left:432.8px;top:1357.4px"></div>
<div class="n s" style="left:441.1px;top:1365.8px;color:#fff4d6">62</div>
<div class="n nm" style="left:501.1px;top:1365.8px">Spain</div>
<div class="n s" style="left:709.1px;top:1365.8px">32</div>
<div class="sc" style="left:432.8px;top:1392.0px;height:29.0px;background:#F8991D"></div>
<div class="ln" style="left:432.8px;top:1389.7px"></div>
<div class="n s" style="left:441.1px;top:1398.1px;color:#fff4d6">61</div>
<div class="n nm" style="left:501.1px;top:1398.1px">Korea, South</div>
<div class="n s" style="left:709.1px;top:1398.1px">33</div>
<div class="sc" style="left:432.8px;top:1424.4px;height:29.0px;background:#F8991D"></div>
<div class="ln" style="left:432.8px;top:1422.1px"></div>
<div class="n s" style="left:441.1px;top:1430.5px;color:#fff4d6">61</div>
<div class="n nm" style="left:501.1px;top:1430.5px">Portugal</div>
<div class="n s" style="left:709.1px;top:1430.5px">33</div>
<div class="sc" style="left:432.8px;top:1456.8px;height:29.0px;background:#F8991D"></div>
<div class="ln" style="left:432.8px;top:1454.5px"></div>
<div class="n s" style="left:441.1px;top:1462.9px;color:#fff4d6">60</div>
<div class="n nm" style="left:501.1px;top:1462.9px">Botswana</div>
<div class="n s" style="left:709.1px;top:1462.9px">35</div>
<div class="sc" style="left:432.8px;top:1489.2px;height:51.1px;background:#F8991D"></div>
<div class="ln" style="left:432.8px;top:1486.9px"></div>
<div class="n s" style="left:441.1px;top:1495.3px;color:#fff4d6">60</div>
<div class="n nm" style="left:501.1px;top:1495.3px">Brunei<br>Darussalam</div>
<div class="n s" style="left:709.1px;top:1495.3px">35</div>
<div class="sc" style="left:432.8px;top:1543.6px;height:29.0px;background:#F8991D"></div>
<div class="ln" style="left:432.8px;top:1541.3px"></div>
<div class="n s" style="left:441.1px;top:1549.7px;color:#fff4d6">60</div>
<div class="n nm" style="left:501.1px;top:1549.7px">Israel</div>
<div class="n s" style="left:709.1px;top:1549.7px">35</div>
<div class="sc" style="left:432.8px;top:1576.0px;height:29.0px;background:#F8991D"></div>
<div class="ln" style="left:432.8px;top:1573.7px"></div>
<div class="n s" style="left:441.1px;top:1582.1px;color:#fff4d6">60</div>
<div class="n nm" style="left:501.1px;top:1582.1px">Lithuania</div>
<div class="n s" style="left:709.1px;top:1582.1px">35</div>
<div class="sc" style="left:432.8px;top:1608.4px;height:29.0px;background:#F8991D"></div>
<div class="ln" style="left:432.8px;top:1606.1px"></div>
<div class="n s" style="left:441.1px;top:1614.5px;color:#fff4d6">60</div>
<div class="n nm" style="left:501.1px;top:1614.5px">Slovenia</div>
<div class="n s" style="left:709.1px;top:1614.5px">35</div>
<div class="sc" style="left:432.8px;top:1640.8px;height:51.1px;background:#F58220"></div>
<div class="ln" style="left:432.8px;top:1638.5px"></div>
<div class="n s" style="left:441.1px;top:1646.9px;color:#fff4d6">59</div>
<div class="n nm" style="left:501.1px;top:1646.9px">Saint Vincent and<br>the Grenadines</div>
<div class="n s" style="left:709.1px;top:1646.9px">40</div>
<div class="sc" style="left:432.8px;top:1695.2px;height:29.0px;background:#F58220"></div>
<div class="ln" style="left:432.8px;top:1692.9px"></div>
<div class="n s" style="left:441.1px;top:1701.3px;color:#fff4d6">58</div>
<div class="n nm" style="left:501.1px;top:1701.3px">Cabo Verde</div>
<div class="n s" style="left:709.1px;top:1701.3px">41</div>
<div class="sc" style="left:432.8px;top:1727.6px;height:29.0px;background:#F58220"></div>
<div class="ln" style="left:432.8px;top:1725.3px"></div>
<div class="n s" style="left:441.1px;top:1733.7px;color:#fff4d6">57</div>
<div class="n nm" style="left:501.1px;top:1733.7px">Costa Rica</div>
<div class="n s" style="left:709.1px;top:1733.7px">42</div>
<div class="sc" style="left:432.8px;top:1760.0px;height:29.0px;background:#F58220"></div>
<div class="ln" style="left:432.8px;top:1757.7px"></div>
<div class="n s" style="left:441.1px;top:1766.1px;color:#fff4d6">57</div>
<div class="n nm" style="left:501.1px;top:1766.1px">Cyprus</div>
<div class="n s" style="left:709.1px;top:1766.1px">42</div>
<div class="sc" style="left:432.8px;top:1792.4px;height:29.0px;background:#F58220"></div>
<div class="ln" style="left:432.8px;top:1790.1px"></div>
<div class="n s" style="left:441.1px;top:1798.5px;color:#fff4d6">57</div>
<div class="n nm" style="left:501.1px;top:1798.5px">Latvia</div>
<div class="n s" style="left:709.1px;top:1798.5px">42</div>
<div class="sc" style="left:432.8px;top:1824.7px;height:29.0px;background:#F58220"></div>
<div class="ln" style="left:432.8px;top:1822.4px"></div>
<div class="n s" style="left:441.1px;top:1830.8px;color:#fff4d6">56</div>
<div class="n nm" style="left:501.1px;top:1830.8px">Georgia</div>
<div class="n s" style="left:709.1px;top:1830.8px">45</div>
<div class="sc" style="left:432.8px;top:1857.1px;height:29.0px;background:#F58220"></div>
<div class="ln" style="left:432.8px;top:1854.8px"></div>
<div class="n s" style="left:441.1px;top:1863.2px;color:#fff4d6">56</div>
<div class="n nm" style="left:501.1px;top:1863.2px">Poland</div>
<div class="n s" style="left:709.1px;top:1863.2px">45</div>
<div class="sc" style="left:432.8px;top:1889.5px;height:29.0px;background:#F58220"></div>
<div class="ln" style="left:432.8px;top:1887.2px"></div>
<div class="n s" style="left:441.1px;top:1895.6px;color:#fff4d6">56</div>
<div class="n nm" style="left:501.1px;top:1895.6px">Saint Lucia</div>
<div class="n s" style="left:709.1px;top:1895.6px">45</div>
<div class="sc" style="left:432.8px;top:1921.9px;height:29.0px;background:#F58220"></div>
<div class="ln" style="left:432.8px;top:1919.6px"></div>
<div class="n s" style="left:441.1px;top:1928.0px;color:#fff4d6">55</div>
<div class="n nm" style="left:501.1px;top:1928.0px">Dominica</div>
<div class="n s" style="left:709.1px;top:1928.0px">48</div>
<div class="sc" style="left:432.8px;top:1954.3px;height:29.0px;background:#F58220"></div>
<div class="ln" style="left:432.8px;top:1952.0px"></div>
<div class="n s" style="left:441.1px;top:1960.4px;color:#fff4d6">54</div>
<div class="n nm" style="left:501.1px;top:1960.4px">Czechia</div>
<div class="n s" style="left:709.1px;top:1960.4px">49</div>
<div class="sc" style="left:432.8px;top:1986.6px;height:29.0px;background:#F58220"></div>
<div class="ln" style="left:432.8px;top:1984.3px"></div>
<div class="n s" style="left:441.1px;top:1992.7px;color:#fff4d6">54</div>
<div class="n nm" style="left:501.1px;top:1992.7px">Oman</div>
<div class="n s" style="left:709.1px;top:1992.7px">49</div>
<div class="ln" style="left:432.8px;top:2016.7px"></div>
<div class="sc" style="left:775.8px;top:1143.3px;height:29.0px;background:#F58220"></div>
<div class="ln" style="left:775.8px;top:1141.0px"></div>
<div class="n s" style="left:784.1px;top:1149.4px;color:#fff4d6">54</div>
<div class="n nm" style="left:844.1px;top:1149.4px">Rwanda</div>
<div class="n s" style="left:1052.1px;top:1149.4px">49</div>
<div class="sc" style="left:775.8px;top:1175.7px;height:29.0px;background:#F58220"></div>
<div class="ln" style="left:775.8px;top:1173.4px"></div>
<div class="n s" style="left:784.1px;top:1181.8px;color:#fff4d6">53</div>
<div class="n nm" style="left:844.1px;top:1181.8px">Grenada</div>
<div class="n s" style="left:1052.1px;top:1181.8px">52</div>
<div class="sc" style="left:775.8px;top:1208.1px;height:29.0px;background:#F58220"></div>
<div class="ln" style="left:775.8px;top:1205.8px"></div>
<div class="n s" style="left:784.1px;top:1214.2px;color:#fff4d6">53</div>
<div class="n nm" style="left:844.1px;top:1214.2px">Italy</div>
<div class="n s" style="left:1052.1px;top:1214.2px">52</div>
<div class="sc" style="left:775.8px;top:1240.4px;height:29.0px;background:#F58220"></div>
<div class="ln" style="left:775.8px;top:1238.1px"></div>
<div class="n s" style="left:784.1px;top:1246.5px;color:#fff4d6">53</div>
<div class="n nm" style="left:844.1px;top:1246.5px">Malta</div>
<div class="n s" style="left:1052.1px;top:1246.5px">52</div>
<div class="sc" style="left:775.8px;top:1272.8px;height:29.0px;background:#F58220"></div>
<div class="ln" style="left:775.8px;top:1270.5px"></div>
<div class="n s" style="left:784.1px;top:1278.9px;color:#fff4d6">53</div>
<div class="n nm" style="left:844.1px;top:1278.9px">Mauritius</div>
<div class="n s" style="left:1052.1px;top:1278.9px">52</div>
<div class="sc" style="left:775.8px;top:1305.2px;height:29.0px;background:#F58220"></div>
<div class="ln" style="left:775.8px;top:1302.9px"></div>
<div class="n s" style="left:784.1px;top:1311.3px;color:#fff4d6">53</div>
<div class="n nm" style="left:844.1px;top:1311.3px">Saudi Arabia</div>
<div class="n s" style="left:1052.1px;top:1311.3px">52</div>
<div class="sc" style="left:775.8px;top:1337.6px;height:29.0px;background:#F58220"></div>
<div class="ln" style="left:775.8px;top:1335.3px"></div>
<div class="n s" style="left:784.1px;top:1343.7px;color:#fff4d6">51</div>
<div class="n nm" style="left:844.1px;top:1343.7px">Malaysia</div>
<div class="n s" style="left:1052.1px;top:1343.7px">57</div>
<div class="sc" style="left:775.8px;top:1370.0px;height:29.0px;background:#F58220"></div>
<div class="ln" style="left:775.8px;top:1367.7px"></div>
<div class="n s" style="left:784.1px;top:1376.1px;color:#fff4d6">51</div>
<div class="n nm" style="left:844.1px;top:1376.1px">Namibia</div>
<div class="n s" style="left:1052.1px;top:1376.1px">57</div>
<div class="sc" style="left:775.8px;top:1402.3px;height:29.0px;background:#F58220"></div>
<div class="ln" style="left:775.8px;top:1400.0px"></div>
<div class="n s" style="left:784.1px;top:1408.4px;color:#fff4d6">50</div>
<div class="n nm" style="left:844.1px;top:1408.4px">Greece</div>
<div class="n s" style="left:1052.1px;top:1408.4px">59</div>
<div class="sc" style="left:775.8px;top:1434.7px;height:29.0px;background:#F26722"></div>
<div class="ln" style="left:775.8px;top:1432.4px"></div>
<div class="n s" style="left:784.1px;top:1440.8px;color:#fff4d6">49</div>
<div class="n nm" style="left:844.1px;top:1440.8px">Armenia</div>
<div class="n s" style="left:1052.1px;top:1440.8px">60</div>
<div class="sc" style="left:775.8px;top:1467.1px;height:29.0px;background:#F26722"></div>
<div class="ln" style="left:775.8px;top:1464.8px"></div>
<div class="n s" style="left:784.1px;top:1473.2px;color:#fff4d6">49</div>
<div class="n nm" style="left:844.1px;top:1473.2px">Jordan</div>
<div class="n s" style="left:1052.1px;top:1473.2px">60</div>
<div class="sc" style="left:775.8px;top:1499.5px;height:29.0px;background:#F26722"></div>
<div class="ln" style="left:775.8px;top:1497.2px"></div>
<div class="n s" style="left:784.1px;top:1505.6px;color:#fff4d6">49</div>
<div class="n nm" style="left:844.1px;top:1505.6px">Slovakia</div>
<div class="n s" style="left:1052.1px;top:1505.6px">60</div>
<div class="sc" style="left:775.8px;top:1531.9px;height:29.0px;background:#F26722"></div>
<div class="ln" style="left:775.8px;top:1529.6px"></div>
<div class="n s" style="left:784.1px;top:1538.0px;color:#fff4d6">47</div>
<div class="n nm" style="left:844.1px;top:1538.0px">Belarus</div>
<div class="n s" style="left:1052.1px;top:1538.0px">63</div>
<div class="sc" style="left:775.8px;top:1564.2px;height:29.0px;background:#F26722"></div>
<div class="ln" style="left:775.8px;top:1561.9px"></div>
<div class="n s" style="left:784.1px;top:1570.3px;color:#fff4d6">47</div>
<div class="n nm" style="left:844.1px;top:1570.3px">Croatia</div>
<div class="n s" style="left:1052.1px;top:1570.3px">63</div>
<div class="sc" style="left:775.8px;top:1596.6px;height:29.0px;background:#F26722"></div>
<div class="ln" style="left:775.8px;top:1594.3px"></div>
<div class="n s" style="left:784.1px;top:1602.7px;color:#fff4d6">47</div>
<div class="n nm" style="left:844.1px;top:1602.7px">Cuba</div>
<div class="n s" style="left:1052.1px;top:1602.7px">63</div>
<div class="sc" style="left:775.8px;top:1629.0px;height:51.1px;background:#F26722"></div>
<div class="ln" style="left:775.8px;top:1626.7px"></div>
<div class="n s" style="left:784.1px;top:1635.1px;color:#fff4d6">47</div>
<div class="n nm" style="left:844.1px;top:1635.1px">Sao Tome<br>and Principe</div>
<div class="n s" style="left:1052.1px;top:1635.1px">63</div>
<div class="sc" style="left:775.8px;top:1683.5px;height:29.0px;background:#F26722"></div>
<div class="ln" style="left:775.8px;top:1681.2px"></div>
<div class="n s" style="left:784.1px;top:1689.6px;color:#fff4d6">45</div>
<div class="n nm" style="left:844.1px;top:1689.6px">Montenegro</div>
<div class="n s" style="left:1052.1px;top:1689.6px">67</div>
<div class="sc" style="left:775.8px;top:1715.8px;height:29.0px;background:#F26722"></div>
<div class="ln" style="left:775.8px;top:1713.5px"></div>
<div class="n s" style="left:784.1px;top:1721.9px;color:#fff4d6">45</div>
<div class="n nm" style="left:844.1px;top:1721.9px">Senegal</div>
<div class="n s" style="left:1052.1px;top:1721.9px">67</div>
<div class="sc" style="left:775.8px;top:1748.2px;height:29.0px;background:#F26722"></div>
<div class="ln" style="left:775.8px;top:1745.9px"></div>
<div class="n s" style="left:784.1px;top:1754.3px;color:#fff4d6">44</div>
<div class="n nm" style="left:844.1px;top:1754.3px">Bulgaria</div>
<div class="n s" style="left:1052.1px;top:1754.3px">69</div>
<div class="sc" style="left:775.8px;top:1780.6px;height:29.0px;background:#F26722"></div>
<div class="ln" style="left:775.8px;top:1778.3px"></div>
<div class="n s" style="left:784.1px;top:1786.7px;color:#fff4d6">44</div>
<div class="n nm" style="left:844.1px;top:1786.7px">Hungary</div>
<div class="n s" style="left:1052.1px;top:1786.7px">69</div>
<div class="sc" style="left:775.8px;top:1813.0px;height:29.0px;background:#F26722"></div>
<div class="ln" style="left:775.8px;top:1810.7px"></div>
<div class="n s" style="left:784.1px;top:1819.1px;color:#fff4d6">44</div>
<div class="n nm" style="left:844.1px;top:1819.1px">Jamaica</div>
<div class="n s" style="left:1052.1px;top:1819.1px">69</div>
<div class="sc" style="left:775.8px;top:1845.4px;height:29.0px;background:#F26722"></div>
<div class="ln" style="left:775.8px;top:1843.1px"></div>
<div class="n s" style="left:784.1px;top:1851.5px;color:#fff4d6">44</div>
<div class="n nm" style="left:844.1px;top:1851.5px">Romania</div>
<div class="n s" style="left:1052.1px;top:1851.5px">69</div>
<div class="sc" style="left:775.8px;top:1877.7px;height:29.0px;background:#F26722"></div>
<div class="ln" style="left:775.8px;top:1875.4px"></div>
<div class="n s" style="left:784.1px;top:1883.8px;color:#fff4d6">44</div>
<div class="n nm" style="left:844.1px;top:1883.8px">South Africa</div>
<div class="n s" style="left:1052.1px;top:1883.8px">69</div>
<div class="sc" style="left:775.8px;top:1910.1px;height:29.0px;background:#F26722"></div>
<div class="ln" style="left:775.8px;top:1907.8px"></div>
<div class="n s" style="left:784.1px;top:1916.2px;color:#fff4d6">44</div>
<div class="n nm" style="left:844.1px;top:1916.2px">Tunisia</div>
<div class="n s" style="left:1052.1px;top:1916.2px">69</div>
<div class="sc" style="left:775.8px;top:1942.5px;height:29.0px;background:#F26722"></div>
<div class="ln" style="left:775.8px;top:1940.2px"></div>
<div class="n s" style="left:784.1px;top:1948.6px;color:#fff4d6">43</div>
<div class="n nm" style="left:844.1px;top:1948.6px">Ghana</div>
<div class="n s" style="left:1052.1px;top:1948.6px">75</div>
<div class="sc" style="left:775.8px;top:1974.9px;height:29.0px;background:#F26722"></div>
<div class="ln" style="left:775.8px;top:1972.6px"></div>
<div class="n s" style="left:784.1px;top:1981.0px;color:#fff4d6">43</div>
<div class="n nm" style="left:844.1px;top:1981.0px">Maldives</div>
<div class="n s" style="left:1052.1px;top:1981.0px">75</div>
<div class="sc" style="left:775.8px;top:2007.3px;height:29.0px;background:#F26722"></div>
<div class="ln" style="left:775.8px;top:2005.0px"></div>
<div class="n s" style="left:784.1px;top:2013.4px;color:#fff4d6">43</div>
<div class="n nm" style="left:844.1px;top:2013.4px">Vanuatu</div>
<div class="n s" style="left:1052.1px;top:2013.4px">75</div>
<div class="ln" style="left:775.8px;top:2037.3px"></div>
<div class="sc" style="left:1118.7px;top:1143.3px;height:29.0px;background:#F26722"></div>
<div class="ln" style="left:1118.7px;top:1141.0px"></div>
<div class="n s" style="left:1127.0px;top:1149.4px;color:#fff4d6">42</div>
<div class="n nm" style="left:1187.0px;top:1149.4px">Argentina</div>
<div class="n s" style="left:1395.0px;top:1149.4px">78</div>
<div class="sc" style="left:1118.7px;top:1175.7px;height:29.0px;background:#F26722"></div>
<div class="ln" style="left:1118.7px;top:1173.4px"></div>
<div class="n s" style="left:1127.0px;top:1181.8px;color:#fff4d6">42</div>
<div class="n nm" style="left:1187.0px;top:1181.8px">Bahrain</div>
<div class="n s" style="left:1395.0px;top:1181.8px">78</div>
<div class="sc" style="left:1118.7px;top:1208.1px;height:29.0px;background:#F26722"></div>
<div class="ln" style="left:1118.7px;top:1205.8px"></div>
<div class="n s" style="left:1127.0px;top:1214.2px;color:#fff4d6">42</div>
<div class="n nm" style="left:1187.0px;top:1214.2px">China</div>
<div class="n s" style="left:1395.0px;top:1214.2px">78</div>
<div class="sc" style="left:1118.7px;top:1240.4px;height:29.0px;background:#F26722"></div>
<div class="ln" style="left:1118.7px;top:1238.1px"></div>
<div class="n s" style="left:1127.0px;top:1246.5px;color:#fff4d6">42</div>
<div class="n nm" style="left:1187.0px;top:1246.5px">Kuwait</div>
<div class="n s" style="left:1395.0px;top:1246.5px">78</div>
<div class="sc" style="left:1118.7px;top:1272.8px;height:29.0px;background:#F26722"></div>
<div class="ln" style="left:1118.7px;top:1270.5px"></div>
<div class="n s" style="left:1127.0px;top:1278.9px;color:#fff4d6">42</div>
<div class="n nm" style="left:1187.0px;top:1278.9px">Solomon Islands</div>
<div class="n s" style="left:1395.0px;top:1278.9px">78</div>
<div class="sc" style="left:1118.7px;top:1305.2px;height:29.0px;background:#F26722"></div>
<div class="ln" style="left:1118.7px;top:1302.9px"></div>
<div class="n s" style="left:1127.0px;top:1311.3px;color:#fff4d6">41</div>
<div class="n nm" style="left:1187.0px;top:1311.3px">Benin</div>
<div class="n s" style="left:1395.0px;top:1311.3px">83</div>
<div class="sc" style="left:1118.7px;top:1337.6px;height:29.0px;background:#F26722"></div>
<div class="ln" style="left:1118.7px;top:1335.3px"></div>
<div class="n s" style="left:1127.0px;top:1343.7px;color:#fff4d6">41</div>
<div class="n nm" style="left:1187.0px;top:1343.7px">Guyana</div>
<div class="n s" style="left:1395.0px;top:1343.7px">83</div>
<div class="sc" style="left:1118.7px;top:1370.0px;height:29.0px;background:#F26722"></div>
<div class="ln" style="left:1118.7px;top:1367.7px"></div>
<div class="n s" style="left:1127.0px;top:1376.1px;color:#fff4d6">41</div>
<div class="n nm" style="left:1187.0px;top:1376.1px">Lesotho</div>
<div class="n s" style="left:1395.0px;top:1376.1px">83</div>
<div class="sc" style="left:1118.7px;top:1402.3px;height:29.0px;background:#F26722"></div>
<div class="ln" style="left:1118.7px;top:1400.0px"></div>
<div class="n s" style="left:1127.0px;top:1408.4px;color:#fff4d6">40</div>
<div class="n nm" style="left:1187.0px;top:1408.4px">Burkina Faso</div>
<div class="n s" style="left:1395.0px;top:1408.4px">86</div>
<div class="sc" style="left:1118.7px;top:1434.7px;height:29.0px;background:#F26722"></div>
<div class="ln" style="left:1118.7px;top:1432.4px"></div>
<div class="n s" style="left:1127.0px;top:1440.8px;color:#fff4d6">40</div>
<div class="n nm" style="left:1187.0px;top:1440.8px">India</div>
<div class="n s" style="left:1395.0px;top:1440.8px">86</div>
<div class="sc" style="left:1118.7px;top:1467.1px;height:29.0px;background:#F26722"></div>
<div class="ln" style="left:1118.7px;top:1464.8px"></div>
<div class="n s" style="left:1127.0px;top:1473.2px;color:#fff4d6">40</div>
<div class="n nm" style="left:1187.0px;top:1473.2px">Morocco</div>
<div class="n s" style="left:1395.0px;top:1473.2px">86</div>
<div class="sc" style="left:1118.7px;top:1499.5px;height:29.0px;background:#F26722"></div>
<div class="ln" style="left:1118.7px;top:1497.2px"></div>
<div class="n s" style="left:1127.0px;top:1505.6px;color:#fff4d6">40</div>
<div class="n nm" style="left:1187.0px;top:1505.6px">Timor-Leste</div>
<div class="n s" style="left:1395.0px;top:1505.6px">86</div>
<div class="sc" style="left:1118.7px;top:1531.9px;height:51.1px;background:#F26722"></div>
<div class="ln" style="left:1118.7px;top:1529.6px"></div>
<div class="n s" style="left:1127.0px;top:1538.0px;color:#fff4d6">40</div>
<div class="n nm" style="left:1187.0px;top:1538.0px">Trinidad and<br>Tobago</div>
<div class="n s" style="left:1395.0px;top:1538.0px">86</div>
<div class="sc" style="left:1118.7px;top:1586.3px;height:29.0px;background:#F26722"></div>
<div class="ln" style="left:1118.7px;top:1584.0px"></div>
<div class="n s" style="left:1127.0px;top:1592.4px;color:#fff4d6">40</div>
<div class="n nm" style="left:1187.0px;top:1592.4px">Turkey</div>
<div class="n s" style="left:1395.0px;top:1592.4px">86</div>
<div class="sc" style="left:1118.7px;top:1618.7px;height:29.0px;background:#EE4527"></div>
<div class="ln" style="left:1118.7px;top:1616.4px"></div>
<div class="n s" style="left:1127.0px;top:1624.8px;color:#fff4d6">39</div>
<div class="n nm" style="left:1187.0px;top:1624.8px">Colombia</div>
<div class="n s" style="left:1395.0px;top:1624.8px">92</div>
<div class="sc" style="left:1118.7px;top:1651.1px;height:29.0px;background:#EE4527"></div>
<div class="ln" style="left:1118.7px;top:1648.8px"></div>
<div class="n s" style="left:1127.0px;top:1657.2px;color:#fff4d6">39</div>
<div class="n nm" style="left:1187.0px;top:1657.2px">Ecuador</div>
<div class="n s" style="left:1395.0px;top:1657.2px">92</div>
<div class="sc" style="left:1118.7px;top:1683.5px;height:29.0px;background:#EE4527"></div>
<div class="ln" style="left:1118.7px;top:1681.2px"></div>
<div class="n s" style="left:1127.0px;top:1689.6px;color:#fff4d6">38</div>
<div class="n nm" style="left:1187.0px;top:1689.6px">Brazil</div>
<div class="n s" style="left:1395.0px;top:1689.6px">94</div>
<div class="sc" style="left:1118.7px;top:1715.8px;height:29.0px;background:#EE4527"></div>
<div class="ln" style="left:1118.7px;top:1713.5px"></div>
<div class="n s" style="left:1127.0px;top:1721.9px;color:#fff4d6">38</div>
<div class="n nm" style="left:1187.0px;top:1721.9px">Ethiopia</div>
<div class="n s" style="left:1395.0px;top:1721.9px">94</div>
<div class="sc" style="left:1118.7px;top:1748.2px;height:29.0px;background:#EE4527"></div>
<div class="ln" style="left:1118.7px;top:1745.9px"></div>
<div class="n s" style="left:1127.0px;top:1754.3px;color:#fff4d6">38</div>
<div class="n nm" style="left:1187.0px;top:1754.3px">Kazakhstan</div>
<div class="n s" style="left:1395.0px;top:1754.3px">94</div>
<div class="sc" style="left:1118.7px;top:1780.6px;height:29.0px;background:#EE4527"></div>
<div class="ln" style="left:1118.7px;top:1778.3px"></div>
<div class="n s" style="left:1127.0px;top:1786.7px;color:#fff4d6">38</div>
<div class="n nm" style="left:1187.0px;top:1786.7px">Peru</div>
<div class="n s" style="left:1395.0px;top:1786.7px">94</div>
<div class="sc" style="left:1118.7px;top:1813.0px;height:29.0px;background:#EE4527"></div>
<div class="ln" style="left:1118.7px;top:1810.7px"></div>
<div class="n s" style="left:1127.0px;top:1819.1px;color:#fff4d6">38</div>
<div class="n nm" style="left:1187.0px;top:1819.1px">Serbia</div>
<div class="n s" style="left:1395.0px;top:1819.1px">94</div>
<div class="sc" style="left:1118.7px;top:1845.4px;height:29.0px;background:#EE4527"></div>
<div class="ln" style="left:1118.7px;top:1843.1px"></div>
<div class="n s" style="left:1127.0px;top:1851.5px;color:#fff4d6">38</div>
<div class="n nm" style="left:1187.0px;top:1851.5px">Sri Lanka</div>
<div class="n s" style="left:1395.0px;top:1851.5px">94</div>
<div class="sc" style="left:1118.7px;top:1877.7px;height:29.0px;background:#EE4527"></div>
<div class="ln" style="left:1118.7px;top:1875.4px"></div>
<div class="n s" style="left:1127.0px;top:1883.8px;color:#fff4d6">38</div>
<div class="n nm" style="left:1187.0px;top:1883.8px">Suriname</div>
<div class="n s" style="left:1395.0px;top:1883.8px">94</div>
<div class="sc" style="left:1118.7px;top:1910.1px;height:29.0px;background:#EE4527"></div>
<div class="ln" style="left:1118.7px;top:1907.8px"></div>
<div class="n s" style="left:1127.0px;top:1916.2px;color:#fff4d6">38</div>
<div class="n nm" style="left:1187.0px;top:1916.2px">Tanzania</div>
<div class="n s" style="left:1395.0px;top:1916.2px">94</div>
<div class="sc" style="left:1118.7px;top:1942.5px;height:29.0px;background:#EE4527"></div>
<div class="ln" style="left:1118.7px;top:1940.2px"></div>
<div class="n s" style="left:1127.0px;top:1948.6px;color:#fff4d6">37</div>
<div class="n nm" style="left:1187.0px;top:1948.6px">Gambia</div>
<div class="n s" style="left:1395.0px;top:1948.6px">102</div>
<div class="sc" style="left:1118.7px;top:1974.9px;height:29.0px;background:#EE4527"></div>
<div class="ln" style="left:1118.7px;top:1972.6px"></div>
<div class="n s" style="left:1127.0px;top:1981.0px;color:#fff4d6">37</div>
<div class="n nm" style="left:1187.0px;top:1981.0px">Indonesia</div>
<div class="n s" style="left:1395.0px;top:1981.0px">102</div>
<div class="ln" style="left:1118.7px;top:2005.0px"></div>
<div class="sc" style="left:1461.5px;top:1143.3px;height:29.0px;background:#EE4527"></div>
<div class="ln" style="left:1461.5px;top:1141.0px"></div>
<div class="n s" style="left:1469.8px;top:1149.4px;color:#fff4d6">36</div>
<div class="n nm" style="left:1529.8px;top:1149.4px">Albania</div>
<div class="n s" style="left:1737.8px;top:1149.4px">104</div>
<div class="sc" style="left:1461.5px;top:1175.7px;height:29.0px;background:#EE4527"></div>
<div class="ln" style="left:1461.5px;top:1173.4px"></div>
<div class="n s" style="left:1469.8px;top:1181.8px;color:#fff4d6">36</div>
<div class="n nm" style="left:1529.8px;top:1181.8px">Algeria</div>
<div class="n s" style="left:1737.8px;top:1181.8px">104</div>
<div class="sc" style="left:1461.5px;top:1208.1px;height:29.0px;background:#EE4527"></div>
<div class="ln" style="left:1461.5px;top:1205.8px"></div>
<div class="n s" style="left:1469.8px;top:1214.2px;color:#fff4d6">36</div>
<div class="n nm" style="left:1529.8px;top:1214.2px">Cote d&#x27;Ivoire</div>
<div class="n s" style="left:1737.8px;top:1214.2px">104</div>
<div class="sc" style="left:1461.5px;top:1240.4px;height:29.0px;background:#EE4527"></div>
<div class="ln" style="left:1461.5px;top:1238.1px"></div>
<div class="n s" style="left:1469.8px;top:1246.5px;color:#fff4d6">36</div>
<div class="n nm" style="left:1529.8px;top:1246.5px">El Salvador</div>
<div class="n s" style="left:1737.8px;top:1246.5px">104</div>
<div class="sc" style="left:1461.5px;top:1272.8px;height:29.0px;background:#EE4527"></div>
<div class="ln" style="left:1461.5px;top:1270.5px"></div>
<div class="n s" style="left:1469.8px;top:1278.9px;color:#fff4d6">36</div>
<div class="n nm" style="left:1529.8px;top:1278.9px">Kosovo</div>
<div class="n s" style="left:1737.8px;top:1278.9px">104</div>
<div class="sc" style="left:1461.5px;top:1305.2px;height:29.0px;background:#EE4527"></div>
<div class="ln" style="left:1461.5px;top:1302.9px"></div>
<div class="n s" style="left:1469.8px;top:1311.3px;color:#fff4d6">36</div>
<div class="n nm" style="left:1529.8px;top:1311.3px">Thailand</div>
<div class="n s" style="left:1737.8px;top:1311.3px">104</div>
<div class="sc" style="left:1461.5px;top:1337.6px;height:29.0px;background:#EE4527"></div>
<div class="ln" style="left:1461.5px;top:1335.3px"></div>
<div class="n s" style="left:1469.8px;top:1343.7px;color:#fff4d6">36</div>
<div class="n nm" style="left:1529.8px;top:1343.7px">Vietnam</div>
<div class="n s" style="left:1737.8px;top:1343.7px">104</div>
<div class="sc" style="left:1461.5px;top:1370.0px;height:51.1px;background:#EE4527"></div>
<div class="ln" style="left:1461.5px;top:1367.7px"></div>
<div class="n s" style="left:1469.8px;top:1376.1px;color:#fff4d6">35</div>
<div class="n nm" style="left:1529.8px;top:1376.1px">Bosnia and<br>Herzegovina</div>
<div class="n s" style="left:1737.8px;top:1376.1px">111</div>
<div class="sc" style="left:1461.5px;top:1424.4px;height:29.0px;background:#EE4527"></div>
<div class="ln" style="left:1461.5px;top:1422.1px"></div>
<div class="n s" style="left:1469.8px;top:1430.5px;color:#fff4d6">35</div>
<div class="n nm" style="left:1529.8px;top:1430.5px">Mongolia</div>
<div class="n s" style="left:1737.8px;top:1430.5px">111</div>
<div class="sc" style="left:1461.5px;top:1456.8px;height:29.0px;background:#EE4527"></div>
<div class="ln" style="left:1461.5px;top:1454.5px"></div>
<div class="n s" style="left:1469.8px;top:1462.9px;color:#fff4d6">35</div>
<div class="n nm" style="left:1529.8px;top:1462.9px">North Macedonia</div>
<div class="n s" style="left:1737.8px;top:1462.9px">111</div>
<div class="sc" style="left:1461.5px;top:1489.2px;height:29.0px;background:#EE4527"></div>
<div class="ln" style="left:1461.5px;top:1486.9px"></div>
<div class="n s" style="left:1469.8px;top:1495.3px;color:#fff4d6">35</div>
<div class="n nm" style="left:1529.8px;top:1495.3px">Panama</div>
<div class="n s" style="left:1737.8px;top:1495.3px">111</div>
<div class="sc" style="left:1461.5px;top:1521.6px;height:29.0px;background:#EE4527"></div>
<div class="ln" style="left:1461.5px;top:1519.3px"></div>
<div class="n s" style="left:1469.8px;top:1527.7px;color:#fff4d6">34</div>
<div class="n nm" style="left:1529.8px;top:1527.7px">Moldova</div>
<div class="n s" style="left:1737.8px;top:1527.7px">115</div>
<div class="sc" style="left:1461.5px;top:1553.9px;height:29.0px;background:#EE4527"></div>
<div class="ln" style="left:1461.5px;top:1551.6px"></div>
<div class="n s" style="left:1469.8px;top:1560.0px;color:#fff4d6">34</div>
<div class="n nm" style="left:1529.8px;top:1560.0px">Philippines</div>
<div class="n s" style="left:1737.8px;top:1560.0px">115</div>
<div class="sc" style="left:1461.5px;top:1586.3px;height:29.0px;background:#EE4527"></div>
<div class="ln" style="left:1461.5px;top:1584.0px"></div>
<div class="n s" style="left:1469.8px;top:1592.4px;color:#fff4d6">33</div>
<div class="n nm" style="left:1529.8px;top:1592.4px">Egypt</div>
<div class="n s" style="left:1737.8px;top:1592.4px">117</div>
<div class="sc" style="left:1461.5px;top:1618.7px;height:29.0px;background:#EE4527"></div>
<div class="ln" style="left:1461.5px;top:1616.4px"></div>
<div class="n s" style="left:1469.8px;top:1624.8px;color:#fff4d6">33</div>
<div class="n nm" style="left:1529.8px;top:1624.8px">Eswatini</div>
<div class="n s" style="left:1737.8px;top:1624.8px">117</div>
<div class="sc" style="left:1461.5px;top:1651.1px;height:29.0px;background:#EE4527"></div>
<div class="ln" style="left:1461.5px;top:1648.8px"></div>
<div class="n s" style="left:1469.8px;top:1657.2px;color:#fff4d6">33</div>
<div class="n nm" style="left:1529.8px;top:1657.2px">Nepal</div>
<div class="n s" style="left:1737.8px;top:1657.2px">117</div>
<div class="sc" style="left:1461.5px;top:1683.5px;height:29.0px;background:#EE4527"></div>
<div class="ln" style="left:1461.5px;top:1681.2px"></div>
<div class="n s" style="left:1469.8px;top:1689.6px;color:#fff4d6">33</div>
<div class="n nm" style="left:1529.8px;top:1689.6px">Sierra Leone</div>
<div class="n s" style="left:1737.8px;top:1689.6px">117</div>
<div class="sc" style="left:1461.5px;top:1715.8px;height:29.0px;background:#EE4527"></div>
<div class="ln" style="left:1461.5px;top:1713.5px"></div>
<div class="n s" style="left:1469.8px;top:1721.9px;color:#fff4d6">33</div>
<div class="n nm" style="left:1529.8px;top:1721.9px">Ukraine</div>
<div class="n s" style="left:1737.8px;top:1721.9px">117</div>
<div class="sc" style="left:1461.5px;top:1748.2px;height:29.0px;background:#EE4527"></div>
<div class="ln" style="left:1461.5px;top:1745.9px"></div>
<div class="n s" style="left:1469.8px;top:1754.3px;color:#fff4d6">33</div>
<div class="n nm" style="left:1529.8px;top:1754.3px">Zambia</div>
<div class="n s" style="left:1737.8px;top:1754.3px">117</div>
<div class="sc" style="left:1461.5px;top:1780.6px;height:29.0px;background:#EE4527"></div>
<div class="ln" style="left:1461.5px;top:1778.3px"></div>
<div class="n s" style="left:1469.8px;top:1786.7px;color:#fff4d6">32</div>
<div class="n nm" style="left:1529.8px;top:1786.7px">Niger</div>
<div class="n s" style="left:1737.8px;top:1786.7px">123</div>
<div class="sc" style="left:1461.5px;top:1813.0px;height:29.0px;background:#EE4527"></div>
<div class="ln" style="left:1461.5px;top:1810.7px"></div>
<div class="n s" style="left:1469.8px;top:1819.1px;color:#fff4d6">31</div>
<div class="n nm" style="left:1529.8px;top:1819.1px">Bolivia</div>
<div class="n s" style="left:1737.8px;top:1819.1px">124</div>
<div class="sc" style="left:1461.5px;top:1845.4px;height:29.0px;background:#EE4527"></div>
<div class="ln" style="left:1461.5px;top:1843.1px"></div>
<div class="n s" style="left:1469.8px;top:1851.5px;color:#fff4d6">31</div>
<div class="n nm" style="left:1529.8px;top:1851.5px">Kenya</div>
<div class="n s" style="left:1737.8px;top:1851.5px">124</div>
<div class="sc" style="left:1461.5px;top:1877.7px;height:29.0px;background:#EE4527"></div>
<div class="ln" style="left:1461.5px;top:1875.4px"></div>
<div class="n s" style="left:1469.8px;top:1883.8px;color:#fff4d6">31</div>
<div class="n nm" style="left:1529.8px;top:1883.8px">Kyrgyzstan</div>
<div class="n s" style="left:1737.8px;top:1883.8px">124</div>
<div class="sc" style="left:1461.5px;top:1910.1px;height:29.0px;background:#EE4527"></div>
<div class="ln" style="left:1461.5px;top:1907.8px"></div>
<div class="n s" style="left:1469.8px;top:1916.2px;color:#fff4d6">31</div>
<div class="n nm" style="left:1529.8px;top:1916.2px">Mexico</div>
<div class="n s" style="left:1737.8px;top:1916.2px">124</div>
<div class="sc" style="left:1461.5px;top:1942.5px;height:29.0px;background:#EE4527"></div>
<div class="ln" style="left:1461.5px;top:1940.2px"></div>
<div class="n s" style="left:1469.8px;top:1948.6px;color:#fff4d6">31</div>
<div class="n nm" style="left:1529.8px;top:1948.6px">Pakistan</div>
<div class="n s" style="left:1737.8px;top:1948.6px">124</div>
<div class="sc" style="left:1461.5px;top:1974.9px;height:29.0px;background:#EE4527"></div>
<div class="ln" style="left:1461.5px;top:1972.6px"></div>
<div class="n s" style="left:1469.8px;top:1981.0px;color:#fff4d6">30</div>
<div class="n nm" style="left:1529.8px;top:1981.0px">Azerbaijan</div>
<div class="n s" style="left:1737.8px;top:1981.0px">129</div>
<div class="sc" style="left:1461.5px;top:2007.3px;height:29.0px;background:#EE4527"></div>
<div class="ln" style="left:1461.5px;top:2005.0px"></div>
<div class="n s" style="left:1469.8px;top:2013.4px;color:#fff4d6">30</div>
<div class="n nm" style="left:1529.8px;top:2013.4px">Gabon</div>
<div class="n s" style="left:1737.8px;top:2013.4px">129</div>
<div class="ln" style="left:1461.5px;top:2037.3px"></div>
<div class="sc" style="left:1804.5px;top:1143.3px;height:29.0px;background:#EE4527"></div>
<div class="ln" style="left:1804.5px;top:1141.0px"></div>
<div class="n s" style="left:1812.8px;top:1149.4px;color:#fff4d6">30</div>
<div class="n nm" style="left:1872.8px;top:1149.4px">Malawi</div>
<div class="n s" style="left:2080.8px;top:1149.4px">129</div>
<div class="sc" style="left:1804.5px;top:1175.7px;height:29.0px;background:#EE4527"></div>
<div class="ln" style="left:1804.5px;top:1173.4px"></div>
<div class="n s" style="left:1812.8px;top:1181.8px;color:#fff4d6">30</div>
<div class="n nm" style="left:1872.8px;top:1181.8px">Mali</div>
<div class="n s" style="left:2080.8px;top:1181.8px">129</div>
<div class="sc" style="left:1804.5px;top:1208.1px;height:29.0px;background:#EE4527"></div>
<div class="ln" style="left:1804.5px;top:1205.8px"></div>
<div class="n s" style="left:1812.8px;top:1214.2px;color:#fff4d6">30</div>
<div class="n nm" style="left:1872.8px;top:1214.2px">Russia</div>
<div class="n s" style="left:2080.8px;top:1214.2px">129</div>
<div class="sc" style="left:1804.5px;top:1240.4px;height:29.0px;background:#E01E26"></div>
<div class="ln" style="left:1804.5px;top:1238.1px"></div>
<div class="n s" style="left:1812.8px;top:1246.5px;color:#fff4d6">29</div>
<div class="n nm" style="left:1872.8px;top:1246.5px">Laos</div>
<div class="n s" style="left:2080.8px;top:1246.5px">134</div>
<div class="sc" style="left:1804.5px;top:1272.8px;height:29.0px;background:#E01E26"></div>
<div class="ln" style="left:1804.5px;top:1270.5px"></div>
<div class="n s" style="left:1812.8px;top:1278.9px;color:#fff4d6">29</div>
<div class="n nm" style="left:1872.8px;top:1278.9px">Mauritania</div>
<div class="n s" style="left:2080.8px;top:1278.9px">134</div>
<div class="sc" style="left:1804.5px;top:1305.2px;height:29.0px;background:#E01E26"></div>
<div class="ln" style="left:1804.5px;top:1302.9px"></div>
<div class="n s" style="left:1812.8px;top:1311.3px;color:#fff4d6">29</div>
<div class="n nm" style="left:1872.8px;top:1311.3px">Togo</div>
<div class="n s" style="left:2080.8px;top:1311.3px">134</div>
<div class="sc" style="left:1804.5px;top:1337.6px;height:51.1px;background:#E01E26"></div>
<div class="ln" style="left:1804.5px;top:1335.3px"></div>
<div class="n s" style="left:1812.8px;top:1343.7px;color:#fff4d6">28</div>
<div class="n nm" style="left:1872.8px;top:1343.7px">Dominican<br>Republic</div>
<div class="n s" style="left:2080.8px;top:1343.7px">137</div>
<div class="sc" style="left:1804.5px;top:1392.0px;height:29.0px;background:#E01E26"></div>
<div class="ln" style="left:1804.5px;top:1389.7px"></div>
<div class="n s" style="left:1812.8px;top:1398.1px;color:#fff4d6">28</div>
<div class="n nm" style="left:1872.8px;top:1398.1px">Guinea</div>
<div class="n s" style="left:2080.8px;top:1398.1px">137</div>
<div class="sc" style="left:1804.5px;top:1424.4px;height:29.0px;background:#E01E26"></div>
<div class="ln" style="left:1804.5px;top:1422.1px"></div>
<div class="n s" style="left:1812.8px;top:1430.5px;color:#fff4d6">28</div>
<div class="n nm" style="left:1872.8px;top:1430.5px">Liberia</div>
<div class="n s" style="left:2080.8px;top:1430.5px">137</div>
<div class="sc" style="left:1804.5px;top:1456.8px;height:29.0px;background:#E01E26"></div>
<div class="ln" style="left:1804.5px;top:1454.5px"></div>
<div class="n s" style="left:1812.8px;top:1462.9px;color:#fff4d6">28</div>
<div class="n nm" style="left:1872.8px;top:1462.9px">Myanmar</div>
<div class="n s" style="left:2080.8px;top:1462.9px">137</div>
<div class="sc" style="left:1804.5px;top:1489.2px;height:29.0px;background:#E01E26"></div>
<div class="ln" style="left:1804.5px;top:1486.9px"></div>
<div class="n s" style="left:1812.8px;top:1495.3px;color:#fff4d6">28</div>
<div class="n nm" style="left:1872.8px;top:1495.3px">Paraguay</div>
<div class="n s" style="left:2080.8px;top:1495.3px">137</div>
<div class="sc" style="left:1804.5px;top:1521.6px;height:29.0px;background:#E01E26"></div>
<div class="ln" style="left:1804.5px;top:1519.3px"></div>
<div class="n s" style="left:1812.8px;top:1527.7px;color:#fff4d6">27</div>
<div class="n nm" style="left:1872.8px;top:1527.7px">Angola</div>
<div class="n s" style="left:2080.8px;top:1527.7px">142</div>
<div class="sc" style="left:1804.5px;top:1553.9px;height:29.0px;background:#E01E26"></div>
<div class="ln" style="left:1804.5px;top:1551.6px"></div>
<div class="n s" style="left:1812.8px;top:1560.0px;color:#fff4d6">27</div>
<div class="n nm" style="left:1872.8px;top:1560.0px">Djibouti</div>
<div class="n s" style="left:2080.8px;top:1560.0px">142</div>
<div class="sc" style="left:1804.5px;top:1586.3px;height:51.1px;background:#E01E26"></div>
<div class="ln" style="left:1804.5px;top:1584.0px"></div>
<div class="n s" style="left:1812.8px;top:1592.4px;color:#fff4d6">27</div>
<div class="n nm" style="left:1872.8px;top:1592.4px">Papua New<br>Guinea</div>
<div class="n s" style="left:2080.8px;top:1592.4px">142</div>
<div class="sc" style="left:1804.5px;top:1640.8px;height:29.0px;background:#E01E26"></div>
<div class="ln" style="left:1804.5px;top:1638.5px"></div>
<div class="n s" style="left:1812.8px;top:1646.9px;color:#fff4d6">27</div>
<div class="n nm" style="left:1872.8px;top:1646.9px">Uganda</div>
<div class="n s" style="left:2080.8px;top:1646.9px">142</div>
<div class="sc" style="left:1804.5px;top:1673.1px;height:29.0px;background:#E01E26"></div>
<div class="ln" style="left:1804.5px;top:1670.8px"></div>
<div class="n s" style="left:1812.8px;top:1679.2px;color:#fff4d6">26</div>
<div class="n nm" style="left:1872.8px;top:1679.2px">Bangladesh</div>
<div class="n s" style="left:2080.8px;top:1679.2px">146</div>
<div class="sc" style="left:1804.5px;top:1705.5px;height:51.1px;background:#E01E26"></div>
<div class="ln" style="left:1804.5px;top:1703.2px"></div>
<div class="n s" style="left:1812.8px;top:1711.6px;color:#fff4d6">26</div>
<div class="n nm" style="left:1872.8px;top:1711.6px">Central African<br>Republic</div>
<div class="n s" style="left:2080.8px;top:1711.6px">146</div>
<div class="sc" style="left:1804.5px;top:1760.0px;height:29.0px;background:#E01E26"></div>
<div class="ln" style="left:1804.5px;top:1757.7px"></div>
<div class="n s" style="left:1812.8px;top:1766.1px;color:#fff4d6">26</div>
<div class="n nm" style="left:1872.8px;top:1766.1px">Uzbekistan</div>
<div class="n s" style="left:2080.8px;top:1766.1px">146</div>
<div class="sc" style="left:1804.5px;top:1792.4px;height:29.0px;background:#E01E26"></div>
<div class="ln" style="left:1804.5px;top:1790.1px"></div>
<div class="n s" style="left:1812.8px;top:1798.5px;color:#fff4d6">25</div>
<div class="n nm" style="left:1872.8px;top:1798.5px">Cameroon</div>
<div class="n s" style="left:2080.8px;top:1798.5px">149</div>
<div class="sc" style="left:1804.5px;top:1824.7px;height:29.0px;background:#E01E26"></div>
<div class="ln" style="left:1804.5px;top:1822.4px"></div>
<div class="n s" style="left:1812.8px;top:1830.8px;color:#fff4d6">25</div>
<div class="n nm" style="left:1872.8px;top:1830.8px">Guatemala</div>
<div class="n s" style="left:2080.8px;top:1830.8px">149</div>
<div class="sc" style="left:1804.5px;top:1857.1px;height:29.0px;background:#E01E26"></div>
<div class="ln" style="left:1804.5px;top:1854.8px"></div>
<div class="n s" style="left:1812.8px;top:1863.2px;color:#fff4d6">25</div>
<div class="n nm" style="left:1872.8px;top:1863.2px">Iran</div>
<div class="n s" style="left:2080.8px;top:1863.2px">149</div>
<div class="sc" style="left:1804.5px;top:1889.5px;height:29.0px;background:#E01E26"></div>
<div class="ln" style="left:1804.5px;top:1887.2px"></div>
<div class="n s" style="left:1812.8px;top:1895.6px;color:#fff4d6">25</div>
<div class="n nm" style="left:1872.8px;top:1895.6px">Lebanon</div>
<div class="n s" style="left:2080.8px;top:1895.6px">149</div>
<div class="sc" style="left:1804.5px;top:1921.9px;height:29.0px;background:#E01E26"></div>
<div class="ln" style="left:1804.5px;top:1919.6px"></div>
<div class="n s" style="left:1812.8px;top:1928.0px;color:#fff4d6">25</div>
<div class="n nm" style="left:1872.8px;top:1928.0px">Madagascar</div>
<div class="n s" style="left:2080.8px;top:1928.0px">149</div>
<div class="sc" style="left:1804.5px;top:1954.3px;height:29.0px;background:#E01E26"></div>
<div class="ln" style="left:1804.5px;top:1952.0px"></div>
<div class="n s" style="left:1812.8px;top:1960.4px;color:#fff4d6">25</div>
<div class="n nm" style="left:1872.8px;top:1960.4px">Mozambique</div>
<div class="n s" style="left:2080.8px;top:1960.4px">149</div>
<div class="sc" style="left:1804.5px;top:1986.6px;height:29.0px;background:#E01E26"></div>
<div class="ln" style="left:1804.5px;top:1984.3px"></div>
<div class="n s" style="left:1812.8px;top:1992.7px;color:#fff4d6">25</div>
<div class="n nm" style="left:1872.8px;top:1992.7px">Nigeria</div>
<div class="n s" style="left:2080.8px;top:1992.7px">149</div>
<div class="ln" style="left:1804.5px;top:2016.7px"></div>
<div class="sc" style="left:2146.8px;top:1143.3px;height:29.0px;background:#E01E26"></div>
<div class="ln" style="left:2146.8px;top:1141.0px"></div>
<div class="n s" style="left:2155.1px;top:1149.4px;color:#fff4d6">25</div>
<div class="n nm" style="left:2215.1px;top:1149.4px">Tajikistan</div>
<div class="n s" style="left:2423.1px;top:1149.4px">149</div>
<div class="sc" style="left:2146.8px;top:1175.7px;height:29.0px;background:#E01E26"></div>
<div class="ln" style="left:2146.8px;top:1173.4px"></div>
<div class="n s" style="left:2155.1px;top:1181.8px;color:#fff4d6">24</div>
<div class="n nm" style="left:2215.1px;top:1181.8px">Honduras</div>
<div class="n s" style="left:2423.1px;top:1181.8px">157</div>
<div class="sc" style="left:2146.8px;top:1208.1px;height:29.0px;background:#E01E26"></div>
<div class="ln" style="left:2146.8px;top:1205.8px"></div>
<div class="n s" style="left:2155.1px;top:1214.2px;color:#fff4d6">24</div>
<div class="n nm" style="left:2215.1px;top:1214.2px">Zimbabwe</div>
<div class="n s" style="left:2423.1px;top:1214.2px">157</div>
<div class="sc" style="left:2146.8px;top:1240.4px;height:29.0px;background:#E01E26"></div>
<div class="ln" style="left:2146.8px;top:1238.1px"></div>
<div class="n s" style="left:2155.1px;top:1246.5px;color:#fff4d6">22</div>
<div class="n nm" style="left:2215.1px;top:1246.5px">Nicaragua</div>
<div class="n s" style="left:2423.1px;top:1246.5px">159</div>
<div class="sc" style="left:2146.8px;top:1272.8px;height:29.0px;background:#E01E26"></div>
<div class="ln" style="left:2146.8px;top:1270.5px"></div>
<div class="n s" style="left:2155.1px;top:1278.9px;color:#fff4d6">21</div>
<div class="n nm" style="left:2215.1px;top:1278.9px">Cambodia</div>
<div class="n s" style="left:2423.1px;top:1278.9px">160</div>
<div class="sc" style="left:2146.8px;top:1305.2px;height:29.0px;background:#E01E26"></div>
<div class="ln" style="left:2146.8px;top:1302.9px"></div>
<div class="n s" style="left:2155.1px;top:1311.3px;color:#fff4d6">21</div>
<div class="n nm" style="left:2215.1px;top:1311.3px">Chad</div>
<div class="n s" style="left:2423.1px;top:1311.3px">160</div>
<div class="sc" style="left:2146.8px;top:1337.6px;height:29.0px;background:#E01E26"></div>
<div class="ln" style="left:2146.8px;top:1335.3px"></div>
<div class="n s" style="left:2155.1px;top:1343.7px;color:#fff4d6">21</div>
<div class="n nm" style="left:2215.1px;top:1343.7px">Comoros</div>
<div class="n s" style="left:2423.1px;top:1343.7px">160</div>
<div class="sc" style="left:2146.8px;top:1370.0px;height:29.0px;background:#E01E26"></div>
<div class="ln" style="left:2146.8px;top:1367.7px"></div>
<div class="n s" style="left:2155.1px;top:1376.1px;color:#fff4d6">21</div>
<div class="n nm" style="left:2215.1px;top:1376.1px">Eritrea</div>
<div class="n s" style="left:2423.1px;top:1376.1px">160</div>
<div class="sc" style="left:2146.8px;top:1402.3px;height:29.0px;background:#E01E26"></div>
<div class="ln" style="left:2146.8px;top:1400.0px"></div>
<div class="n s" style="left:2155.1px;top:1408.4px;color:#fff4d6">21</div>
<div class="n nm" style="left:2215.1px;top:1408.4px">Iraq</div>
<div class="n s" style="left:2423.1px;top:1408.4px">160</div>
<div class="sc" style="left:2146.8px;top:1434.7px;height:29.0px;background:#AE171C"></div>
<div class="ln" style="left:2146.8px;top:1432.4px"></div>
<div class="n s" style="left:2155.1px;top:1440.8px;color:#fff4d6">19</div>
<div class="n nm" style="left:2215.1px;top:1440.8px">Afghanistan</div>
<div class="n s" style="left:2423.1px;top:1440.8px">165</div>
<div class="sc" style="left:2146.8px;top:1467.1px;height:29.0px;background:#AE171C"></div>
<div class="ln" style="left:2146.8px;top:1464.8px"></div>
<div class="n s" style="left:2155.1px;top:1473.2px;color:#fff4d6">19</div>
<div class="n nm" style="left:2215.1px;top:1473.2px">Burundi</div>
<div class="n s" style="left:2423.1px;top:1473.2px">165</div>
<div class="sc" style="left:2146.8px;top:1499.5px;height:29.0px;background:#AE171C"></div>
<div class="ln" style="left:2146.8px;top:1497.2px"></div>
<div class="n s" style="left:2155.1px;top:1505.6px;color:#fff4d6">19</div>
<div class="n nm" style="left:2215.1px;top:1505.6px">Congo</div>
<div class="n s" style="left:2423.1px;top:1505.6px">165</div>
<div class="sc" style="left:2146.8px;top:1531.9px;height:29.0px;background:#AE171C"></div>
<div class="ln" style="left:2146.8px;top:1529.6px"></div>
<div class="n s" style="left:2155.1px;top:1538.0px;color:#fff4d6">19</div>
<div class="n nm" style="left:2215.1px;top:1538.0px">Guinea Bissau</div>
<div class="n s" style="left:2423.1px;top:1538.0px">165</div>
<div class="sc" style="left:2146.8px;top:1564.2px;height:29.0px;background:#AE171C"></div>
<div class="ln" style="left:2146.8px;top:1561.9px"></div>
<div class="n s" style="left:2155.1px;top:1570.3px;color:#fff4d6">19</div>
<div class="n nm" style="left:2215.1px;top:1570.3px">Turkmenistan</div>
<div class="n s" style="left:2423.1px;top:1570.3px">165</div>
<div class="sc" style="left:2146.8px;top:1596.6px;height:74.2px;background:#AE171C"></div>
<div class="ln" style="left:2146.8px;top:1594.3px"></div>
<div class="n s" style="left:2155.1px;top:1602.7px;color:#fff4d6">18</div>
<div class="n nm" style="left:2215.1px;top:1602.7px">Democratic<br>Republic of<br>the Congo</div>
<div class="n s" style="left:2423.1px;top:1602.7px">170</div>
<div class="sc" style="left:2146.8px;top:1674.2px;height:29.0px;background:#AE171C"></div>
<div class="ln" style="left:2146.8px;top:1671.9px"></div>
<div class="n s" style="left:2155.1px;top:1680.3px;color:#fff4d6">18</div>
<div class="n nm" style="left:2215.1px;top:1680.3px">Haiti</div>
<div class="n s" style="left:2423.1px;top:1680.3px">170</div>
<div class="sc" style="left:2146.8px;top:1706.6px;height:29.0px;background:#AE171C"></div>
<div class="ln" style="left:2146.8px;top:1704.3px"></div>
<div class="n s" style="left:2155.1px;top:1712.7px;color:#fff4d6">18</div>
<div class="n nm" style="left:2215.1px;top:1712.7px">Korea, North</div>
<div class="n s" style="left:2423.1px;top:1712.7px">170</div>
<div class="sc" style="left:2146.8px;top:1739.0px;height:29.0px;background:#AE171C"></div>
<div class="ln" style="left:2146.8px;top:1736.7px"></div>
<div class="n s" style="left:2155.1px;top:1745.1px;color:#fff4d6">17</div>
<div class="n nm" style="left:2215.1px;top:1745.1px">Libya</div>
<div class="n s" style="left:2423.1px;top:1745.1px">173</div>
<div class="sc" style="left:2146.8px;top:1771.4px;height:29.0px;background:#AE171C"></div>
<div class="ln" style="left:2146.8px;top:1769.1px"></div>
<div class="n s" style="left:2155.1px;top:1777.5px;color:#fff4d6">16</div>
<div class="n nm" style="left:2215.1px;top:1777.5px">Equatorial Guinea</div>
<div class="n s" style="left:2423.1px;top:1777.5px">174</div>
<div class="sc" style="left:2146.8px;top:1803.7px;height:29.0px;background:#AE171C"></div>
<div class="ln" style="left:2146.8px;top:1801.4px"></div>
<div class="n s" style="left:2155.1px;top:1809.8px;color:#fff4d6">16</div>
<div class="n nm" style="left:2215.1px;top:1809.8px">Sudan</div>
<div class="n s" style="left:2423.1px;top:1809.8px">174</div>
<div class="sc" style="left:2146.8px;top:1836.1px;height:29.0px;background:#AE171C"></div>
<div class="ln" style="left:2146.8px;top:1833.8px"></div>
<div class="n s" style="left:2155.1px;top:1842.2px;color:#fff4d6">15</div>
<div class="n nm" style="left:2215.1px;top:1842.2px">Venezuela</div>
<div class="n s" style="left:2423.1px;top:1842.2px">176</div>
<div class="sc" style="left:2146.8px;top:1868.5px;height:29.0px;background:#AE171C"></div>
<div class="ln" style="left:2146.8px;top:1866.2px"></div>
<div class="n s" style="left:2155.1px;top:1874.6px;color:#fff4d6">15</div>
<div class="n nm" style="left:2215.1px;top:1874.6px">Yemen</div>
<div class="n s" style="left:2423.1px;top:1874.6px">176</div>
<div class="sc" style="left:2146.8px;top:1900.9px;height:29.0px;background:#AE171C"></div>
<div class="ln" style="left:2146.8px;top:1898.6px"></div>
<div class="n s" style="left:2155.1px;top:1907.0px;color:#fff4d6">14</div>
<div class="n nm" style="left:2215.1px;top:1907.0px">Syria</div>
<div class="n s" style="left:2423.1px;top:1907.0px">178</div>
<div class="sc" style="left:2146.8px;top:1933.3px;height:29.0px;background:#AE171C"></div>
<div class="ln" style="left:2146.8px;top:1931.0px"></div>
<div class="n s" style="left:2155.1px;top:1939.4px;color:#fff4d6">12</div>
<div class="n nm" style="left:2215.1px;top:1939.4px">Somalia</div>
<div class="n s" style="left:2423.1px;top:1939.4px">179</div>
<div class="sc" style="left:2146.8px;top:1965.6px;height:29.0px;background:#AE171C"></div>
<div class="ln" style="left:2146.8px;top:1963.3px"></div>
<div class="n s" style="left:2155.1px;top:1971.7px;color:#fff4d6">12</div>
<div class="n nm" style="left:2215.1px;top:1971.7px">South Sudan</div>
<div class="n s" style="left:2423.1px;top:1971.7px">179</div>
<div class="ln" style="left:2146.8px;top:1995.7px"></div>
<div style="position:absolute;left:147.8px;top:2273.6px;width:600px;height:31px;background:linear-gradient(90deg,#7b1416 0%,#8d1519 8%,#b4161d 16%,#e01b24 25%,#ec3a24 33%,#f15a22 39%,#f47a20 48%,#f7931e 56%,#fbaa19 66%,#fdc010 75%,#ffd800 85%,#ffee00 94%,#fff200 100%)"></div>
<div style="position:absolute;left:813.8px;top:2273.6px;width:45.5px;height:31px;background:#e2e3e4"></div>
<svg style="position:absolute;left:0;top:2300px" width="900" height="20" viewBox="0 2300 900 20"><path d="M165.7 2304 L175.7 2304 L170.7 2311 Z" fill="#7b1416"/><path d="M226.7 2304 L236.7 2304 L231.7 2311 Z" fill="#a8161c"/><path d="M287.7 2304 L297.7 2304 L292.7 2311 Z" fill="#dc1b24"/><path d="M348.7 2304 L358.7 2304 L353.7 2311 Z" fill="#ed4023"/><path d="M409.7 2304 L419.7 2304 L414.7 2311 Z" fill="#f26522"/><path d="M470.7 2304 L480.7 2304 L475.7 2311 Z" fill="#f5821f"/><path d="M531.7 2304 L541.7 2304 L536.7 2311 Z" fill="#f99d1c"/><path d="M592.7 2304 L602.7 2304 L597.7 2311 Z" fill="#fdb813"/><path d="M653.7 2304 L663.7 2304 L658.7 2311 Z" fill="#ffd400"/><path d="M713.1 2304 L723.1 2304 L718.1 2311 Z" fill="#fff000"/><path d="M830.4 2304 L840.4 2304 L835.4 2311 Z" fill="#e2e3e4"/></svg>
<svg style="position:absolute;left:2355px;top:2305px" width="120" height="40" viewBox="2355 2305 120 40">
<g fill="none" stroke="#1d1d1b" stroke-width="3.2">
<circle cx="2377.5" cy="2324.5" r="13.4"/><circle cx="2416.7" cy="2324.5" r="13.4"/><circle cx="2454.4" cy="2324.5" r="13.4"/>
</g>
<g fill="none" stroke="#1d1d1b" stroke-width="2.6">
<path d="M2376 2321.2 a4 4 0 1 0 0 6.6"/><path d="M2384.3 2321.2 a4 4 0 1 0 0 6.6"/>
</g>
<circle cx="2416.7" cy="2316.6" r="2.3" fill="#1d1d1b"/>
<path d="M2412.6 2320 h8.2 v7 h-2 v7 h-4.2 v-7 h-2 z" fill="#1d1d1b"/>
<path d="M2448.4 2321.2 h12 M2448.4 2327.6 h12" stroke="#1d1d1b" stroke-width="3" fill="none"/>
</svg>
</body></html>
